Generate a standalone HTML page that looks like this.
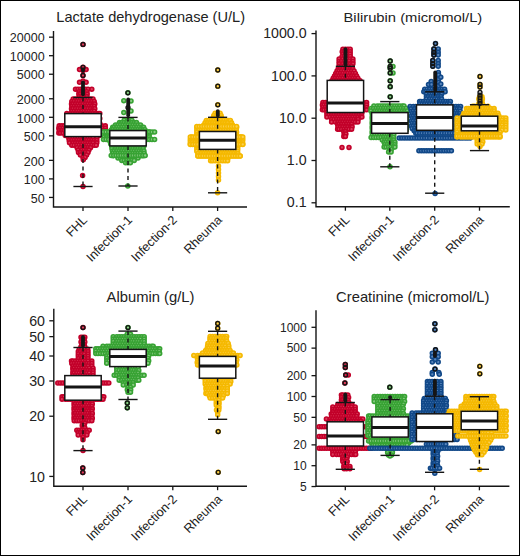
<!DOCTYPE html>
<html><head><meta charset="utf-8"><style>
html,body{margin:0;padding:0;background:#fff;}
svg{display:block;font-family:"Liberation Sans", sans-serif;}
</style></head><body>
<svg width="520" height="556" viewBox="0 0 520 556">
<rect x="0" y="0" width="520" height="556" fill="#fff"/>
<path d="M53.5,31.0 V207.0 H247.0" fill="none" stroke="#151515" stroke-width="1.4"/>
<line x1="49.0" y1="37.16" x2="53.5" y2="37.16" stroke="#151515" stroke-width="1.3"/>
<text x="44.6" y="42.36" font-size="12.5" text-anchor="end" fill="#222">20000</text>
<line x1="49.0" y1="55.70" x2="53.5" y2="55.70" stroke="#151515" stroke-width="1.3"/>
<text x="44.6" y="60.90" font-size="12.5" text-anchor="end" fill="#222">10000</text>
<line x1="49.0" y1="74.24" x2="53.5" y2="74.24" stroke="#151515" stroke-width="1.3"/>
<text x="44.6" y="79.44" font-size="12.5" text-anchor="end" fill="#222">5000</text>
<line x1="49.0" y1="98.76" x2="53.5" y2="98.76" stroke="#151515" stroke-width="1.3"/>
<text x="44.6" y="103.96" font-size="12.5" text-anchor="end" fill="#222">2000</text>
<line x1="49.0" y1="117.30" x2="53.5" y2="117.30" stroke="#151515" stroke-width="1.3"/>
<text x="44.6" y="122.50" font-size="12.5" text-anchor="end" fill="#222">1000</text>
<line x1="49.0" y1="135.84" x2="53.5" y2="135.84" stroke="#151515" stroke-width="1.3"/>
<text x="44.6" y="141.04" font-size="12.5" text-anchor="end" fill="#222">500</text>
<line x1="49.0" y1="160.36" x2="53.5" y2="160.36" stroke="#151515" stroke-width="1.3"/>
<text x="44.6" y="165.56" font-size="12.5" text-anchor="end" fill="#222">200</text>
<line x1="49.0" y1="178.90" x2="53.5" y2="178.90" stroke="#151515" stroke-width="1.3"/>
<text x="44.6" y="184.10" font-size="12.5" text-anchor="end" fill="#222">100</text>
<line x1="49.0" y1="197.44" x2="53.5" y2="197.44" stroke="#151515" stroke-width="1.3"/>
<text x="44.6" y="202.64" font-size="12.5" text-anchor="end" fill="#222">50</text>
<line x1="83.0" y1="207.0" x2="83.0" y2="211.0" stroke="#151515" stroke-width="1.3"/>
<text x="88.00" y="220.80" font-size="12.6" text-anchor="end" fill="#222" transform="rotate(-45 88.00 220.80)">FHL</text>
<line x1="128.0" y1="207.0" x2="128.0" y2="211.0" stroke="#151515" stroke-width="1.3"/>
<text x="133.00" y="220.80" font-size="12.6" text-anchor="end" fill="#222" transform="rotate(-45 133.00 220.80)">Infection-1</text>
<line x1="172.8" y1="207.0" x2="172.8" y2="211.0" stroke="#151515" stroke-width="1.3"/>
<text x="177.80" y="220.80" font-size="12.6" text-anchor="end" fill="#222" transform="rotate(-45 177.80 220.80)">Infection-2</text>
<line x1="217.6" y1="207.0" x2="217.6" y2="211.0" stroke="#151515" stroke-width="1.3"/>
<text x="222.60" y="220.80" font-size="12.6" text-anchor="end" fill="#222" transform="rotate(-45 222.60 220.80)">Rheuma</text>
<text x="56.3" y="22.3" font-size="14.5" fill="#222" textLength="188.7" lengthAdjust="spacingAndGlyphs">Lactate dehydrogenase (U/L)</text>
<g stroke-width="1.6" fill="#dc3e5c" stroke="#c2002a">
<circle cx="75.5" cy="89.2" r="1.95"/>
<circle cx="78.0" cy="89.2" r="1.95"/>
<circle cx="80.5" cy="89.2" r="1.95"/>
<circle cx="83.0" cy="89.2" r="1.95"/>
<circle cx="85.5" cy="89.2" r="1.95"/>
<circle cx="88.0" cy="89.2" r="1.95"/>
<circle cx="91.8" cy="89.2" r="1.95"/>
<circle cx="79.2" cy="91.7" r="1.95"/>
<circle cx="81.8" cy="91.7" r="1.95"/>
<circle cx="84.2" cy="91.7" r="1.95"/>
<circle cx="86.8" cy="91.7" r="1.95"/>
<circle cx="78.8" cy="94.1" r="1.95"/>
<circle cx="80.5" cy="94.1" r="1.95"/>
<circle cx="83.0" cy="94.1" r="1.95"/>
<circle cx="85.5" cy="94.1" r="1.95"/>
<circle cx="87.2" cy="94.1" r="1.95"/>
<circle cx="79.2" cy="96.6" r="1.95"/>
<circle cx="81.8" cy="96.6" r="1.95"/>
<circle cx="84.2" cy="96.6" r="1.95"/>
<circle cx="86.8" cy="96.6" r="1.95"/>
<circle cx="73.2" cy="99.0" r="1.95"/>
<circle cx="75.5" cy="99.0" r="1.95"/>
<circle cx="78.0" cy="99.0" r="1.95"/>
<circle cx="80.5" cy="99.0" r="1.95"/>
<circle cx="83.0" cy="99.0" r="1.95"/>
<circle cx="85.5" cy="99.0" r="1.95"/>
<circle cx="88.0" cy="99.0" r="1.95"/>
<circle cx="90.5" cy="99.0" r="1.95"/>
<circle cx="93.0" cy="99.0" r="1.95"/>
<circle cx="71.8" cy="101.4" r="1.95"/>
<circle cx="74.2" cy="101.4" r="1.95"/>
<circle cx="76.8" cy="101.4" r="1.95"/>
<circle cx="79.2" cy="101.4" r="1.95"/>
<circle cx="81.8" cy="101.4" r="1.95"/>
<circle cx="84.2" cy="101.4" r="1.95"/>
<circle cx="86.8" cy="101.4" r="1.95"/>
<circle cx="89.2" cy="101.4" r="1.95"/>
<circle cx="91.8" cy="101.4" r="1.95"/>
<circle cx="94.2" cy="101.4" r="1.95"/>
<circle cx="71.5" cy="103.9" r="1.95"/>
<circle cx="73.0" cy="103.9" r="1.95"/>
<circle cx="75.5" cy="103.9" r="1.95"/>
<circle cx="78.0" cy="103.9" r="1.95"/>
<circle cx="80.5" cy="103.9" r="1.95"/>
<circle cx="83.0" cy="103.9" r="1.95"/>
<circle cx="85.5" cy="103.9" r="1.95"/>
<circle cx="88.0" cy="103.9" r="1.95"/>
<circle cx="90.5" cy="103.9" r="1.95"/>
<circle cx="93.0" cy="103.9" r="1.95"/>
<circle cx="94.8" cy="103.9" r="1.95"/>
<circle cx="71.8" cy="106.3" r="1.95"/>
<circle cx="74.2" cy="106.3" r="1.95"/>
<circle cx="76.8" cy="106.3" r="1.95"/>
<circle cx="79.2" cy="106.3" r="1.95"/>
<circle cx="81.8" cy="106.3" r="1.95"/>
<circle cx="84.2" cy="106.3" r="1.95"/>
<circle cx="86.8" cy="106.3" r="1.95"/>
<circle cx="89.2" cy="106.3" r="1.95"/>
<circle cx="91.8" cy="106.3" r="1.95"/>
<circle cx="94.2" cy="106.3" r="1.95"/>
<circle cx="71.5" cy="108.7" r="1.95"/>
<circle cx="73.0" cy="108.7" r="1.95"/>
<circle cx="75.5" cy="108.7" r="1.95"/>
<circle cx="78.0" cy="108.7" r="1.95"/>
<circle cx="80.5" cy="108.7" r="1.95"/>
<circle cx="83.0" cy="108.7" r="1.95"/>
<circle cx="85.5" cy="108.7" r="1.95"/>
<circle cx="88.0" cy="108.7" r="1.95"/>
<circle cx="90.5" cy="108.7" r="1.95"/>
<circle cx="93.0" cy="108.7" r="1.95"/>
<circle cx="94.8" cy="108.7" r="1.95"/>
<circle cx="71.8" cy="111.2" r="1.95"/>
<circle cx="74.2" cy="111.2" r="1.95"/>
<circle cx="76.8" cy="111.2" r="1.95"/>
<circle cx="79.2" cy="111.2" r="1.95"/>
<circle cx="81.8" cy="111.2" r="1.95"/>
<circle cx="84.2" cy="111.2" r="1.95"/>
<circle cx="86.8" cy="111.2" r="1.95"/>
<circle cx="89.2" cy="111.2" r="1.95"/>
<circle cx="91.8" cy="111.2" r="1.95"/>
<circle cx="94.2" cy="111.2" r="1.95"/>
<circle cx="66.8" cy="113.6" r="1.95"/>
<circle cx="70.5" cy="113.6" r="1.95"/>
<circle cx="73.0" cy="113.6" r="1.95"/>
<circle cx="75.5" cy="113.6" r="1.95"/>
<circle cx="78.0" cy="113.6" r="1.95"/>
<circle cx="80.5" cy="113.6" r="1.95"/>
<circle cx="83.0" cy="113.6" r="1.95"/>
<circle cx="85.5" cy="113.6" r="1.95"/>
<circle cx="88.0" cy="113.6" r="1.95"/>
<circle cx="90.5" cy="113.6" r="1.95"/>
<circle cx="93.0" cy="113.6" r="1.95"/>
<circle cx="95.5" cy="113.6" r="1.95"/>
<circle cx="98.0" cy="113.6" r="1.95"/>
<circle cx="99.8" cy="113.6" r="1.95"/>
<circle cx="66.8" cy="116.0" r="1.95"/>
<circle cx="69.2" cy="116.0" r="1.95"/>
<circle cx="71.8" cy="116.0" r="1.95"/>
<circle cx="74.2" cy="116.0" r="1.95"/>
<circle cx="76.8" cy="116.0" r="1.95"/>
<circle cx="79.2" cy="116.0" r="1.95"/>
<circle cx="81.8" cy="116.0" r="1.95"/>
<circle cx="84.2" cy="116.0" r="1.95"/>
<circle cx="86.8" cy="116.0" r="1.95"/>
<circle cx="89.2" cy="116.0" r="1.95"/>
<circle cx="91.8" cy="116.0" r="1.95"/>
<circle cx="94.2" cy="116.0" r="1.95"/>
<circle cx="96.8" cy="116.0" r="1.95"/>
<circle cx="99.2" cy="116.0" r="1.95"/>
<circle cx="66.8" cy="118.5" r="1.95"/>
<circle cx="70.5" cy="118.5" r="1.95"/>
<circle cx="73.0" cy="118.5" r="1.95"/>
<circle cx="75.5" cy="118.5" r="1.95"/>
<circle cx="78.0" cy="118.5" r="1.95"/>
<circle cx="80.5" cy="118.5" r="1.95"/>
<circle cx="83.0" cy="118.5" r="1.95"/>
<circle cx="85.5" cy="118.5" r="1.95"/>
<circle cx="88.0" cy="118.5" r="1.95"/>
<circle cx="90.5" cy="118.5" r="1.95"/>
<circle cx="93.0" cy="118.5" r="1.95"/>
<circle cx="95.5" cy="118.5" r="1.95"/>
<circle cx="98.0" cy="118.5" r="1.95"/>
<circle cx="99.8" cy="118.5" r="1.95"/>
<circle cx="66.8" cy="120.9" r="1.95"/>
<circle cx="69.2" cy="120.9" r="1.95"/>
<circle cx="71.8" cy="120.9" r="1.95"/>
<circle cx="74.2" cy="120.9" r="1.95"/>
<circle cx="76.8" cy="120.9" r="1.95"/>
<circle cx="79.2" cy="120.9" r="1.95"/>
<circle cx="81.8" cy="120.9" r="1.95"/>
<circle cx="84.2" cy="120.9" r="1.95"/>
<circle cx="86.8" cy="120.9" r="1.95"/>
<circle cx="89.2" cy="120.9" r="1.95"/>
<circle cx="91.8" cy="120.9" r="1.95"/>
<circle cx="94.2" cy="120.9" r="1.95"/>
<circle cx="96.8" cy="120.9" r="1.95"/>
<circle cx="99.2" cy="120.9" r="1.95"/>
<circle cx="66.8" cy="123.3" r="1.95"/>
<circle cx="70.5" cy="123.3" r="1.95"/>
<circle cx="73.0" cy="123.3" r="1.95"/>
<circle cx="75.5" cy="123.3" r="1.95"/>
<circle cx="78.0" cy="123.3" r="1.95"/>
<circle cx="80.5" cy="123.3" r="1.95"/>
<circle cx="83.0" cy="123.3" r="1.95"/>
<circle cx="85.5" cy="123.3" r="1.95"/>
<circle cx="88.0" cy="123.3" r="1.95"/>
<circle cx="90.5" cy="123.3" r="1.95"/>
<circle cx="93.0" cy="123.3" r="1.95"/>
<circle cx="95.5" cy="123.3" r="1.95"/>
<circle cx="98.0" cy="123.3" r="1.95"/>
<circle cx="99.8" cy="123.3" r="1.95"/>
<circle cx="59.2" cy="125.8" r="1.95"/>
<circle cx="61.8" cy="125.8" r="1.95"/>
<circle cx="64.2" cy="125.8" r="1.95"/>
<circle cx="66.8" cy="125.8" r="1.95"/>
<circle cx="69.2" cy="125.8" r="1.95"/>
<circle cx="71.8" cy="125.8" r="1.95"/>
<circle cx="74.2" cy="125.8" r="1.95"/>
<circle cx="76.8" cy="125.8" r="1.95"/>
<circle cx="79.2" cy="125.8" r="1.95"/>
<circle cx="81.8" cy="125.8" r="1.95"/>
<circle cx="84.2" cy="125.8" r="1.95"/>
<circle cx="86.8" cy="125.8" r="1.95"/>
<circle cx="89.2" cy="125.8" r="1.95"/>
<circle cx="91.8" cy="125.8" r="1.95"/>
<circle cx="94.2" cy="125.8" r="1.95"/>
<circle cx="96.8" cy="125.8" r="1.95"/>
<circle cx="99.2" cy="125.8" r="1.95"/>
<circle cx="101.8" cy="125.8" r="1.95"/>
<circle cx="105.3" cy="125.8" r="1.95"/>
<circle cx="58.8" cy="128.2" r="1.95"/>
<circle cx="60.5" cy="128.2" r="1.95"/>
<circle cx="63.0" cy="128.2" r="1.95"/>
<circle cx="65.5" cy="128.2" r="1.95"/>
<circle cx="68.0" cy="128.2" r="1.95"/>
<circle cx="70.5" cy="128.2" r="1.95"/>
<circle cx="73.0" cy="128.2" r="1.95"/>
<circle cx="75.5" cy="128.2" r="1.95"/>
<circle cx="78.0" cy="128.2" r="1.95"/>
<circle cx="80.5" cy="128.2" r="1.95"/>
<circle cx="83.0" cy="128.2" r="1.95"/>
<circle cx="85.5" cy="128.2" r="1.95"/>
<circle cx="88.0" cy="128.2" r="1.95"/>
<circle cx="90.5" cy="128.2" r="1.95"/>
<circle cx="93.0" cy="128.2" r="1.95"/>
<circle cx="95.5" cy="128.2" r="1.95"/>
<circle cx="98.0" cy="128.2" r="1.95"/>
<circle cx="100.5" cy="128.2" r="1.95"/>
<circle cx="103.0" cy="128.2" r="1.95"/>
<circle cx="105.4" cy="128.2" r="1.95"/>
<circle cx="59.2" cy="130.6" r="1.95"/>
<circle cx="61.8" cy="130.6" r="1.95"/>
<circle cx="64.2" cy="130.6" r="1.95"/>
<circle cx="66.8" cy="130.6" r="1.95"/>
<circle cx="69.2" cy="130.6" r="1.95"/>
<circle cx="71.8" cy="130.6" r="1.95"/>
<circle cx="74.2" cy="130.6" r="1.95"/>
<circle cx="76.8" cy="130.6" r="1.95"/>
<circle cx="79.2" cy="130.6" r="1.95"/>
<circle cx="81.8" cy="130.6" r="1.95"/>
<circle cx="84.2" cy="130.6" r="1.95"/>
<circle cx="86.8" cy="130.6" r="1.95"/>
<circle cx="89.2" cy="130.6" r="1.95"/>
<circle cx="91.8" cy="130.6" r="1.95"/>
<circle cx="94.2" cy="130.6" r="1.95"/>
<circle cx="96.8" cy="130.6" r="1.95"/>
<circle cx="99.2" cy="130.6" r="1.95"/>
<circle cx="101.8" cy="130.6" r="1.95"/>
<circle cx="105.4" cy="130.6" r="1.95"/>
<circle cx="58.8" cy="133.1" r="1.95"/>
<circle cx="60.5" cy="133.1" r="1.95"/>
<circle cx="63.0" cy="133.1" r="1.95"/>
<circle cx="65.5" cy="133.1" r="1.95"/>
<circle cx="68.0" cy="133.1" r="1.95"/>
<circle cx="70.5" cy="133.1" r="1.95"/>
<circle cx="73.0" cy="133.1" r="1.95"/>
<circle cx="75.5" cy="133.1" r="1.95"/>
<circle cx="78.0" cy="133.1" r="1.95"/>
<circle cx="80.5" cy="133.1" r="1.95"/>
<circle cx="83.0" cy="133.1" r="1.95"/>
<circle cx="85.5" cy="133.1" r="1.95"/>
<circle cx="88.0" cy="133.1" r="1.95"/>
<circle cx="90.5" cy="133.1" r="1.95"/>
<circle cx="93.0" cy="133.1" r="1.95"/>
<circle cx="95.5" cy="133.1" r="1.95"/>
<circle cx="98.0" cy="133.1" r="1.95"/>
<circle cx="100.5" cy="133.1" r="1.95"/>
<circle cx="103.0" cy="133.1" r="1.95"/>
<circle cx="105.5" cy="133.1" r="1.95"/>
<circle cx="65.3" cy="135.5" r="1.95"/>
<circle cx="66.8" cy="135.5" r="1.95"/>
<circle cx="69.2" cy="135.5" r="1.95"/>
<circle cx="71.8" cy="135.5" r="1.95"/>
<circle cx="74.2" cy="135.5" r="1.95"/>
<circle cx="76.8" cy="135.5" r="1.95"/>
<circle cx="79.2" cy="135.5" r="1.95"/>
<circle cx="81.8" cy="135.5" r="1.95"/>
<circle cx="84.2" cy="135.5" r="1.95"/>
<circle cx="86.8" cy="135.5" r="1.95"/>
<circle cx="89.2" cy="135.5" r="1.95"/>
<circle cx="91.8" cy="135.5" r="1.95"/>
<circle cx="94.2" cy="135.5" r="1.95"/>
<circle cx="96.8" cy="135.5" r="1.95"/>
<circle cx="99.2" cy="135.5" r="1.95"/>
<circle cx="68.8" cy="137.9" r="1.95"/>
<circle cx="70.5" cy="137.9" r="1.95"/>
<circle cx="73.0" cy="137.9" r="1.95"/>
<circle cx="75.5" cy="137.9" r="1.95"/>
<circle cx="78.0" cy="137.9" r="1.95"/>
<circle cx="80.5" cy="137.9" r="1.95"/>
<circle cx="83.0" cy="137.9" r="1.95"/>
<circle cx="85.5" cy="137.9" r="1.95"/>
<circle cx="88.0" cy="137.9" r="1.95"/>
<circle cx="90.5" cy="137.9" r="1.95"/>
<circle cx="93.0" cy="137.9" r="1.95"/>
<circle cx="96.8" cy="137.9" r="1.95"/>
<circle cx="69.2" cy="140.4" r="1.95"/>
<circle cx="71.8" cy="140.4" r="1.95"/>
<circle cx="74.2" cy="140.4" r="1.95"/>
<circle cx="76.8" cy="140.4" r="1.95"/>
<circle cx="79.2" cy="140.4" r="1.95"/>
<circle cx="81.8" cy="140.4" r="1.95"/>
<circle cx="84.2" cy="140.4" r="1.95"/>
<circle cx="86.8" cy="140.4" r="1.95"/>
<circle cx="89.2" cy="140.4" r="1.95"/>
<circle cx="91.8" cy="140.4" r="1.95"/>
<circle cx="94.2" cy="140.4" r="1.95"/>
<circle cx="96.8" cy="140.4" r="1.95"/>
<circle cx="69.5" cy="142.8" r="1.95"/>
<circle cx="73.0" cy="142.8" r="1.95"/>
<circle cx="75.5" cy="142.8" r="1.95"/>
<circle cx="78.0" cy="142.8" r="1.95"/>
<circle cx="80.5" cy="142.8" r="1.95"/>
<circle cx="83.0" cy="142.8" r="1.95"/>
<circle cx="85.5" cy="142.8" r="1.95"/>
<circle cx="88.0" cy="142.8" r="1.95"/>
<circle cx="90.5" cy="142.8" r="1.95"/>
<circle cx="93.0" cy="142.8" r="1.95"/>
<circle cx="96.8" cy="142.8" r="1.95"/>
<circle cx="71.8" cy="145.2" r="1.95"/>
<circle cx="74.2" cy="145.2" r="1.95"/>
<circle cx="76.8" cy="145.2" r="1.95"/>
<circle cx="79.2" cy="145.2" r="1.95"/>
<circle cx="81.8" cy="145.2" r="1.95"/>
<circle cx="84.2" cy="145.2" r="1.95"/>
<circle cx="86.8" cy="145.2" r="1.95"/>
<circle cx="89.2" cy="145.2" r="1.95"/>
<circle cx="91.8" cy="145.2" r="1.95"/>
<circle cx="94.2" cy="145.2" r="1.95"/>
<circle cx="96.2" cy="145.2" r="1.95"/>
<circle cx="77.1" cy="147.7" r="1.95"/>
<circle cx="80.5" cy="147.7" r="1.95"/>
<circle cx="83.0" cy="147.7" r="1.95"/>
<circle cx="85.5" cy="147.7" r="1.95"/>
<circle cx="88.0" cy="147.7" r="1.95"/>
<circle cx="90.5" cy="147.7" r="1.95"/>
<circle cx="78.1" cy="150.1" r="1.95"/>
<circle cx="81.8" cy="150.1" r="1.95"/>
<circle cx="84.2" cy="150.1" r="1.95"/>
<circle cx="86.8" cy="150.1" r="1.95"/>
<circle cx="88.9" cy="150.1" r="1.95"/>
<circle cx="78.5" cy="152.5" r="1.95"/>
<circle cx="80.5" cy="152.5" r="1.95"/>
<circle cx="83.0" cy="152.5" r="1.95"/>
<circle cx="85.5" cy="152.5" r="1.95"/>
<circle cx="88.0" cy="152.5" r="1.95"/>
<circle cx="80.4" cy="155.0" r="1.95"/>
<circle cx="84.2" cy="155.0" r="1.95"/>
<circle cx="86.6" cy="155.0" r="1.95"/>
<circle cx="83.0" cy="157.4" r="1.95"/>
<circle cx="85.1" cy="157.4" r="1.95"/>
<circle cx="83.3" cy="159.8" r="1.95"/>
<circle cx="83.0" cy="44.4" r="1.95"/>
<circle cx="83.0" cy="67.3" r="1.95"/>
<circle cx="79.5" cy="69.6" r="1.95"/>
<circle cx="86.1" cy="69.6" r="1.95"/>
<circle cx="83.0" cy="70.5" r="1.95"/>
<circle cx="83.0" cy="75.4" r="1.95"/>
<circle cx="83.0" cy="81.0" r="1.95"/>
<circle cx="79.5" cy="82.3" r="1.95"/>
<circle cx="86.1" cy="82.3" r="1.95"/>
<circle cx="82.6" cy="175.6" r="1.95"/>
<circle cx="83.0" cy="186.5" r="1.95"/>
</g>
<g stroke-width="1.6" fill="#8ccc86" stroke="#38a334">
<circle cx="124.2" cy="120.2" r="1.95"/>
<circle cx="128.0" cy="120.2" r="1.95"/>
<circle cx="131.8" cy="120.2" r="1.95"/>
<circle cx="119.5" cy="122.6" r="1.95"/>
<circle cx="121.8" cy="122.6" r="1.95"/>
<circle cx="124.2" cy="122.6" r="1.95"/>
<circle cx="126.8" cy="122.6" r="1.95"/>
<circle cx="129.2" cy="122.6" r="1.95"/>
<circle cx="131.8" cy="122.6" r="1.95"/>
<circle cx="134.2" cy="122.6" r="1.95"/>
<circle cx="136.5" cy="122.6" r="1.95"/>
<circle cx="115.5" cy="125.0" r="1.95"/>
<circle cx="118.0" cy="125.0" r="1.95"/>
<circle cx="120.5" cy="125.0" r="1.95"/>
<circle cx="123.0" cy="125.0" r="1.95"/>
<circle cx="125.5" cy="125.0" r="1.95"/>
<circle cx="128.0" cy="125.0" r="1.95"/>
<circle cx="130.5" cy="125.0" r="1.95"/>
<circle cx="133.0" cy="125.0" r="1.95"/>
<circle cx="135.5" cy="125.0" r="1.95"/>
<circle cx="138.0" cy="125.0" r="1.95"/>
<circle cx="140.5" cy="125.0" r="1.95"/>
<circle cx="112.7" cy="127.3" r="1.95"/>
<circle cx="114.2" cy="127.3" r="1.95"/>
<circle cx="116.8" cy="127.3" r="1.95"/>
<circle cx="119.2" cy="127.3" r="1.95"/>
<circle cx="121.8" cy="127.3" r="1.95"/>
<circle cx="124.2" cy="127.3" r="1.95"/>
<circle cx="126.8" cy="127.3" r="1.95"/>
<circle cx="129.2" cy="127.3" r="1.95"/>
<circle cx="131.8" cy="127.3" r="1.95"/>
<circle cx="134.2" cy="127.3" r="1.95"/>
<circle cx="136.8" cy="127.3" r="1.95"/>
<circle cx="139.2" cy="127.3" r="1.95"/>
<circle cx="141.8" cy="127.3" r="1.95"/>
<circle cx="143.6" cy="127.3" r="1.95"/>
<circle cx="111.5" cy="129.7" r="1.95"/>
<circle cx="113.0" cy="129.7" r="1.95"/>
<circle cx="115.5" cy="129.7" r="1.95"/>
<circle cx="118.0" cy="129.7" r="1.95"/>
<circle cx="120.5" cy="129.7" r="1.95"/>
<circle cx="123.0" cy="129.7" r="1.95"/>
<circle cx="125.5" cy="129.7" r="1.95"/>
<circle cx="128.0" cy="129.7" r="1.95"/>
<circle cx="130.5" cy="129.7" r="1.95"/>
<circle cx="133.0" cy="129.7" r="1.95"/>
<circle cx="135.5" cy="129.7" r="1.95"/>
<circle cx="138.0" cy="129.7" r="1.95"/>
<circle cx="140.5" cy="129.7" r="1.95"/>
<circle cx="143.0" cy="129.7" r="1.95"/>
<circle cx="144.9" cy="129.7" r="1.95"/>
<circle cx="104.2" cy="132.1" r="1.95"/>
<circle cx="106.8" cy="132.1" r="1.95"/>
<circle cx="109.2" cy="132.1" r="1.95"/>
<circle cx="111.8" cy="132.1" r="1.95"/>
<circle cx="114.2" cy="132.1" r="1.95"/>
<circle cx="116.8" cy="132.1" r="1.95"/>
<circle cx="119.2" cy="132.1" r="1.95"/>
<circle cx="121.8" cy="132.1" r="1.95"/>
<circle cx="124.2" cy="132.1" r="1.95"/>
<circle cx="126.8" cy="132.1" r="1.95"/>
<circle cx="129.2" cy="132.1" r="1.95"/>
<circle cx="131.8" cy="132.1" r="1.95"/>
<circle cx="134.2" cy="132.1" r="1.95"/>
<circle cx="136.8" cy="132.1" r="1.95"/>
<circle cx="139.2" cy="132.1" r="1.95"/>
<circle cx="141.8" cy="132.1" r="1.95"/>
<circle cx="144.2" cy="132.1" r="1.95"/>
<circle cx="146.8" cy="132.1" r="1.95"/>
<circle cx="149.2" cy="132.1" r="1.95"/>
<circle cx="103.5" cy="134.4" r="1.95"/>
<circle cx="105.5" cy="134.4" r="1.95"/>
<circle cx="108.0" cy="134.4" r="1.95"/>
<circle cx="110.5" cy="134.4" r="1.95"/>
<circle cx="113.0" cy="134.4" r="1.95"/>
<circle cx="115.5" cy="134.4" r="1.95"/>
<circle cx="118.0" cy="134.4" r="1.95"/>
<circle cx="120.5" cy="134.4" r="1.95"/>
<circle cx="123.0" cy="134.4" r="1.95"/>
<circle cx="125.5" cy="134.4" r="1.95"/>
<circle cx="128.0" cy="134.4" r="1.95"/>
<circle cx="130.5" cy="134.4" r="1.95"/>
<circle cx="133.0" cy="134.4" r="1.95"/>
<circle cx="135.5" cy="134.4" r="1.95"/>
<circle cx="138.0" cy="134.4" r="1.95"/>
<circle cx="140.5" cy="134.4" r="1.95"/>
<circle cx="143.0" cy="134.4" r="1.95"/>
<circle cx="145.5" cy="134.4" r="1.95"/>
<circle cx="149.2" cy="134.4" r="1.95"/>
<circle cx="104.2" cy="136.8" r="1.95"/>
<circle cx="106.8" cy="136.8" r="1.95"/>
<circle cx="109.2" cy="136.8" r="1.95"/>
<circle cx="111.8" cy="136.8" r="1.95"/>
<circle cx="114.2" cy="136.8" r="1.95"/>
<circle cx="116.8" cy="136.8" r="1.95"/>
<circle cx="119.2" cy="136.8" r="1.95"/>
<circle cx="121.8" cy="136.8" r="1.95"/>
<circle cx="124.2" cy="136.8" r="1.95"/>
<circle cx="126.8" cy="136.8" r="1.95"/>
<circle cx="129.2" cy="136.8" r="1.95"/>
<circle cx="131.8" cy="136.8" r="1.95"/>
<circle cx="134.2" cy="136.8" r="1.95"/>
<circle cx="136.8" cy="136.8" r="1.95"/>
<circle cx="139.2" cy="136.8" r="1.95"/>
<circle cx="141.8" cy="136.8" r="1.95"/>
<circle cx="144.2" cy="136.8" r="1.95"/>
<circle cx="146.8" cy="136.8" r="1.95"/>
<circle cx="149.2" cy="136.8" r="1.95"/>
<circle cx="105.5" cy="139.1" r="1.95"/>
<circle cx="108.0" cy="139.1" r="1.95"/>
<circle cx="110.5" cy="139.1" r="1.95"/>
<circle cx="113.0" cy="139.1" r="1.95"/>
<circle cx="115.5" cy="139.1" r="1.95"/>
<circle cx="118.0" cy="139.1" r="1.95"/>
<circle cx="120.5" cy="139.1" r="1.95"/>
<circle cx="123.0" cy="139.1" r="1.95"/>
<circle cx="125.5" cy="139.1" r="1.95"/>
<circle cx="128.0" cy="139.1" r="1.95"/>
<circle cx="130.5" cy="139.1" r="1.95"/>
<circle cx="133.0" cy="139.1" r="1.95"/>
<circle cx="135.5" cy="139.1" r="1.95"/>
<circle cx="138.0" cy="139.1" r="1.95"/>
<circle cx="140.5" cy="139.1" r="1.95"/>
<circle cx="143.0" cy="139.1" r="1.95"/>
<circle cx="145.5" cy="139.1" r="1.95"/>
<circle cx="149.2" cy="139.1" r="1.95"/>
<circle cx="110.0" cy="141.5" r="1.95"/>
<circle cx="111.8" cy="141.5" r="1.95"/>
<circle cx="114.2" cy="141.5" r="1.95"/>
<circle cx="116.8" cy="141.5" r="1.95"/>
<circle cx="119.2" cy="141.5" r="1.95"/>
<circle cx="121.8" cy="141.5" r="1.95"/>
<circle cx="124.2" cy="141.5" r="1.95"/>
<circle cx="126.8" cy="141.5" r="1.95"/>
<circle cx="129.2" cy="141.5" r="1.95"/>
<circle cx="131.8" cy="141.5" r="1.95"/>
<circle cx="134.2" cy="141.5" r="1.95"/>
<circle cx="136.8" cy="141.5" r="1.95"/>
<circle cx="139.2" cy="141.5" r="1.95"/>
<circle cx="141.8" cy="141.5" r="1.95"/>
<circle cx="144.1" cy="141.5" r="1.95"/>
<circle cx="110.7" cy="143.9" r="1.95"/>
<circle cx="113.0" cy="143.9" r="1.95"/>
<circle cx="115.5" cy="143.9" r="1.95"/>
<circle cx="118.0" cy="143.9" r="1.95"/>
<circle cx="120.5" cy="143.9" r="1.95"/>
<circle cx="123.0" cy="143.9" r="1.95"/>
<circle cx="125.5" cy="143.9" r="1.95"/>
<circle cx="128.0" cy="143.9" r="1.95"/>
<circle cx="130.5" cy="143.9" r="1.95"/>
<circle cx="133.0" cy="143.9" r="1.95"/>
<circle cx="135.5" cy="143.9" r="1.95"/>
<circle cx="138.0" cy="143.9" r="1.95"/>
<circle cx="140.5" cy="143.9" r="1.95"/>
<circle cx="143.9" cy="143.9" r="1.95"/>
<circle cx="111.8" cy="146.2" r="1.95"/>
<circle cx="114.2" cy="146.2" r="1.95"/>
<circle cx="116.8" cy="146.2" r="1.95"/>
<circle cx="119.2" cy="146.2" r="1.95"/>
<circle cx="121.8" cy="146.2" r="1.95"/>
<circle cx="124.2" cy="146.2" r="1.95"/>
<circle cx="126.8" cy="146.2" r="1.95"/>
<circle cx="129.2" cy="146.2" r="1.95"/>
<circle cx="131.8" cy="146.2" r="1.95"/>
<circle cx="134.2" cy="146.2" r="1.95"/>
<circle cx="136.8" cy="146.2" r="1.95"/>
<circle cx="139.2" cy="146.2" r="1.95"/>
<circle cx="141.8" cy="146.2" r="1.95"/>
<circle cx="143.8" cy="146.2" r="1.95"/>
<circle cx="111.9" cy="148.6" r="1.95"/>
<circle cx="115.5" cy="148.6" r="1.95"/>
<circle cx="118.0" cy="148.6" r="1.95"/>
<circle cx="120.5" cy="148.6" r="1.95"/>
<circle cx="123.0" cy="148.6" r="1.95"/>
<circle cx="125.5" cy="148.6" r="1.95"/>
<circle cx="128.0" cy="148.6" r="1.95"/>
<circle cx="130.5" cy="148.6" r="1.95"/>
<circle cx="133.0" cy="148.6" r="1.95"/>
<circle cx="135.5" cy="148.6" r="1.95"/>
<circle cx="138.0" cy="148.6" r="1.95"/>
<circle cx="140.5" cy="148.6" r="1.95"/>
<circle cx="143.0" cy="148.6" r="1.95"/>
<circle cx="112.4" cy="150.9" r="1.95"/>
<circle cx="114.2" cy="150.9" r="1.95"/>
<circle cx="116.8" cy="150.9" r="1.95"/>
<circle cx="119.2" cy="150.9" r="1.95"/>
<circle cx="121.8" cy="150.9" r="1.95"/>
<circle cx="124.2" cy="150.9" r="1.95"/>
<circle cx="126.8" cy="150.9" r="1.95"/>
<circle cx="129.2" cy="150.9" r="1.95"/>
<circle cx="131.8" cy="150.9" r="1.95"/>
<circle cx="134.2" cy="150.9" r="1.95"/>
<circle cx="136.8" cy="150.9" r="1.95"/>
<circle cx="139.2" cy="150.9" r="1.95"/>
<circle cx="141.8" cy="150.9" r="1.95"/>
<circle cx="143.9" cy="150.9" r="1.95"/>
<circle cx="113.0" cy="153.3" r="1.95"/>
<circle cx="115.5" cy="153.3" r="1.95"/>
<circle cx="118.0" cy="153.3" r="1.95"/>
<circle cx="120.5" cy="153.3" r="1.95"/>
<circle cx="123.0" cy="153.3" r="1.95"/>
<circle cx="125.5" cy="153.3" r="1.95"/>
<circle cx="128.0" cy="153.3" r="1.95"/>
<circle cx="130.5" cy="153.3" r="1.95"/>
<circle cx="133.0" cy="153.3" r="1.95"/>
<circle cx="135.5" cy="153.3" r="1.95"/>
<circle cx="138.0" cy="153.3" r="1.95"/>
<circle cx="140.5" cy="153.3" r="1.95"/>
<circle cx="144.1" cy="153.3" r="1.95"/>
<circle cx="113.1" cy="155.7" r="1.95"/>
<circle cx="116.8" cy="155.7" r="1.95"/>
<circle cx="119.2" cy="155.7" r="1.95"/>
<circle cx="121.8" cy="155.7" r="1.95"/>
<circle cx="124.2" cy="155.7" r="1.95"/>
<circle cx="126.8" cy="155.7" r="1.95"/>
<circle cx="129.2" cy="155.7" r="1.95"/>
<circle cx="131.8" cy="155.7" r="1.95"/>
<circle cx="134.2" cy="155.7" r="1.95"/>
<circle cx="136.8" cy="155.7" r="1.95"/>
<circle cx="139.2" cy="155.7" r="1.95"/>
<circle cx="141.8" cy="155.7" r="1.95"/>
<circle cx="143.8" cy="155.7" r="1.95"/>
<circle cx="118.0" cy="158.0" r="1.95"/>
<circle cx="120.5" cy="158.0" r="1.95"/>
<circle cx="123.0" cy="158.0" r="1.95"/>
<circle cx="125.5" cy="158.0" r="1.95"/>
<circle cx="128.0" cy="158.0" r="1.95"/>
<circle cx="130.5" cy="158.0" r="1.95"/>
<circle cx="133.0" cy="158.0" r="1.95"/>
<circle cx="135.5" cy="158.0" r="1.95"/>
<circle cx="138.0" cy="158.0" r="1.95"/>
<circle cx="121.8" cy="160.4" r="1.95"/>
<circle cx="124.2" cy="160.4" r="1.95"/>
<circle cx="126.8" cy="160.4" r="1.95"/>
<circle cx="129.2" cy="160.4" r="1.95"/>
<circle cx="131.8" cy="160.4" r="1.95"/>
<circle cx="134.2" cy="160.4" r="1.95"/>
<circle cx="125.6" cy="162.8" r="1.95"/>
<circle cx="128.0" cy="162.8" r="1.95"/>
<circle cx="130.4" cy="162.8" r="1.95"/>
<circle cx="103.5" cy="132.0" r="1.95"/>
<circle cx="106.1" cy="132.0" r="1.95"/>
<circle cx="108.7" cy="132.0" r="1.95"/>
<circle cx="111.2" cy="132.0" r="1.95"/>
<circle cx="113.8" cy="132.0" r="1.95"/>
<circle cx="116.3" cy="132.0" r="1.95"/>
<circle cx="118.9" cy="132.0" r="1.95"/>
<circle cx="121.4" cy="132.0" r="1.95"/>
<circle cx="124.0" cy="132.0" r="1.95"/>
<circle cx="126.5" cy="132.0" r="1.95"/>
<circle cx="129.1" cy="132.0" r="1.95"/>
<circle cx="131.6" cy="132.0" r="1.95"/>
<circle cx="134.2" cy="132.0" r="1.95"/>
<circle cx="136.7" cy="132.0" r="1.95"/>
<circle cx="139.2" cy="132.0" r="1.95"/>
<circle cx="141.8" cy="132.0" r="1.95"/>
<circle cx="144.4" cy="132.0" r="1.95"/>
<circle cx="146.9" cy="132.0" r="1.95"/>
<circle cx="149.5" cy="132.0" r="1.95"/>
<circle cx="152.0" cy="132.0" r="1.95"/>
<circle cx="154.6" cy="132.0" r="1.95"/>
<circle cx="103.5" cy="139.5" r="1.95"/>
<circle cx="106.1" cy="139.5" r="1.95"/>
<circle cx="108.7" cy="139.5" r="1.95"/>
<circle cx="111.2" cy="139.5" r="1.95"/>
<circle cx="113.8" cy="139.5" r="1.95"/>
<circle cx="116.3" cy="139.5" r="1.95"/>
<circle cx="118.9" cy="139.5" r="1.95"/>
<circle cx="121.4" cy="139.5" r="1.95"/>
<circle cx="124.0" cy="139.5" r="1.95"/>
<circle cx="126.5" cy="139.5" r="1.95"/>
<circle cx="129.1" cy="139.5" r="1.95"/>
<circle cx="131.6" cy="139.5" r="1.95"/>
<circle cx="134.2" cy="139.5" r="1.95"/>
<circle cx="136.7" cy="139.5" r="1.95"/>
<circle cx="139.2" cy="139.5" r="1.95"/>
<circle cx="141.8" cy="139.5" r="1.95"/>
<circle cx="144.4" cy="139.5" r="1.95"/>
<circle cx="146.9" cy="139.5" r="1.95"/>
<circle cx="149.5" cy="139.5" r="1.95"/>
<circle cx="152.0" cy="139.5" r="1.95"/>
<circle cx="154.6" cy="139.5" r="1.95"/>
<circle cx="111.2" cy="155.5" r="1.95"/>
<circle cx="113.7" cy="155.5" r="1.95"/>
<circle cx="116.1" cy="155.5" r="1.95"/>
<circle cx="118.5" cy="155.5" r="1.95"/>
<circle cx="121.0" cy="155.5" r="1.95"/>
<circle cx="123.4" cy="155.5" r="1.95"/>
<circle cx="125.8" cy="155.5" r="1.95"/>
<circle cx="128.2" cy="155.5" r="1.95"/>
<circle cx="130.7" cy="155.5" r="1.95"/>
<circle cx="133.1" cy="155.5" r="1.95"/>
<circle cx="135.5" cy="155.5" r="1.95"/>
<circle cx="138.0" cy="155.5" r="1.95"/>
<circle cx="140.4" cy="155.5" r="1.95"/>
<circle cx="142.8" cy="155.5" r="1.95"/>
<circle cx="145.2" cy="155.5" r="1.95"/>
<circle cx="127.9" cy="92.8" r="1.95"/>
<circle cx="123.8" cy="100.7" r="1.95"/>
<circle cx="131.0" cy="101.0" r="1.95"/>
<circle cx="123.8" cy="112.6" r="1.95"/>
<circle cx="131.0" cy="111.0" r="1.95"/>
<circle cx="127.8" cy="186.0" r="1.95"/>
</g>
<g stroke-width="1.6" fill="#fbd050" stroke="#f5b900">
<circle cx="215.1" cy="113.2" r="1.95"/>
<circle cx="217.6" cy="113.2" r="1.95"/>
<circle cx="220.1" cy="113.2" r="1.95"/>
<circle cx="213.8" cy="115.6" r="1.95"/>
<circle cx="216.3" cy="115.6" r="1.95"/>
<circle cx="218.8" cy="115.6" r="1.95"/>
<circle cx="221.1" cy="115.6" r="1.95"/>
<circle cx="213.1" cy="118.0" r="1.95"/>
<circle cx="215.1" cy="118.0" r="1.95"/>
<circle cx="217.6" cy="118.0" r="1.95"/>
<circle cx="220.1" cy="118.0" r="1.95"/>
<circle cx="221.7" cy="118.0" r="1.95"/>
<circle cx="206.3" cy="120.4" r="1.95"/>
<circle cx="208.8" cy="120.4" r="1.95"/>
<circle cx="211.3" cy="120.4" r="1.95"/>
<circle cx="213.8" cy="120.4" r="1.95"/>
<circle cx="216.3" cy="120.4" r="1.95"/>
<circle cx="218.8" cy="120.4" r="1.95"/>
<circle cx="221.3" cy="120.4" r="1.95"/>
<circle cx="223.8" cy="120.4" r="1.95"/>
<circle cx="226.3" cy="120.4" r="1.95"/>
<circle cx="228.8" cy="120.4" r="1.95"/>
<circle cx="230.4" cy="120.4" r="1.95"/>
<circle cx="205.1" cy="122.8" r="1.95"/>
<circle cx="207.6" cy="122.8" r="1.95"/>
<circle cx="210.1" cy="122.8" r="1.95"/>
<circle cx="212.6" cy="122.8" r="1.95"/>
<circle cx="215.1" cy="122.8" r="1.95"/>
<circle cx="217.6" cy="122.8" r="1.95"/>
<circle cx="220.1" cy="122.8" r="1.95"/>
<circle cx="222.6" cy="122.8" r="1.95"/>
<circle cx="225.1" cy="122.8" r="1.95"/>
<circle cx="227.6" cy="122.8" r="1.95"/>
<circle cx="231.5" cy="122.8" r="1.95"/>
<circle cx="203.8" cy="125.1" r="1.95"/>
<circle cx="206.3" cy="125.1" r="1.95"/>
<circle cx="208.8" cy="125.1" r="1.95"/>
<circle cx="211.3" cy="125.1" r="1.95"/>
<circle cx="213.8" cy="125.1" r="1.95"/>
<circle cx="216.3" cy="125.1" r="1.95"/>
<circle cx="218.8" cy="125.1" r="1.95"/>
<circle cx="221.3" cy="125.1" r="1.95"/>
<circle cx="223.8" cy="125.1" r="1.95"/>
<circle cx="226.3" cy="125.1" r="1.95"/>
<circle cx="228.8" cy="125.1" r="1.95"/>
<circle cx="232.5" cy="125.1" r="1.95"/>
<circle cx="196.8" cy="127.5" r="1.95"/>
<circle cx="200.1" cy="127.5" r="1.95"/>
<circle cx="202.6" cy="127.5" r="1.95"/>
<circle cx="205.1" cy="127.5" r="1.95"/>
<circle cx="207.6" cy="127.5" r="1.95"/>
<circle cx="210.1" cy="127.5" r="1.95"/>
<circle cx="212.6" cy="127.5" r="1.95"/>
<circle cx="215.1" cy="127.5" r="1.95"/>
<circle cx="217.6" cy="127.5" r="1.95"/>
<circle cx="220.1" cy="127.5" r="1.95"/>
<circle cx="222.6" cy="127.5" r="1.95"/>
<circle cx="225.1" cy="127.5" r="1.95"/>
<circle cx="227.6" cy="127.5" r="1.95"/>
<circle cx="230.1" cy="127.5" r="1.95"/>
<circle cx="232.6" cy="127.5" r="1.95"/>
<circle cx="235.1" cy="127.5" r="1.95"/>
<circle cx="236.6" cy="127.5" r="1.95"/>
<circle cx="196.8" cy="129.9" r="1.95"/>
<circle cx="198.8" cy="129.9" r="1.95"/>
<circle cx="201.3" cy="129.9" r="1.95"/>
<circle cx="203.8" cy="129.9" r="1.95"/>
<circle cx="206.3" cy="129.9" r="1.95"/>
<circle cx="208.8" cy="129.9" r="1.95"/>
<circle cx="211.3" cy="129.9" r="1.95"/>
<circle cx="213.8" cy="129.9" r="1.95"/>
<circle cx="216.3" cy="129.9" r="1.95"/>
<circle cx="218.8" cy="129.9" r="1.95"/>
<circle cx="221.3" cy="129.9" r="1.95"/>
<circle cx="223.8" cy="129.9" r="1.95"/>
<circle cx="226.3" cy="129.9" r="1.95"/>
<circle cx="228.8" cy="129.9" r="1.95"/>
<circle cx="231.3" cy="129.9" r="1.95"/>
<circle cx="233.8" cy="129.9" r="1.95"/>
<circle cx="236.3" cy="129.9" r="1.95"/>
<circle cx="196.8" cy="132.2" r="1.95"/>
<circle cx="200.1" cy="132.2" r="1.95"/>
<circle cx="202.6" cy="132.2" r="1.95"/>
<circle cx="205.1" cy="132.2" r="1.95"/>
<circle cx="207.6" cy="132.2" r="1.95"/>
<circle cx="210.1" cy="132.2" r="1.95"/>
<circle cx="212.6" cy="132.2" r="1.95"/>
<circle cx="215.1" cy="132.2" r="1.95"/>
<circle cx="217.6" cy="132.2" r="1.95"/>
<circle cx="220.1" cy="132.2" r="1.95"/>
<circle cx="222.6" cy="132.2" r="1.95"/>
<circle cx="225.1" cy="132.2" r="1.95"/>
<circle cx="227.6" cy="132.2" r="1.95"/>
<circle cx="230.1" cy="132.2" r="1.95"/>
<circle cx="232.6" cy="132.2" r="1.95"/>
<circle cx="235.1" cy="132.2" r="1.95"/>
<circle cx="236.6" cy="132.2" r="1.95"/>
<circle cx="196.8" cy="134.6" r="1.95"/>
<circle cx="198.8" cy="134.6" r="1.95"/>
<circle cx="201.3" cy="134.6" r="1.95"/>
<circle cx="203.8" cy="134.6" r="1.95"/>
<circle cx="206.3" cy="134.6" r="1.95"/>
<circle cx="208.8" cy="134.6" r="1.95"/>
<circle cx="211.3" cy="134.6" r="1.95"/>
<circle cx="213.8" cy="134.6" r="1.95"/>
<circle cx="216.3" cy="134.6" r="1.95"/>
<circle cx="218.8" cy="134.6" r="1.95"/>
<circle cx="221.3" cy="134.6" r="1.95"/>
<circle cx="223.8" cy="134.6" r="1.95"/>
<circle cx="226.3" cy="134.6" r="1.95"/>
<circle cx="228.8" cy="134.6" r="1.95"/>
<circle cx="231.3" cy="134.6" r="1.95"/>
<circle cx="233.8" cy="134.6" r="1.95"/>
<circle cx="236.3" cy="134.6" r="1.95"/>
<circle cx="191.4" cy="137.0" r="1.95"/>
<circle cx="195.1" cy="137.0" r="1.95"/>
<circle cx="197.6" cy="137.0" r="1.95"/>
<circle cx="200.1" cy="137.0" r="1.95"/>
<circle cx="202.6" cy="137.0" r="1.95"/>
<circle cx="205.1" cy="137.0" r="1.95"/>
<circle cx="207.6" cy="137.0" r="1.95"/>
<circle cx="210.1" cy="137.0" r="1.95"/>
<circle cx="212.6" cy="137.0" r="1.95"/>
<circle cx="215.1" cy="137.0" r="1.95"/>
<circle cx="217.6" cy="137.0" r="1.95"/>
<circle cx="220.1" cy="137.0" r="1.95"/>
<circle cx="222.6" cy="137.0" r="1.95"/>
<circle cx="225.1" cy="137.0" r="1.95"/>
<circle cx="227.6" cy="137.0" r="1.95"/>
<circle cx="230.1" cy="137.0" r="1.95"/>
<circle cx="232.6" cy="137.0" r="1.95"/>
<circle cx="235.1" cy="137.0" r="1.95"/>
<circle cx="237.6" cy="137.0" r="1.95"/>
<circle cx="240.1" cy="137.0" r="1.95"/>
<circle cx="241.8" cy="137.0" r="1.95"/>
<circle cx="190.3" cy="139.4" r="1.95"/>
<circle cx="193.8" cy="139.4" r="1.95"/>
<circle cx="196.3" cy="139.4" r="1.95"/>
<circle cx="198.8" cy="139.4" r="1.95"/>
<circle cx="201.3" cy="139.4" r="1.95"/>
<circle cx="203.8" cy="139.4" r="1.95"/>
<circle cx="206.3" cy="139.4" r="1.95"/>
<circle cx="208.8" cy="139.4" r="1.95"/>
<circle cx="211.3" cy="139.4" r="1.95"/>
<circle cx="213.8" cy="139.4" r="1.95"/>
<circle cx="216.3" cy="139.4" r="1.95"/>
<circle cx="218.8" cy="139.4" r="1.95"/>
<circle cx="221.3" cy="139.4" r="1.95"/>
<circle cx="223.8" cy="139.4" r="1.95"/>
<circle cx="226.3" cy="139.4" r="1.95"/>
<circle cx="228.8" cy="139.4" r="1.95"/>
<circle cx="231.3" cy="139.4" r="1.95"/>
<circle cx="233.8" cy="139.4" r="1.95"/>
<circle cx="236.3" cy="139.4" r="1.95"/>
<circle cx="238.8" cy="139.4" r="1.95"/>
<circle cx="241.3" cy="139.4" r="1.95"/>
<circle cx="242.8" cy="139.4" r="1.95"/>
<circle cx="190.3" cy="141.8" r="1.95"/>
<circle cx="192.6" cy="141.8" r="1.95"/>
<circle cx="195.1" cy="141.8" r="1.95"/>
<circle cx="197.6" cy="141.8" r="1.95"/>
<circle cx="200.1" cy="141.8" r="1.95"/>
<circle cx="202.6" cy="141.8" r="1.95"/>
<circle cx="205.1" cy="141.8" r="1.95"/>
<circle cx="207.6" cy="141.8" r="1.95"/>
<circle cx="210.1" cy="141.8" r="1.95"/>
<circle cx="212.6" cy="141.8" r="1.95"/>
<circle cx="215.1" cy="141.8" r="1.95"/>
<circle cx="217.6" cy="141.8" r="1.95"/>
<circle cx="220.1" cy="141.8" r="1.95"/>
<circle cx="222.6" cy="141.8" r="1.95"/>
<circle cx="225.1" cy="141.8" r="1.95"/>
<circle cx="227.6" cy="141.8" r="1.95"/>
<circle cx="230.1" cy="141.8" r="1.95"/>
<circle cx="232.6" cy="141.8" r="1.95"/>
<circle cx="235.1" cy="141.8" r="1.95"/>
<circle cx="237.6" cy="141.8" r="1.95"/>
<circle cx="240.1" cy="141.8" r="1.95"/>
<circle cx="242.6" cy="141.8" r="1.95"/>
<circle cx="190.3" cy="144.1" r="1.95"/>
<circle cx="193.8" cy="144.1" r="1.95"/>
<circle cx="196.3" cy="144.1" r="1.95"/>
<circle cx="198.8" cy="144.1" r="1.95"/>
<circle cx="201.3" cy="144.1" r="1.95"/>
<circle cx="203.8" cy="144.1" r="1.95"/>
<circle cx="206.3" cy="144.1" r="1.95"/>
<circle cx="208.8" cy="144.1" r="1.95"/>
<circle cx="211.3" cy="144.1" r="1.95"/>
<circle cx="213.8" cy="144.1" r="1.95"/>
<circle cx="216.3" cy="144.1" r="1.95"/>
<circle cx="218.8" cy="144.1" r="1.95"/>
<circle cx="221.3" cy="144.1" r="1.95"/>
<circle cx="223.8" cy="144.1" r="1.95"/>
<circle cx="226.3" cy="144.1" r="1.95"/>
<circle cx="228.8" cy="144.1" r="1.95"/>
<circle cx="231.3" cy="144.1" r="1.95"/>
<circle cx="233.8" cy="144.1" r="1.95"/>
<circle cx="236.3" cy="144.1" r="1.95"/>
<circle cx="238.8" cy="144.1" r="1.95"/>
<circle cx="241.3" cy="144.1" r="1.95"/>
<circle cx="242.8" cy="144.1" r="1.95"/>
<circle cx="196.8" cy="146.5" r="1.95"/>
<circle cx="200.1" cy="146.5" r="1.95"/>
<circle cx="202.6" cy="146.5" r="1.95"/>
<circle cx="205.1" cy="146.5" r="1.95"/>
<circle cx="207.6" cy="146.5" r="1.95"/>
<circle cx="210.1" cy="146.5" r="1.95"/>
<circle cx="212.6" cy="146.5" r="1.95"/>
<circle cx="215.1" cy="146.5" r="1.95"/>
<circle cx="217.6" cy="146.5" r="1.95"/>
<circle cx="220.1" cy="146.5" r="1.95"/>
<circle cx="222.6" cy="146.5" r="1.95"/>
<circle cx="225.1" cy="146.5" r="1.95"/>
<circle cx="227.6" cy="146.5" r="1.95"/>
<circle cx="230.1" cy="146.5" r="1.95"/>
<circle cx="232.6" cy="146.5" r="1.95"/>
<circle cx="235.1" cy="146.5" r="1.95"/>
<circle cx="237.6" cy="146.5" r="1.95"/>
<circle cx="196.8" cy="148.9" r="1.95"/>
<circle cx="198.8" cy="148.9" r="1.95"/>
<circle cx="201.3" cy="148.9" r="1.95"/>
<circle cx="203.8" cy="148.9" r="1.95"/>
<circle cx="206.3" cy="148.9" r="1.95"/>
<circle cx="208.8" cy="148.9" r="1.95"/>
<circle cx="211.3" cy="148.9" r="1.95"/>
<circle cx="213.8" cy="148.9" r="1.95"/>
<circle cx="216.3" cy="148.9" r="1.95"/>
<circle cx="218.8" cy="148.9" r="1.95"/>
<circle cx="221.3" cy="148.9" r="1.95"/>
<circle cx="223.8" cy="148.9" r="1.95"/>
<circle cx="226.3" cy="148.9" r="1.95"/>
<circle cx="228.8" cy="148.9" r="1.95"/>
<circle cx="231.3" cy="148.9" r="1.95"/>
<circle cx="233.8" cy="148.9" r="1.95"/>
<circle cx="236.3" cy="148.9" r="1.95"/>
<circle cx="237.8" cy="148.9" r="1.95"/>
<circle cx="196.8" cy="151.2" r="1.95"/>
<circle cx="200.1" cy="151.2" r="1.95"/>
<circle cx="202.6" cy="151.2" r="1.95"/>
<circle cx="205.1" cy="151.2" r="1.95"/>
<circle cx="207.6" cy="151.2" r="1.95"/>
<circle cx="210.1" cy="151.2" r="1.95"/>
<circle cx="212.6" cy="151.2" r="1.95"/>
<circle cx="215.1" cy="151.2" r="1.95"/>
<circle cx="217.6" cy="151.2" r="1.95"/>
<circle cx="220.1" cy="151.2" r="1.95"/>
<circle cx="222.6" cy="151.2" r="1.95"/>
<circle cx="225.1" cy="151.2" r="1.95"/>
<circle cx="227.6" cy="151.2" r="1.95"/>
<circle cx="230.1" cy="151.2" r="1.95"/>
<circle cx="232.6" cy="151.2" r="1.95"/>
<circle cx="235.1" cy="151.2" r="1.95"/>
<circle cx="237.6" cy="151.2" r="1.95"/>
<circle cx="197.9" cy="153.6" r="1.95"/>
<circle cx="201.3" cy="153.6" r="1.95"/>
<circle cx="203.8" cy="153.6" r="1.95"/>
<circle cx="206.3" cy="153.6" r="1.95"/>
<circle cx="208.8" cy="153.6" r="1.95"/>
<circle cx="211.3" cy="153.6" r="1.95"/>
<circle cx="213.8" cy="153.6" r="1.95"/>
<circle cx="216.3" cy="153.6" r="1.95"/>
<circle cx="218.8" cy="153.6" r="1.95"/>
<circle cx="221.3" cy="153.6" r="1.95"/>
<circle cx="223.8" cy="153.6" r="1.95"/>
<circle cx="226.3" cy="153.6" r="1.95"/>
<circle cx="228.8" cy="153.6" r="1.95"/>
<circle cx="231.3" cy="153.6" r="1.95"/>
<circle cx="233.8" cy="153.6" r="1.95"/>
<circle cx="236.3" cy="153.6" r="1.95"/>
<circle cx="237.8" cy="153.6" r="1.95"/>
<circle cx="197.9" cy="156.0" r="1.95"/>
<circle cx="200.1" cy="156.0" r="1.95"/>
<circle cx="202.6" cy="156.0" r="1.95"/>
<circle cx="205.1" cy="156.0" r="1.95"/>
<circle cx="207.6" cy="156.0" r="1.95"/>
<circle cx="210.1" cy="156.0" r="1.95"/>
<circle cx="212.6" cy="156.0" r="1.95"/>
<circle cx="215.1" cy="156.0" r="1.95"/>
<circle cx="217.6" cy="156.0" r="1.95"/>
<circle cx="220.1" cy="156.0" r="1.95"/>
<circle cx="222.6" cy="156.0" r="1.95"/>
<circle cx="225.1" cy="156.0" r="1.95"/>
<circle cx="227.6" cy="156.0" r="1.95"/>
<circle cx="230.1" cy="156.0" r="1.95"/>
<circle cx="232.6" cy="156.0" r="1.95"/>
<circle cx="235.1" cy="156.0" r="1.95"/>
<circle cx="237.6" cy="156.0" r="1.95"/>
<circle cx="240.1" cy="156.0" r="1.95"/>
<circle cx="211.3" cy="158.4" r="1.95"/>
<circle cx="213.8" cy="158.4" r="1.95"/>
<circle cx="216.3" cy="158.4" r="1.95"/>
<circle cx="218.8" cy="158.4" r="1.95"/>
<circle cx="221.3" cy="158.4" r="1.95"/>
<circle cx="223.8" cy="158.4" r="1.95"/>
<circle cx="226.3" cy="158.4" r="1.95"/>
<circle cx="227.8" cy="158.4" r="1.95"/>
<circle cx="210.6" cy="160.8" r="1.95"/>
<circle cx="212.6" cy="160.8" r="1.95"/>
<circle cx="215.1" cy="160.8" r="1.95"/>
<circle cx="217.6" cy="160.8" r="1.95"/>
<circle cx="220.1" cy="160.8" r="1.95"/>
<circle cx="222.6" cy="160.8" r="1.95"/>
<circle cx="225.1" cy="160.8" r="1.95"/>
<circle cx="227.6" cy="160.8" r="1.95"/>
<circle cx="190.3" cy="137.0" r="1.95"/>
<circle cx="192.8" cy="137.0" r="1.95"/>
<circle cx="195.3" cy="137.0" r="1.95"/>
<circle cx="197.8" cy="137.0" r="1.95"/>
<circle cx="200.3" cy="137.0" r="1.95"/>
<circle cx="202.8" cy="137.0" r="1.95"/>
<circle cx="205.3" cy="137.0" r="1.95"/>
<circle cx="207.8" cy="137.0" r="1.95"/>
<circle cx="210.3" cy="137.0" r="1.95"/>
<circle cx="212.8" cy="137.0" r="1.95"/>
<circle cx="215.3" cy="137.0" r="1.95"/>
<circle cx="217.8" cy="137.0" r="1.95"/>
<circle cx="220.3" cy="137.0" r="1.95"/>
<circle cx="222.8" cy="137.0" r="1.95"/>
<circle cx="225.3" cy="137.0" r="1.95"/>
<circle cx="227.8" cy="137.0" r="1.95"/>
<circle cx="230.3" cy="137.0" r="1.95"/>
<circle cx="232.8" cy="137.0" r="1.95"/>
<circle cx="235.3" cy="137.0" r="1.95"/>
<circle cx="237.8" cy="137.0" r="1.95"/>
<circle cx="240.3" cy="137.0" r="1.95"/>
<circle cx="242.8" cy="137.0" r="1.95"/>
<circle cx="190.3" cy="144.4" r="1.95"/>
<circle cx="192.8" cy="144.4" r="1.95"/>
<circle cx="195.3" cy="144.4" r="1.95"/>
<circle cx="197.8" cy="144.4" r="1.95"/>
<circle cx="200.3" cy="144.4" r="1.95"/>
<circle cx="202.8" cy="144.4" r="1.95"/>
<circle cx="205.3" cy="144.4" r="1.95"/>
<circle cx="207.8" cy="144.4" r="1.95"/>
<circle cx="210.3" cy="144.4" r="1.95"/>
<circle cx="212.8" cy="144.4" r="1.95"/>
<circle cx="215.3" cy="144.4" r="1.95"/>
<circle cx="217.8" cy="144.4" r="1.95"/>
<circle cx="220.3" cy="144.4" r="1.95"/>
<circle cx="222.8" cy="144.4" r="1.95"/>
<circle cx="225.3" cy="144.4" r="1.95"/>
<circle cx="227.8" cy="144.4" r="1.95"/>
<circle cx="230.3" cy="144.4" r="1.95"/>
<circle cx="232.8" cy="144.4" r="1.95"/>
<circle cx="235.3" cy="144.4" r="1.95"/>
<circle cx="237.8" cy="144.4" r="1.95"/>
<circle cx="240.3" cy="144.4" r="1.95"/>
<circle cx="242.8" cy="144.4" r="1.95"/>
<circle cx="196.8" cy="126.5" r="1.95"/>
<circle cx="199.2" cy="126.5" r="1.95"/>
<circle cx="201.7" cy="126.5" r="1.95"/>
<circle cx="204.2" cy="126.5" r="1.95"/>
<circle cx="206.7" cy="126.5" r="1.95"/>
<circle cx="209.2" cy="126.5" r="1.95"/>
<circle cx="211.7" cy="126.5" r="1.95"/>
<circle cx="214.2" cy="126.5" r="1.95"/>
<circle cx="216.7" cy="126.5" r="1.95"/>
<circle cx="219.1" cy="126.5" r="1.95"/>
<circle cx="221.6" cy="126.5" r="1.95"/>
<circle cx="224.1" cy="126.5" r="1.95"/>
<circle cx="226.6" cy="126.5" r="1.95"/>
<circle cx="229.1" cy="126.5" r="1.95"/>
<circle cx="231.6" cy="126.5" r="1.95"/>
<circle cx="234.1" cy="126.5" r="1.95"/>
<circle cx="236.6" cy="126.5" r="1.95"/>
<circle cx="197.9" cy="156.0" r="1.95"/>
<circle cx="200.4" cy="156.0" r="1.95"/>
<circle cx="202.9" cy="156.0" r="1.95"/>
<circle cx="205.4" cy="156.0" r="1.95"/>
<circle cx="207.9" cy="156.0" r="1.95"/>
<circle cx="210.4" cy="156.0" r="1.95"/>
<circle cx="212.9" cy="156.0" r="1.95"/>
<circle cx="215.4" cy="156.0" r="1.95"/>
<circle cx="217.9" cy="156.0" r="1.95"/>
<circle cx="220.3" cy="156.0" r="1.95"/>
<circle cx="222.8" cy="156.0" r="1.95"/>
<circle cx="225.3" cy="156.0" r="1.95"/>
<circle cx="227.8" cy="156.0" r="1.95"/>
<circle cx="230.3" cy="156.0" r="1.95"/>
<circle cx="232.8" cy="156.0" r="1.95"/>
<circle cx="235.3" cy="156.0" r="1.95"/>
<circle cx="237.8" cy="156.0" r="1.95"/>
<circle cx="240.2" cy="156.0" r="1.95"/>
<circle cx="217.8" cy="70.0" r="1.95"/>
<circle cx="217.8" cy="86.2" r="1.95"/>
<circle cx="217.8" cy="104.8" r="1.95"/>
<circle cx="217.6" cy="192.8" r="1.95"/>
<circle cx="218.5" cy="166.0" r="1.95"/>
<circle cx="218.5" cy="169.5" r="1.95"/>
<circle cx="218.5" cy="173.0" r="1.95"/>
<circle cx="218.5" cy="176.5" r="1.95"/>
<circle cx="218.5" cy="180.0" r="1.95"/>
</g>
<line x1="83.0" y1="97.5" x2="83.0" y2="113.6" stroke="#151515" stroke-width="1.4" stroke-dasharray="4 3.5"/>
<line x1="73.4" y1="97.5" x2="92.6" y2="97.5" stroke="#151515" stroke-width="1.4"/>
<line x1="83.0" y1="136.6" x2="83.0" y2="186.5" stroke="#151515" stroke-width="1.4" stroke-dasharray="4 3.5"/>
<line x1="73.4" y1="186.5" x2="92.6" y2="186.5" stroke="#151515" stroke-width="1.4"/>
<rect x="64.8" y="113.6" width="36.4" height="23.0" fill="#fff" stroke="#151515" stroke-width="1.5"/>
<line x1="64.8" y1="126.7" x2="101.2" y2="126.7" stroke="#151515" stroke-width="3"/>
<circle cx="83" cy="44.4" r="1.95" fill="none" stroke="#151515" stroke-width="1.4"/>
<circle cx="83" cy="67.3" r="1.95" fill="none" stroke="#151515" stroke-width="1.4"/>
<circle cx="83" cy="75.4" r="1.95" fill="none" stroke="#151515" stroke-width="1.4"/>
<rect x="81.1" y="67.3" width="3.8" height="5.4" rx="1.9" fill="#151515"/>
<rect x="81.1" y="80.4" width="3.8" height="15.8" rx="1.9" fill="#151515"/>
<line x1="128.0" y1="117.4" x2="128.0" y2="130.6" stroke="#151515" stroke-width="1.4" stroke-dasharray="4 3.5"/>
<line x1="118.4" y1="117.4" x2="137.6" y2="117.4" stroke="#151515" stroke-width="1.4"/>
<line x1="128.0" y1="145.9" x2="128.0" y2="186.0" stroke="#151515" stroke-width="1.4" stroke-dasharray="4 3.5"/>
<line x1="118.4" y1="186.0" x2="137.6" y2="186.0" stroke="#151515" stroke-width="1.4"/>
<rect x="109.8" y="130.6" width="36.4" height="15.3" fill="#fff" stroke="#151515" stroke-width="1.5"/>
<line x1="109.8" y1="137.9" x2="146.2" y2="137.9" stroke="#151515" stroke-width="3"/>
<circle cx="127.9" cy="92.8" r="1.95" fill="none" stroke="#151515" stroke-width="1.4"/>
<circle cx="128" cy="107.6" r="1.95" fill="none" stroke="#151515" stroke-width="1.4"/>
<rect x="126.3" y="97.6" width="3.8" height="19.6" rx="1.9" fill="#151515"/>
<line x1="217.6" y1="117.3" x2="217.6" y2="131.5" stroke="#151515" stroke-width="1.4" stroke-dasharray="4 3.5"/>
<line x1="208.0" y1="117.3" x2="227.2" y2="117.3" stroke="#151515" stroke-width="1.4"/>
<line x1="217.6" y1="149.4" x2="217.6" y2="192.8" stroke="#151515" stroke-width="1.4" stroke-dasharray="4 3.5"/>
<line x1="208.0" y1="192.8" x2="227.2" y2="192.8" stroke="#151515" stroke-width="1.4"/>
<rect x="199.4" y="131.5" width="36.4" height="17.9" fill="#fff" stroke="#151515" stroke-width="1.5"/>
<line x1="199.4" y1="140.2" x2="235.8" y2="140.2" stroke="#151515" stroke-width="3"/>
<circle cx="217.8" cy="70" r="1.95" fill="none" stroke="#151515" stroke-width="1.4"/>
<circle cx="217.8" cy="86.2" r="1.95" fill="none" stroke="#151515" stroke-width="1.4"/>
<circle cx="217.8" cy="104.8" r="1.95" fill="none" stroke="#151515" stroke-width="1.4"/>
<rect x="215.9" y="109.2" width="3.8" height="8.1" rx="1.9" fill="#151515"/>
<path d="M316.0,30.4 V206.7 H509.8" fill="none" stroke="#151515" stroke-width="1.4"/>
<line x1="311.5" y1="33.60" x2="316.0" y2="33.60" stroke="#151515" stroke-width="1.3"/>
<text x="306.6" y="38.21" font-size="14.2" text-anchor="end" fill="#222">1000.0</text>
<line x1="311.5" y1="75.90" x2="316.0" y2="75.90" stroke="#151515" stroke-width="1.3"/>
<text x="306.6" y="80.51" font-size="14.2" text-anchor="end" fill="#222">100.0</text>
<line x1="311.5" y1="118.20" x2="316.0" y2="118.20" stroke="#151515" stroke-width="1.3"/>
<text x="306.6" y="122.81" font-size="14.2" text-anchor="end" fill="#222">10.0</text>
<line x1="311.5" y1="160.50" x2="316.0" y2="160.50" stroke="#151515" stroke-width="1.3"/>
<text x="306.6" y="165.11" font-size="14.2" text-anchor="end" fill="#222">1.0</text>
<line x1="311.5" y1="202.80" x2="316.0" y2="202.80" stroke="#151515" stroke-width="1.3"/>
<text x="306.6" y="207.41" font-size="14.2" text-anchor="end" fill="#222">0.1</text>
<line x1="345.4" y1="206.7" x2="345.4" y2="210.7" stroke="#151515" stroke-width="1.3"/>
<text x="350.40" y="220.50" font-size="12.6" text-anchor="end" fill="#222" transform="rotate(-45 350.40 220.50)">FHL</text>
<line x1="389.8" y1="206.7" x2="389.8" y2="210.7" stroke="#151515" stroke-width="1.3"/>
<text x="394.80" y="220.50" font-size="12.6" text-anchor="end" fill="#222" transform="rotate(-45 394.80 220.50)">Infection-1</text>
<line x1="434.7" y1="206.7" x2="434.7" y2="210.7" stroke="#151515" stroke-width="1.3"/>
<text x="439.70" y="220.50" font-size="12.6" text-anchor="end" fill="#222" transform="rotate(-45 439.70 220.50)">Infection-2</text>
<line x1="479.5" y1="206.7" x2="479.5" y2="210.7" stroke="#151515" stroke-width="1.3"/>
<text x="484.50" y="220.50" font-size="12.6" text-anchor="end" fill="#222" transform="rotate(-45 484.50 220.50)">Rheuma</text>
<text x="343.5" y="21.6" font-size="13.4" fill="#222" textLength="138.8" lengthAdjust="spacingAndGlyphs">Bilirubin (micromol/L)</text>
<g stroke-width="1.6" fill="#dc3e5c" stroke="#c2002a">
<circle cx="342.9" cy="49.2" r="1.95"/>
<circle cx="345.4" cy="49.2" r="1.95"/>
<circle cx="347.9" cy="49.2" r="1.95"/>
<circle cx="350.2" cy="49.2" r="1.95"/>
<circle cx="342.2" cy="51.7" r="1.95"/>
<circle cx="344.1" cy="51.7" r="1.95"/>
<circle cx="346.6" cy="51.7" r="1.95"/>
<circle cx="350.2" cy="51.7" r="1.95"/>
<circle cx="342.9" cy="54.1" r="1.95"/>
<circle cx="345.4" cy="54.1" r="1.95"/>
<circle cx="347.9" cy="54.1" r="1.95"/>
<circle cx="350.2" cy="54.1" r="1.95"/>
<circle cx="342.1" cy="56.5" r="1.95"/>
<circle cx="344.1" cy="56.5" r="1.95"/>
<circle cx="346.6" cy="56.5" r="1.95"/>
<circle cx="350.3" cy="56.5" r="1.95"/>
<circle cx="339.1" cy="58.9" r="1.95"/>
<circle cx="342.9" cy="58.9" r="1.95"/>
<circle cx="345.4" cy="58.9" r="1.95"/>
<circle cx="347.9" cy="58.9" r="1.95"/>
<circle cx="350.4" cy="58.9" r="1.95"/>
<circle cx="352.9" cy="58.9" r="1.95"/>
<circle cx="339.1" cy="61.4" r="1.95"/>
<circle cx="341.6" cy="61.4" r="1.95"/>
<circle cx="344.1" cy="61.4" r="1.95"/>
<circle cx="346.6" cy="61.4" r="1.95"/>
<circle cx="349.1" cy="61.4" r="1.95"/>
<circle cx="352.9" cy="61.4" r="1.95"/>
<circle cx="339.1" cy="63.8" r="1.95"/>
<circle cx="342.9" cy="63.8" r="1.95"/>
<circle cx="345.4" cy="63.8" r="1.95"/>
<circle cx="347.9" cy="63.8" r="1.95"/>
<circle cx="350.4" cy="63.8" r="1.95"/>
<circle cx="352.9" cy="63.8" r="1.95"/>
<circle cx="339.1" cy="66.2" r="1.95"/>
<circle cx="341.6" cy="66.2" r="1.95"/>
<circle cx="344.1" cy="66.2" r="1.95"/>
<circle cx="346.6" cy="66.2" r="1.95"/>
<circle cx="349.1" cy="66.2" r="1.95"/>
<circle cx="351.6" cy="66.2" r="1.95"/>
<circle cx="338.3" cy="68.6" r="1.95"/>
<circle cx="340.4" cy="68.6" r="1.95"/>
<circle cx="342.9" cy="68.6" r="1.95"/>
<circle cx="345.4" cy="68.6" r="1.95"/>
<circle cx="347.9" cy="68.6" r="1.95"/>
<circle cx="350.4" cy="68.6" r="1.95"/>
<circle cx="352.6" cy="68.6" r="1.95"/>
<circle cx="337.0" cy="71.0" r="1.95"/>
<circle cx="339.1" cy="71.0" r="1.95"/>
<circle cx="341.6" cy="71.0" r="1.95"/>
<circle cx="344.1" cy="71.0" r="1.95"/>
<circle cx="346.6" cy="71.0" r="1.95"/>
<circle cx="349.1" cy="71.0" r="1.95"/>
<circle cx="351.6" cy="71.0" r="1.95"/>
<circle cx="354.1" cy="71.0" r="1.95"/>
<circle cx="335.7" cy="73.5" r="1.95"/>
<circle cx="337.9" cy="73.5" r="1.95"/>
<circle cx="340.4" cy="73.5" r="1.95"/>
<circle cx="342.9" cy="73.5" r="1.95"/>
<circle cx="345.4" cy="73.5" r="1.95"/>
<circle cx="347.9" cy="73.5" r="1.95"/>
<circle cx="350.4" cy="73.5" r="1.95"/>
<circle cx="352.9" cy="73.5" r="1.95"/>
<circle cx="355.4" cy="73.5" r="1.95"/>
<circle cx="334.5" cy="75.9" r="1.95"/>
<circle cx="336.6" cy="75.9" r="1.95"/>
<circle cx="339.1" cy="75.9" r="1.95"/>
<circle cx="341.6" cy="75.9" r="1.95"/>
<circle cx="344.1" cy="75.9" r="1.95"/>
<circle cx="346.6" cy="75.9" r="1.95"/>
<circle cx="349.1" cy="75.9" r="1.95"/>
<circle cx="351.6" cy="75.9" r="1.95"/>
<circle cx="354.1" cy="75.9" r="1.95"/>
<circle cx="356.6" cy="75.9" r="1.95"/>
<circle cx="333.2" cy="78.3" r="1.95"/>
<circle cx="335.4" cy="78.3" r="1.95"/>
<circle cx="337.9" cy="78.3" r="1.95"/>
<circle cx="340.4" cy="78.3" r="1.95"/>
<circle cx="342.9" cy="78.3" r="1.95"/>
<circle cx="345.4" cy="78.3" r="1.95"/>
<circle cx="347.9" cy="78.3" r="1.95"/>
<circle cx="350.4" cy="78.3" r="1.95"/>
<circle cx="352.9" cy="78.3" r="1.95"/>
<circle cx="355.4" cy="78.3" r="1.95"/>
<circle cx="357.9" cy="78.3" r="1.95"/>
<circle cx="331.9" cy="80.7" r="1.95"/>
<circle cx="334.1" cy="80.7" r="1.95"/>
<circle cx="336.6" cy="80.7" r="1.95"/>
<circle cx="339.1" cy="80.7" r="1.95"/>
<circle cx="341.6" cy="80.7" r="1.95"/>
<circle cx="344.1" cy="80.7" r="1.95"/>
<circle cx="346.6" cy="80.7" r="1.95"/>
<circle cx="349.1" cy="80.7" r="1.95"/>
<circle cx="351.6" cy="80.7" r="1.95"/>
<circle cx="354.1" cy="80.7" r="1.95"/>
<circle cx="356.6" cy="80.7" r="1.95"/>
<circle cx="360.1" cy="80.7" r="1.95"/>
<circle cx="330.4" cy="83.2" r="1.95"/>
<circle cx="332.9" cy="83.2" r="1.95"/>
<circle cx="335.4" cy="83.2" r="1.95"/>
<circle cx="337.9" cy="83.2" r="1.95"/>
<circle cx="340.4" cy="83.2" r="1.95"/>
<circle cx="342.9" cy="83.2" r="1.95"/>
<circle cx="345.4" cy="83.2" r="1.95"/>
<circle cx="347.9" cy="83.2" r="1.95"/>
<circle cx="350.4" cy="83.2" r="1.95"/>
<circle cx="352.9" cy="83.2" r="1.95"/>
<circle cx="355.4" cy="83.2" r="1.95"/>
<circle cx="357.9" cy="83.2" r="1.95"/>
<circle cx="360.4" cy="83.2" r="1.95"/>
<circle cx="329.9" cy="85.6" r="1.95"/>
<circle cx="331.6" cy="85.6" r="1.95"/>
<circle cx="334.1" cy="85.6" r="1.95"/>
<circle cx="336.6" cy="85.6" r="1.95"/>
<circle cx="339.1" cy="85.6" r="1.95"/>
<circle cx="341.6" cy="85.6" r="1.95"/>
<circle cx="344.1" cy="85.6" r="1.95"/>
<circle cx="346.6" cy="85.6" r="1.95"/>
<circle cx="349.1" cy="85.6" r="1.95"/>
<circle cx="351.6" cy="85.6" r="1.95"/>
<circle cx="354.1" cy="85.6" r="1.95"/>
<circle cx="356.6" cy="85.6" r="1.95"/>
<circle cx="359.1" cy="85.6" r="1.95"/>
<circle cx="360.9" cy="85.6" r="1.95"/>
<circle cx="330.4" cy="88.0" r="1.95"/>
<circle cx="332.9" cy="88.0" r="1.95"/>
<circle cx="335.4" cy="88.0" r="1.95"/>
<circle cx="337.9" cy="88.0" r="1.95"/>
<circle cx="340.4" cy="88.0" r="1.95"/>
<circle cx="342.9" cy="88.0" r="1.95"/>
<circle cx="345.4" cy="88.0" r="1.95"/>
<circle cx="347.9" cy="88.0" r="1.95"/>
<circle cx="350.4" cy="88.0" r="1.95"/>
<circle cx="352.9" cy="88.0" r="1.95"/>
<circle cx="355.4" cy="88.0" r="1.95"/>
<circle cx="357.9" cy="88.0" r="1.95"/>
<circle cx="360.4" cy="88.0" r="1.95"/>
<circle cx="329.9" cy="90.4" r="1.95"/>
<circle cx="331.6" cy="90.4" r="1.95"/>
<circle cx="334.1" cy="90.4" r="1.95"/>
<circle cx="336.6" cy="90.4" r="1.95"/>
<circle cx="339.1" cy="90.4" r="1.95"/>
<circle cx="341.6" cy="90.4" r="1.95"/>
<circle cx="344.1" cy="90.4" r="1.95"/>
<circle cx="346.6" cy="90.4" r="1.95"/>
<circle cx="349.1" cy="90.4" r="1.95"/>
<circle cx="351.6" cy="90.4" r="1.95"/>
<circle cx="354.1" cy="90.4" r="1.95"/>
<circle cx="356.6" cy="90.4" r="1.95"/>
<circle cx="359.1" cy="90.4" r="1.95"/>
<circle cx="360.9" cy="90.4" r="1.95"/>
<circle cx="330.4" cy="92.8" r="1.95"/>
<circle cx="332.9" cy="92.8" r="1.95"/>
<circle cx="335.4" cy="92.8" r="1.95"/>
<circle cx="337.9" cy="92.8" r="1.95"/>
<circle cx="340.4" cy="92.8" r="1.95"/>
<circle cx="342.9" cy="92.8" r="1.95"/>
<circle cx="345.4" cy="92.8" r="1.95"/>
<circle cx="347.9" cy="92.8" r="1.95"/>
<circle cx="350.4" cy="92.8" r="1.95"/>
<circle cx="352.9" cy="92.8" r="1.95"/>
<circle cx="355.4" cy="92.8" r="1.95"/>
<circle cx="357.9" cy="92.8" r="1.95"/>
<circle cx="360.4" cy="92.8" r="1.95"/>
<circle cx="329.9" cy="95.3" r="1.95"/>
<circle cx="331.6" cy="95.3" r="1.95"/>
<circle cx="334.1" cy="95.3" r="1.95"/>
<circle cx="336.6" cy="95.3" r="1.95"/>
<circle cx="339.1" cy="95.3" r="1.95"/>
<circle cx="341.6" cy="95.3" r="1.95"/>
<circle cx="344.1" cy="95.3" r="1.95"/>
<circle cx="346.6" cy="95.3" r="1.95"/>
<circle cx="349.1" cy="95.3" r="1.95"/>
<circle cx="351.6" cy="95.3" r="1.95"/>
<circle cx="354.1" cy="95.3" r="1.95"/>
<circle cx="356.6" cy="95.3" r="1.95"/>
<circle cx="359.1" cy="95.3" r="1.95"/>
<circle cx="360.9" cy="95.3" r="1.95"/>
<circle cx="330.4" cy="97.7" r="1.95"/>
<circle cx="332.9" cy="97.7" r="1.95"/>
<circle cx="335.4" cy="97.7" r="1.95"/>
<circle cx="337.9" cy="97.7" r="1.95"/>
<circle cx="340.4" cy="97.7" r="1.95"/>
<circle cx="342.9" cy="97.7" r="1.95"/>
<circle cx="345.4" cy="97.7" r="1.95"/>
<circle cx="347.9" cy="97.7" r="1.95"/>
<circle cx="350.4" cy="97.7" r="1.95"/>
<circle cx="352.9" cy="97.7" r="1.95"/>
<circle cx="355.4" cy="97.7" r="1.95"/>
<circle cx="357.9" cy="97.7" r="1.95"/>
<circle cx="360.4" cy="97.7" r="1.95"/>
<circle cx="329.9" cy="100.1" r="1.95"/>
<circle cx="331.6" cy="100.1" r="1.95"/>
<circle cx="334.1" cy="100.1" r="1.95"/>
<circle cx="336.6" cy="100.1" r="1.95"/>
<circle cx="339.1" cy="100.1" r="1.95"/>
<circle cx="341.6" cy="100.1" r="1.95"/>
<circle cx="344.1" cy="100.1" r="1.95"/>
<circle cx="346.6" cy="100.1" r="1.95"/>
<circle cx="349.1" cy="100.1" r="1.95"/>
<circle cx="351.6" cy="100.1" r="1.95"/>
<circle cx="354.1" cy="100.1" r="1.95"/>
<circle cx="356.6" cy="100.1" r="1.95"/>
<circle cx="359.1" cy="100.1" r="1.95"/>
<circle cx="360.9" cy="100.1" r="1.95"/>
<circle cx="322.9" cy="102.5" r="1.95"/>
<circle cx="325.4" cy="102.5" r="1.95"/>
<circle cx="327.9" cy="102.5" r="1.95"/>
<circle cx="330.4" cy="102.5" r="1.95"/>
<circle cx="332.9" cy="102.5" r="1.95"/>
<circle cx="335.4" cy="102.5" r="1.95"/>
<circle cx="337.9" cy="102.5" r="1.95"/>
<circle cx="340.4" cy="102.5" r="1.95"/>
<circle cx="342.9" cy="102.5" r="1.95"/>
<circle cx="345.4" cy="102.5" r="1.95"/>
<circle cx="347.9" cy="102.5" r="1.95"/>
<circle cx="350.4" cy="102.5" r="1.95"/>
<circle cx="352.9" cy="102.5" r="1.95"/>
<circle cx="355.4" cy="102.5" r="1.95"/>
<circle cx="357.9" cy="102.5" r="1.95"/>
<circle cx="360.4" cy="102.5" r="1.95"/>
<circle cx="362.9" cy="102.5" r="1.95"/>
<circle cx="366.6" cy="102.5" r="1.95"/>
<circle cx="322.4" cy="105.0" r="1.95"/>
<circle cx="324.1" cy="105.0" r="1.95"/>
<circle cx="326.6" cy="105.0" r="1.95"/>
<circle cx="329.1" cy="105.0" r="1.95"/>
<circle cx="331.6" cy="105.0" r="1.95"/>
<circle cx="334.1" cy="105.0" r="1.95"/>
<circle cx="336.6" cy="105.0" r="1.95"/>
<circle cx="339.1" cy="105.0" r="1.95"/>
<circle cx="341.6" cy="105.0" r="1.95"/>
<circle cx="344.1" cy="105.0" r="1.95"/>
<circle cx="346.6" cy="105.0" r="1.95"/>
<circle cx="349.1" cy="105.0" r="1.95"/>
<circle cx="351.6" cy="105.0" r="1.95"/>
<circle cx="354.1" cy="105.0" r="1.95"/>
<circle cx="356.6" cy="105.0" r="1.95"/>
<circle cx="359.1" cy="105.0" r="1.95"/>
<circle cx="361.6" cy="105.0" r="1.95"/>
<circle cx="364.1" cy="105.0" r="1.95"/>
<circle cx="366.6" cy="105.0" r="1.95"/>
<circle cx="322.9" cy="107.4" r="1.95"/>
<circle cx="325.4" cy="107.4" r="1.95"/>
<circle cx="327.9" cy="107.4" r="1.95"/>
<circle cx="330.4" cy="107.4" r="1.95"/>
<circle cx="332.9" cy="107.4" r="1.95"/>
<circle cx="335.4" cy="107.4" r="1.95"/>
<circle cx="337.9" cy="107.4" r="1.95"/>
<circle cx="340.4" cy="107.4" r="1.95"/>
<circle cx="342.9" cy="107.4" r="1.95"/>
<circle cx="345.4" cy="107.4" r="1.95"/>
<circle cx="347.9" cy="107.4" r="1.95"/>
<circle cx="350.4" cy="107.4" r="1.95"/>
<circle cx="352.9" cy="107.4" r="1.95"/>
<circle cx="355.4" cy="107.4" r="1.95"/>
<circle cx="357.9" cy="107.4" r="1.95"/>
<circle cx="360.4" cy="107.4" r="1.95"/>
<circle cx="362.9" cy="107.4" r="1.95"/>
<circle cx="366.6" cy="107.4" r="1.95"/>
<circle cx="322.4" cy="109.8" r="1.95"/>
<circle cx="324.1" cy="109.8" r="1.95"/>
<circle cx="326.6" cy="109.8" r="1.95"/>
<circle cx="329.1" cy="109.8" r="1.95"/>
<circle cx="331.6" cy="109.8" r="1.95"/>
<circle cx="334.1" cy="109.8" r="1.95"/>
<circle cx="336.6" cy="109.8" r="1.95"/>
<circle cx="339.1" cy="109.8" r="1.95"/>
<circle cx="341.6" cy="109.8" r="1.95"/>
<circle cx="344.1" cy="109.8" r="1.95"/>
<circle cx="346.6" cy="109.8" r="1.95"/>
<circle cx="349.1" cy="109.8" r="1.95"/>
<circle cx="351.6" cy="109.8" r="1.95"/>
<circle cx="354.1" cy="109.8" r="1.95"/>
<circle cx="356.6" cy="109.8" r="1.95"/>
<circle cx="359.1" cy="109.8" r="1.95"/>
<circle cx="361.6" cy="109.8" r="1.95"/>
<circle cx="364.1" cy="109.8" r="1.95"/>
<circle cx="366.6" cy="109.8" r="1.95"/>
<circle cx="326.9" cy="112.2" r="1.95"/>
<circle cx="330.4" cy="112.2" r="1.95"/>
<circle cx="332.9" cy="112.2" r="1.95"/>
<circle cx="335.4" cy="112.2" r="1.95"/>
<circle cx="337.9" cy="112.2" r="1.95"/>
<circle cx="340.4" cy="112.2" r="1.95"/>
<circle cx="342.9" cy="112.2" r="1.95"/>
<circle cx="345.4" cy="112.2" r="1.95"/>
<circle cx="347.9" cy="112.2" r="1.95"/>
<circle cx="350.4" cy="112.2" r="1.95"/>
<circle cx="352.9" cy="112.2" r="1.95"/>
<circle cx="355.4" cy="112.2" r="1.95"/>
<circle cx="357.9" cy="112.2" r="1.95"/>
<circle cx="360.4" cy="112.2" r="1.95"/>
<circle cx="361.9" cy="112.2" r="1.95"/>
<circle cx="326.9" cy="114.6" r="1.95"/>
<circle cx="329.1" cy="114.6" r="1.95"/>
<circle cx="331.6" cy="114.6" r="1.95"/>
<circle cx="334.1" cy="114.6" r="1.95"/>
<circle cx="336.6" cy="114.6" r="1.95"/>
<circle cx="339.1" cy="114.6" r="1.95"/>
<circle cx="341.6" cy="114.6" r="1.95"/>
<circle cx="344.1" cy="114.6" r="1.95"/>
<circle cx="346.6" cy="114.6" r="1.95"/>
<circle cx="349.1" cy="114.6" r="1.95"/>
<circle cx="351.6" cy="114.6" r="1.95"/>
<circle cx="354.1" cy="114.6" r="1.95"/>
<circle cx="356.6" cy="114.6" r="1.95"/>
<circle cx="359.1" cy="114.6" r="1.95"/>
<circle cx="361.6" cy="114.6" r="1.95"/>
<circle cx="326.9" cy="117.1" r="1.95"/>
<circle cx="330.4" cy="117.1" r="1.95"/>
<circle cx="332.9" cy="117.1" r="1.95"/>
<circle cx="335.4" cy="117.1" r="1.95"/>
<circle cx="337.9" cy="117.1" r="1.95"/>
<circle cx="340.4" cy="117.1" r="1.95"/>
<circle cx="342.9" cy="117.1" r="1.95"/>
<circle cx="345.4" cy="117.1" r="1.95"/>
<circle cx="347.9" cy="117.1" r="1.95"/>
<circle cx="350.4" cy="117.1" r="1.95"/>
<circle cx="352.9" cy="117.1" r="1.95"/>
<circle cx="355.4" cy="117.1" r="1.95"/>
<circle cx="357.9" cy="117.1" r="1.95"/>
<circle cx="360.4" cy="117.1" r="1.95"/>
<circle cx="361.9" cy="117.1" r="1.95"/>
<circle cx="331.6" cy="119.5" r="1.95"/>
<circle cx="334.1" cy="119.5" r="1.95"/>
<circle cx="336.6" cy="119.5" r="1.95"/>
<circle cx="339.1" cy="119.5" r="1.95"/>
<circle cx="341.6" cy="119.5" r="1.95"/>
<circle cx="344.1" cy="119.5" r="1.95"/>
<circle cx="346.6" cy="119.5" r="1.95"/>
<circle cx="349.1" cy="119.5" r="1.95"/>
<circle cx="351.6" cy="119.5" r="1.95"/>
<circle cx="354.1" cy="119.5" r="1.95"/>
<circle cx="356.6" cy="119.5" r="1.95"/>
<circle cx="358.1" cy="119.5" r="1.95"/>
<circle cx="331.6" cy="121.9" r="1.95"/>
<circle cx="335.4" cy="121.9" r="1.95"/>
<circle cx="337.9" cy="121.9" r="1.95"/>
<circle cx="340.4" cy="121.9" r="1.95"/>
<circle cx="342.9" cy="121.9" r="1.95"/>
<circle cx="345.4" cy="121.9" r="1.95"/>
<circle cx="347.9" cy="121.9" r="1.95"/>
<circle cx="350.4" cy="121.9" r="1.95"/>
<circle cx="352.9" cy="121.9" r="1.95"/>
<circle cx="355.4" cy="121.9" r="1.95"/>
<circle cx="357.9" cy="121.9" r="1.95"/>
<circle cx="337.6" cy="124.3" r="1.95"/>
<circle cx="339.1" cy="124.3" r="1.95"/>
<circle cx="341.6" cy="124.3" r="1.95"/>
<circle cx="344.1" cy="124.3" r="1.95"/>
<circle cx="346.6" cy="124.3" r="1.95"/>
<circle cx="349.1" cy="124.3" r="1.95"/>
<circle cx="351.6" cy="124.3" r="1.95"/>
<circle cx="337.9" cy="126.8" r="1.95"/>
<circle cx="340.4" cy="126.8" r="1.95"/>
<circle cx="342.9" cy="126.8" r="1.95"/>
<circle cx="345.4" cy="126.8" r="1.95"/>
<circle cx="347.9" cy="126.8" r="1.95"/>
<circle cx="350.4" cy="126.8" r="1.95"/>
<circle cx="352.1" cy="126.8" r="1.95"/>
<circle cx="337.6" cy="129.2" r="1.95"/>
<circle cx="339.1" cy="129.2" r="1.95"/>
<circle cx="341.6" cy="129.2" r="1.95"/>
<circle cx="344.1" cy="129.2" r="1.95"/>
<circle cx="346.6" cy="129.2" r="1.95"/>
<circle cx="349.1" cy="129.2" r="1.95"/>
<circle cx="351.6" cy="129.2" r="1.95"/>
<circle cx="343.8" cy="131.6" r="1.95"/>
<circle cx="345.4" cy="131.6" r="1.95"/>
<circle cx="344.1" cy="134.0" r="1.95"/>
<circle cx="345.9" cy="134.0" r="1.95"/>
<circle cx="343.8" cy="136.4" r="1.95"/>
<circle cx="345.4" cy="136.4" r="1.95"/>
<circle cx="342.0" cy="147.5" r="1.95"/>
<circle cx="349.0" cy="147.5" r="1.95"/>
</g>
<g stroke-width="1.6" fill="#8ccc86" stroke="#38a334">
<circle cx="373.9" cy="106.0" r="1.95"/>
<circle cx="377.3" cy="106.0" r="1.95"/>
<circle cx="379.8" cy="106.0" r="1.95"/>
<circle cx="382.3" cy="106.0" r="1.95"/>
<circle cx="384.8" cy="106.0" r="1.95"/>
<circle cx="387.3" cy="106.0" r="1.95"/>
<circle cx="389.8" cy="106.0" r="1.95"/>
<circle cx="392.3" cy="106.0" r="1.95"/>
<circle cx="394.8" cy="106.0" r="1.95"/>
<circle cx="397.3" cy="106.0" r="1.95"/>
<circle cx="399.8" cy="106.0" r="1.95"/>
<circle cx="402.3" cy="106.0" r="1.95"/>
<circle cx="404.0" cy="106.0" r="1.95"/>
<circle cx="371.1" cy="108.5" r="1.95"/>
<circle cx="373.6" cy="108.5" r="1.95"/>
<circle cx="376.1" cy="108.5" r="1.95"/>
<circle cx="378.6" cy="108.5" r="1.95"/>
<circle cx="381.1" cy="108.5" r="1.95"/>
<circle cx="383.6" cy="108.5" r="1.95"/>
<circle cx="386.1" cy="108.5" r="1.95"/>
<circle cx="388.6" cy="108.5" r="1.95"/>
<circle cx="391.1" cy="108.5" r="1.95"/>
<circle cx="393.6" cy="108.5" r="1.95"/>
<circle cx="396.1" cy="108.5" r="1.95"/>
<circle cx="398.6" cy="108.5" r="1.95"/>
<circle cx="401.1" cy="108.5" r="1.95"/>
<circle cx="403.6" cy="108.5" r="1.95"/>
<circle cx="406.1" cy="108.5" r="1.95"/>
<circle cx="370.9" cy="110.9" r="1.95"/>
<circle cx="374.8" cy="110.9" r="1.95"/>
<circle cx="377.3" cy="110.9" r="1.95"/>
<circle cx="379.8" cy="110.9" r="1.95"/>
<circle cx="382.3" cy="110.9" r="1.95"/>
<circle cx="384.8" cy="110.9" r="1.95"/>
<circle cx="387.3" cy="110.9" r="1.95"/>
<circle cx="389.8" cy="110.9" r="1.95"/>
<circle cx="392.3" cy="110.9" r="1.95"/>
<circle cx="394.8" cy="110.9" r="1.95"/>
<circle cx="397.3" cy="110.9" r="1.95"/>
<circle cx="399.8" cy="110.9" r="1.95"/>
<circle cx="402.3" cy="110.9" r="1.95"/>
<circle cx="404.8" cy="110.9" r="1.95"/>
<circle cx="407.1" cy="110.9" r="1.95"/>
<circle cx="372.1" cy="113.3" r="1.95"/>
<circle cx="373.6" cy="113.3" r="1.95"/>
<circle cx="376.1" cy="113.3" r="1.95"/>
<circle cx="378.6" cy="113.3" r="1.95"/>
<circle cx="381.1" cy="113.3" r="1.95"/>
<circle cx="383.6" cy="113.3" r="1.95"/>
<circle cx="386.1" cy="113.3" r="1.95"/>
<circle cx="388.6" cy="113.3" r="1.95"/>
<circle cx="391.1" cy="113.3" r="1.95"/>
<circle cx="393.6" cy="113.3" r="1.95"/>
<circle cx="396.1" cy="113.3" r="1.95"/>
<circle cx="398.6" cy="113.3" r="1.95"/>
<circle cx="401.1" cy="113.3" r="1.95"/>
<circle cx="403.6" cy="113.3" r="1.95"/>
<circle cx="406.1" cy="113.3" r="1.95"/>
<circle cx="372.3" cy="115.7" r="1.95"/>
<circle cx="374.8" cy="115.7" r="1.95"/>
<circle cx="377.3" cy="115.7" r="1.95"/>
<circle cx="379.8" cy="115.7" r="1.95"/>
<circle cx="382.3" cy="115.7" r="1.95"/>
<circle cx="384.8" cy="115.7" r="1.95"/>
<circle cx="387.3" cy="115.7" r="1.95"/>
<circle cx="389.8" cy="115.7" r="1.95"/>
<circle cx="392.3" cy="115.7" r="1.95"/>
<circle cx="394.8" cy="115.7" r="1.95"/>
<circle cx="397.3" cy="115.7" r="1.95"/>
<circle cx="399.8" cy="115.7" r="1.95"/>
<circle cx="402.3" cy="115.7" r="1.95"/>
<circle cx="404.8" cy="115.7" r="1.95"/>
<circle cx="406.2" cy="115.7" r="1.95"/>
<circle cx="372.1" cy="118.1" r="1.95"/>
<circle cx="373.6" cy="118.1" r="1.95"/>
<circle cx="376.1" cy="118.1" r="1.95"/>
<circle cx="378.6" cy="118.1" r="1.95"/>
<circle cx="381.1" cy="118.1" r="1.95"/>
<circle cx="383.6" cy="118.1" r="1.95"/>
<circle cx="386.1" cy="118.1" r="1.95"/>
<circle cx="388.6" cy="118.1" r="1.95"/>
<circle cx="391.1" cy="118.1" r="1.95"/>
<circle cx="393.6" cy="118.1" r="1.95"/>
<circle cx="396.1" cy="118.1" r="1.95"/>
<circle cx="398.6" cy="118.1" r="1.95"/>
<circle cx="401.1" cy="118.1" r="1.95"/>
<circle cx="403.6" cy="118.1" r="1.95"/>
<circle cx="406.1" cy="118.1" r="1.95"/>
<circle cx="372.3" cy="120.5" r="1.95"/>
<circle cx="374.8" cy="120.5" r="1.95"/>
<circle cx="377.3" cy="120.5" r="1.95"/>
<circle cx="379.8" cy="120.5" r="1.95"/>
<circle cx="382.3" cy="120.5" r="1.95"/>
<circle cx="384.8" cy="120.5" r="1.95"/>
<circle cx="387.3" cy="120.5" r="1.95"/>
<circle cx="389.8" cy="120.5" r="1.95"/>
<circle cx="392.3" cy="120.5" r="1.95"/>
<circle cx="394.8" cy="120.5" r="1.95"/>
<circle cx="397.3" cy="120.5" r="1.95"/>
<circle cx="399.8" cy="120.5" r="1.95"/>
<circle cx="402.3" cy="120.5" r="1.95"/>
<circle cx="404.8" cy="120.5" r="1.95"/>
<circle cx="406.2" cy="120.5" r="1.95"/>
<circle cx="372.1" cy="123.0" r="1.95"/>
<circle cx="373.6" cy="123.0" r="1.95"/>
<circle cx="376.1" cy="123.0" r="1.95"/>
<circle cx="378.6" cy="123.0" r="1.95"/>
<circle cx="381.1" cy="123.0" r="1.95"/>
<circle cx="383.6" cy="123.0" r="1.95"/>
<circle cx="386.1" cy="123.0" r="1.95"/>
<circle cx="388.6" cy="123.0" r="1.95"/>
<circle cx="391.1" cy="123.0" r="1.95"/>
<circle cx="393.6" cy="123.0" r="1.95"/>
<circle cx="396.1" cy="123.0" r="1.95"/>
<circle cx="398.6" cy="123.0" r="1.95"/>
<circle cx="401.1" cy="123.0" r="1.95"/>
<circle cx="403.6" cy="123.0" r="1.95"/>
<circle cx="406.1" cy="123.0" r="1.95"/>
<circle cx="372.3" cy="125.4" r="1.95"/>
<circle cx="374.8" cy="125.4" r="1.95"/>
<circle cx="377.3" cy="125.4" r="1.95"/>
<circle cx="379.8" cy="125.4" r="1.95"/>
<circle cx="382.3" cy="125.4" r="1.95"/>
<circle cx="384.8" cy="125.4" r="1.95"/>
<circle cx="387.3" cy="125.4" r="1.95"/>
<circle cx="389.8" cy="125.4" r="1.95"/>
<circle cx="392.3" cy="125.4" r="1.95"/>
<circle cx="394.8" cy="125.4" r="1.95"/>
<circle cx="397.3" cy="125.4" r="1.95"/>
<circle cx="399.8" cy="125.4" r="1.95"/>
<circle cx="402.3" cy="125.4" r="1.95"/>
<circle cx="404.8" cy="125.4" r="1.95"/>
<circle cx="406.2" cy="125.4" r="1.95"/>
<circle cx="372.1" cy="127.8" r="1.95"/>
<circle cx="373.6" cy="127.8" r="1.95"/>
<circle cx="376.1" cy="127.8" r="1.95"/>
<circle cx="378.6" cy="127.8" r="1.95"/>
<circle cx="381.1" cy="127.8" r="1.95"/>
<circle cx="383.6" cy="127.8" r="1.95"/>
<circle cx="386.1" cy="127.8" r="1.95"/>
<circle cx="388.6" cy="127.8" r="1.95"/>
<circle cx="391.1" cy="127.8" r="1.95"/>
<circle cx="393.6" cy="127.8" r="1.95"/>
<circle cx="396.1" cy="127.8" r="1.95"/>
<circle cx="398.6" cy="127.8" r="1.95"/>
<circle cx="401.1" cy="127.8" r="1.95"/>
<circle cx="403.6" cy="127.8" r="1.95"/>
<circle cx="406.1" cy="127.8" r="1.95"/>
<circle cx="372.3" cy="130.2" r="1.95"/>
<circle cx="374.8" cy="130.2" r="1.95"/>
<circle cx="377.3" cy="130.2" r="1.95"/>
<circle cx="379.8" cy="130.2" r="1.95"/>
<circle cx="382.3" cy="130.2" r="1.95"/>
<circle cx="384.8" cy="130.2" r="1.95"/>
<circle cx="387.3" cy="130.2" r="1.95"/>
<circle cx="389.8" cy="130.2" r="1.95"/>
<circle cx="392.3" cy="130.2" r="1.95"/>
<circle cx="394.8" cy="130.2" r="1.95"/>
<circle cx="397.3" cy="130.2" r="1.95"/>
<circle cx="399.8" cy="130.2" r="1.95"/>
<circle cx="402.3" cy="130.2" r="1.95"/>
<circle cx="404.8" cy="130.2" r="1.95"/>
<circle cx="406.2" cy="130.2" r="1.95"/>
<circle cx="372.1" cy="132.6" r="1.95"/>
<circle cx="373.6" cy="132.6" r="1.95"/>
<circle cx="376.1" cy="132.6" r="1.95"/>
<circle cx="378.6" cy="132.6" r="1.95"/>
<circle cx="381.1" cy="132.6" r="1.95"/>
<circle cx="383.6" cy="132.6" r="1.95"/>
<circle cx="386.1" cy="132.6" r="1.95"/>
<circle cx="388.6" cy="132.6" r="1.95"/>
<circle cx="391.1" cy="132.6" r="1.95"/>
<circle cx="393.6" cy="132.6" r="1.95"/>
<circle cx="372.3" cy="135.0" r="1.95"/>
<circle cx="374.8" cy="135.0" r="1.95"/>
<circle cx="377.3" cy="135.0" r="1.95"/>
<circle cx="379.8" cy="135.0" r="1.95"/>
<circle cx="382.3" cy="135.0" r="1.95"/>
<circle cx="384.8" cy="135.0" r="1.95"/>
<circle cx="387.3" cy="135.0" r="1.95"/>
<circle cx="389.8" cy="135.0" r="1.95"/>
<circle cx="392.3" cy="135.0" r="1.95"/>
<circle cx="393.8" cy="135.0" r="1.95"/>
<circle cx="371.1" cy="137.5" r="1.95"/>
<circle cx="373.6" cy="137.5" r="1.95"/>
<circle cx="376.1" cy="137.5" r="1.95"/>
<circle cx="378.6" cy="137.5" r="1.95"/>
<circle cx="381.1" cy="137.5" r="1.95"/>
<circle cx="383.6" cy="137.5" r="1.95"/>
<circle cx="386.1" cy="137.5" r="1.95"/>
<circle cx="388.6" cy="137.5" r="1.95"/>
<circle cx="391.1" cy="137.5" r="1.95"/>
<circle cx="393.6" cy="137.5" r="1.95"/>
<circle cx="382.3" cy="139.9" r="1.95"/>
<circle cx="384.8" cy="139.9" r="1.95"/>
<circle cx="387.3" cy="139.9" r="1.95"/>
<circle cx="389.8" cy="139.9" r="1.95"/>
<circle cx="392.3" cy="139.9" r="1.95"/>
<circle cx="393.8" cy="139.9" r="1.95"/>
<circle cx="384.1" cy="142.3" r="1.95"/>
<circle cx="386.1" cy="142.3" r="1.95"/>
<circle cx="388.6" cy="142.3" r="1.95"/>
<circle cx="391.1" cy="142.3" r="1.95"/>
<circle cx="393.6" cy="142.3" r="1.95"/>
<circle cx="394.9" cy="142.3" r="1.95"/>
<circle cx="384.8" cy="144.7" r="1.95"/>
<circle cx="387.3" cy="144.7" r="1.95"/>
<circle cx="389.8" cy="144.7" r="1.95"/>
<circle cx="392.3" cy="144.7" r="1.95"/>
<circle cx="394.8" cy="144.7" r="1.95"/>
<circle cx="384.1" cy="147.1" r="1.95"/>
<circle cx="386.1" cy="147.1" r="1.95"/>
<circle cx="388.6" cy="147.1" r="1.95"/>
<circle cx="391.1" cy="147.1" r="1.95"/>
<circle cx="393.6" cy="147.1" r="1.95"/>
<circle cx="394.9" cy="147.1" r="1.95"/>
<circle cx="389.8" cy="149.5" r="1.95"/>
<circle cx="391.2" cy="149.5" r="1.95"/>
<circle cx="388.6" cy="151.9" r="1.95"/>
<circle cx="391.1" cy="151.9" r="1.95"/>
<circle cx="390.2" cy="61.0" r="1.95"/>
<circle cx="390.2" cy="66.4" r="1.95"/>
<circle cx="393.0" cy="66.4" r="1.95"/>
<circle cx="390.2" cy="68.2" r="1.95"/>
<circle cx="390.2" cy="72.9" r="1.95"/>
<circle cx="393.0" cy="72.9" r="1.95"/>
<circle cx="390.2" cy="80.8" r="1.95"/>
<circle cx="390.2" cy="86.7" r="1.95"/>
<circle cx="390.2" cy="96.8" r="1.95"/>
<circle cx="390.0" cy="166.8" r="1.95"/>
</g>
<g stroke-width="1.6" fill="#5a86bc" stroke="#114888">
<circle cx="424.7" cy="89.2" r="1.95"/>
<circle cx="427.2" cy="89.2" r="1.95"/>
<circle cx="429.7" cy="89.2" r="1.95"/>
<circle cx="432.2" cy="89.2" r="1.95"/>
<circle cx="434.7" cy="89.2" r="1.95"/>
<circle cx="437.2" cy="89.2" r="1.95"/>
<circle cx="439.7" cy="89.2" r="1.95"/>
<circle cx="442.2" cy="89.2" r="1.95"/>
<circle cx="444.6" cy="89.2" r="1.95"/>
<circle cx="423.8" cy="91.7" r="1.95"/>
<circle cx="425.9" cy="91.7" r="1.95"/>
<circle cx="428.4" cy="91.7" r="1.95"/>
<circle cx="430.9" cy="91.7" r="1.95"/>
<circle cx="433.4" cy="91.7" r="1.95"/>
<circle cx="435.9" cy="91.7" r="1.95"/>
<circle cx="438.4" cy="91.7" r="1.95"/>
<circle cx="440.9" cy="91.7" r="1.95"/>
<circle cx="443.4" cy="91.7" r="1.95"/>
<circle cx="445.1" cy="91.7" r="1.95"/>
<circle cx="426.4" cy="94.1" r="1.95"/>
<circle cx="429.7" cy="94.1" r="1.95"/>
<circle cx="432.2" cy="94.1" r="1.95"/>
<circle cx="434.7" cy="94.1" r="1.95"/>
<circle cx="437.2" cy="94.1" r="1.95"/>
<circle cx="439.7" cy="94.1" r="1.95"/>
<circle cx="441.6" cy="94.1" r="1.95"/>
<circle cx="426.4" cy="96.6" r="1.95"/>
<circle cx="428.4" cy="96.6" r="1.95"/>
<circle cx="430.9" cy="96.6" r="1.95"/>
<circle cx="433.4" cy="96.6" r="1.95"/>
<circle cx="435.9" cy="96.6" r="1.95"/>
<circle cx="438.4" cy="96.6" r="1.95"/>
<circle cx="440.9" cy="96.6" r="1.95"/>
<circle cx="426.4" cy="99.0" r="1.95"/>
<circle cx="429.7" cy="99.0" r="1.95"/>
<circle cx="432.2" cy="99.0" r="1.95"/>
<circle cx="434.7" cy="99.0" r="1.95"/>
<circle cx="437.2" cy="99.0" r="1.95"/>
<circle cx="439.7" cy="99.0" r="1.95"/>
<circle cx="441.6" cy="99.0" r="1.95"/>
<circle cx="419.6" cy="101.5" r="1.95"/>
<circle cx="420.9" cy="101.5" r="1.95"/>
<circle cx="423.4" cy="101.5" r="1.95"/>
<circle cx="425.9" cy="101.5" r="1.95"/>
<circle cx="428.4" cy="101.5" r="1.95"/>
<circle cx="430.9" cy="101.5" r="1.95"/>
<circle cx="433.4" cy="101.5" r="1.95"/>
<circle cx="435.9" cy="101.5" r="1.95"/>
<circle cx="438.4" cy="101.5" r="1.95"/>
<circle cx="440.9" cy="101.5" r="1.95"/>
<circle cx="443.4" cy="101.5" r="1.95"/>
<circle cx="445.9" cy="101.5" r="1.95"/>
<circle cx="448.4" cy="101.5" r="1.95"/>
<circle cx="450.4" cy="101.5" r="1.95"/>
<circle cx="419.7" cy="103.9" r="1.95"/>
<circle cx="422.2" cy="103.9" r="1.95"/>
<circle cx="424.7" cy="103.9" r="1.95"/>
<circle cx="427.2" cy="103.9" r="1.95"/>
<circle cx="429.7" cy="103.9" r="1.95"/>
<circle cx="432.2" cy="103.9" r="1.95"/>
<circle cx="434.7" cy="103.9" r="1.95"/>
<circle cx="437.2" cy="103.9" r="1.95"/>
<circle cx="439.7" cy="103.9" r="1.95"/>
<circle cx="442.2" cy="103.9" r="1.95"/>
<circle cx="444.7" cy="103.9" r="1.95"/>
<circle cx="447.2" cy="103.9" r="1.95"/>
<circle cx="449.7" cy="103.9" r="1.95"/>
<circle cx="410.1" cy="106.4" r="1.95"/>
<circle cx="413.4" cy="106.4" r="1.95"/>
<circle cx="415.9" cy="106.4" r="1.95"/>
<circle cx="418.4" cy="106.4" r="1.95"/>
<circle cx="420.9" cy="106.4" r="1.95"/>
<circle cx="423.4" cy="106.4" r="1.95"/>
<circle cx="425.9" cy="106.4" r="1.95"/>
<circle cx="428.4" cy="106.4" r="1.95"/>
<circle cx="430.9" cy="106.4" r="1.95"/>
<circle cx="433.4" cy="106.4" r="1.95"/>
<circle cx="435.9" cy="106.4" r="1.95"/>
<circle cx="438.4" cy="106.4" r="1.95"/>
<circle cx="440.9" cy="106.4" r="1.95"/>
<circle cx="443.4" cy="106.4" r="1.95"/>
<circle cx="445.9" cy="106.4" r="1.95"/>
<circle cx="448.4" cy="106.4" r="1.95"/>
<circle cx="450.9" cy="106.4" r="1.95"/>
<circle cx="453.4" cy="106.4" r="1.95"/>
<circle cx="455.9" cy="106.4" r="1.95"/>
<circle cx="458.4" cy="106.4" r="1.95"/>
<circle cx="460.6" cy="106.4" r="1.95"/>
<circle cx="410.9" cy="108.8" r="1.95"/>
<circle cx="414.7" cy="108.8" r="1.95"/>
<circle cx="417.2" cy="108.8" r="1.95"/>
<circle cx="419.7" cy="108.8" r="1.95"/>
<circle cx="422.2" cy="108.8" r="1.95"/>
<circle cx="424.7" cy="108.8" r="1.95"/>
<circle cx="427.2" cy="108.8" r="1.95"/>
<circle cx="429.7" cy="108.8" r="1.95"/>
<circle cx="432.2" cy="108.8" r="1.95"/>
<circle cx="434.7" cy="108.8" r="1.95"/>
<circle cx="437.2" cy="108.8" r="1.95"/>
<circle cx="439.7" cy="108.8" r="1.95"/>
<circle cx="442.2" cy="108.8" r="1.95"/>
<circle cx="444.7" cy="108.8" r="1.95"/>
<circle cx="447.2" cy="108.8" r="1.95"/>
<circle cx="449.7" cy="108.8" r="1.95"/>
<circle cx="452.2" cy="108.8" r="1.95"/>
<circle cx="454.7" cy="108.8" r="1.95"/>
<circle cx="457.2" cy="108.8" r="1.95"/>
<circle cx="459.7" cy="108.8" r="1.95"/>
<circle cx="411.4" cy="111.2" r="1.95"/>
<circle cx="413.4" cy="111.2" r="1.95"/>
<circle cx="415.9" cy="111.2" r="1.95"/>
<circle cx="418.4" cy="111.2" r="1.95"/>
<circle cx="420.9" cy="111.2" r="1.95"/>
<circle cx="423.4" cy="111.2" r="1.95"/>
<circle cx="425.9" cy="111.2" r="1.95"/>
<circle cx="428.4" cy="111.2" r="1.95"/>
<circle cx="430.9" cy="111.2" r="1.95"/>
<circle cx="433.4" cy="111.2" r="1.95"/>
<circle cx="435.9" cy="111.2" r="1.95"/>
<circle cx="438.4" cy="111.2" r="1.95"/>
<circle cx="440.9" cy="111.2" r="1.95"/>
<circle cx="443.4" cy="111.2" r="1.95"/>
<circle cx="445.9" cy="111.2" r="1.95"/>
<circle cx="448.4" cy="111.2" r="1.95"/>
<circle cx="450.9" cy="111.2" r="1.95"/>
<circle cx="453.4" cy="111.2" r="1.95"/>
<circle cx="455.9" cy="111.2" r="1.95"/>
<circle cx="458.4" cy="111.2" r="1.95"/>
<circle cx="460.2" cy="111.2" r="1.95"/>
<circle cx="412.2" cy="113.7" r="1.95"/>
<circle cx="414.7" cy="113.7" r="1.95"/>
<circle cx="417.2" cy="113.7" r="1.95"/>
<circle cx="419.7" cy="113.7" r="1.95"/>
<circle cx="422.2" cy="113.7" r="1.95"/>
<circle cx="424.7" cy="113.7" r="1.95"/>
<circle cx="427.2" cy="113.7" r="1.95"/>
<circle cx="429.7" cy="113.7" r="1.95"/>
<circle cx="432.2" cy="113.7" r="1.95"/>
<circle cx="434.7" cy="113.7" r="1.95"/>
<circle cx="437.2" cy="113.7" r="1.95"/>
<circle cx="439.7" cy="113.7" r="1.95"/>
<circle cx="442.2" cy="113.7" r="1.95"/>
<circle cx="444.7" cy="113.7" r="1.95"/>
<circle cx="447.2" cy="113.7" r="1.95"/>
<circle cx="449.7" cy="113.7" r="1.95"/>
<circle cx="452.2" cy="113.7" r="1.95"/>
<circle cx="454.7" cy="113.7" r="1.95"/>
<circle cx="457.2" cy="113.7" r="1.95"/>
<circle cx="459.7" cy="113.7" r="1.95"/>
<circle cx="411.4" cy="116.1" r="1.95"/>
<circle cx="413.4" cy="116.1" r="1.95"/>
<circle cx="415.9" cy="116.1" r="1.95"/>
<circle cx="418.4" cy="116.1" r="1.95"/>
<circle cx="420.9" cy="116.1" r="1.95"/>
<circle cx="423.4" cy="116.1" r="1.95"/>
<circle cx="425.9" cy="116.1" r="1.95"/>
<circle cx="428.4" cy="116.1" r="1.95"/>
<circle cx="430.9" cy="116.1" r="1.95"/>
<circle cx="433.4" cy="116.1" r="1.95"/>
<circle cx="435.9" cy="116.1" r="1.95"/>
<circle cx="438.4" cy="116.1" r="1.95"/>
<circle cx="440.9" cy="116.1" r="1.95"/>
<circle cx="443.4" cy="116.1" r="1.95"/>
<circle cx="445.9" cy="116.1" r="1.95"/>
<circle cx="448.4" cy="116.1" r="1.95"/>
<circle cx="450.9" cy="116.1" r="1.95"/>
<circle cx="453.4" cy="116.1" r="1.95"/>
<circle cx="455.9" cy="116.1" r="1.95"/>
<circle cx="458.4" cy="116.1" r="1.95"/>
<circle cx="460.2" cy="116.1" r="1.95"/>
<circle cx="412.2" cy="118.6" r="1.95"/>
<circle cx="414.7" cy="118.6" r="1.95"/>
<circle cx="417.2" cy="118.6" r="1.95"/>
<circle cx="419.7" cy="118.6" r="1.95"/>
<circle cx="422.2" cy="118.6" r="1.95"/>
<circle cx="424.7" cy="118.6" r="1.95"/>
<circle cx="427.2" cy="118.6" r="1.95"/>
<circle cx="429.7" cy="118.6" r="1.95"/>
<circle cx="432.2" cy="118.6" r="1.95"/>
<circle cx="434.7" cy="118.6" r="1.95"/>
<circle cx="437.2" cy="118.6" r="1.95"/>
<circle cx="439.7" cy="118.6" r="1.95"/>
<circle cx="442.2" cy="118.6" r="1.95"/>
<circle cx="444.7" cy="118.6" r="1.95"/>
<circle cx="447.2" cy="118.6" r="1.95"/>
<circle cx="449.7" cy="118.6" r="1.95"/>
<circle cx="452.2" cy="118.6" r="1.95"/>
<circle cx="454.7" cy="118.6" r="1.95"/>
<circle cx="457.2" cy="118.6" r="1.95"/>
<circle cx="459.7" cy="118.6" r="1.95"/>
<circle cx="411.4" cy="121.0" r="1.95"/>
<circle cx="413.4" cy="121.0" r="1.95"/>
<circle cx="415.9" cy="121.0" r="1.95"/>
<circle cx="418.4" cy="121.0" r="1.95"/>
<circle cx="420.9" cy="121.0" r="1.95"/>
<circle cx="423.4" cy="121.0" r="1.95"/>
<circle cx="425.9" cy="121.0" r="1.95"/>
<circle cx="428.4" cy="121.0" r="1.95"/>
<circle cx="430.9" cy="121.0" r="1.95"/>
<circle cx="433.4" cy="121.0" r="1.95"/>
<circle cx="435.9" cy="121.0" r="1.95"/>
<circle cx="438.4" cy="121.0" r="1.95"/>
<circle cx="440.9" cy="121.0" r="1.95"/>
<circle cx="443.4" cy="121.0" r="1.95"/>
<circle cx="445.9" cy="121.0" r="1.95"/>
<circle cx="448.4" cy="121.0" r="1.95"/>
<circle cx="450.9" cy="121.0" r="1.95"/>
<circle cx="453.4" cy="121.0" r="1.95"/>
<circle cx="455.9" cy="121.0" r="1.95"/>
<circle cx="458.4" cy="121.0" r="1.95"/>
<circle cx="460.2" cy="121.0" r="1.95"/>
<circle cx="412.2" cy="123.5" r="1.95"/>
<circle cx="414.7" cy="123.5" r="1.95"/>
<circle cx="417.2" cy="123.5" r="1.95"/>
<circle cx="419.7" cy="123.5" r="1.95"/>
<circle cx="422.2" cy="123.5" r="1.95"/>
<circle cx="424.7" cy="123.5" r="1.95"/>
<circle cx="427.2" cy="123.5" r="1.95"/>
<circle cx="429.7" cy="123.5" r="1.95"/>
<circle cx="432.2" cy="123.5" r="1.95"/>
<circle cx="434.7" cy="123.5" r="1.95"/>
<circle cx="437.2" cy="123.5" r="1.95"/>
<circle cx="439.7" cy="123.5" r="1.95"/>
<circle cx="442.2" cy="123.5" r="1.95"/>
<circle cx="444.7" cy="123.5" r="1.95"/>
<circle cx="447.2" cy="123.5" r="1.95"/>
<circle cx="449.7" cy="123.5" r="1.95"/>
<circle cx="452.2" cy="123.5" r="1.95"/>
<circle cx="454.7" cy="123.5" r="1.95"/>
<circle cx="457.2" cy="123.5" r="1.95"/>
<circle cx="459.7" cy="123.5" r="1.95"/>
<circle cx="411.4" cy="125.9" r="1.95"/>
<circle cx="413.4" cy="125.9" r="1.95"/>
<circle cx="415.9" cy="125.9" r="1.95"/>
<circle cx="418.4" cy="125.9" r="1.95"/>
<circle cx="420.9" cy="125.9" r="1.95"/>
<circle cx="423.4" cy="125.9" r="1.95"/>
<circle cx="425.9" cy="125.9" r="1.95"/>
<circle cx="428.4" cy="125.9" r="1.95"/>
<circle cx="430.9" cy="125.9" r="1.95"/>
<circle cx="433.4" cy="125.9" r="1.95"/>
<circle cx="435.9" cy="125.9" r="1.95"/>
<circle cx="438.4" cy="125.9" r="1.95"/>
<circle cx="440.9" cy="125.9" r="1.95"/>
<circle cx="443.4" cy="125.9" r="1.95"/>
<circle cx="445.9" cy="125.9" r="1.95"/>
<circle cx="448.4" cy="125.9" r="1.95"/>
<circle cx="450.9" cy="125.9" r="1.95"/>
<circle cx="453.4" cy="125.9" r="1.95"/>
<circle cx="455.9" cy="125.9" r="1.95"/>
<circle cx="458.4" cy="125.9" r="1.95"/>
<circle cx="460.2" cy="125.9" r="1.95"/>
<circle cx="412.2" cy="128.4" r="1.95"/>
<circle cx="414.7" cy="128.4" r="1.95"/>
<circle cx="417.2" cy="128.4" r="1.95"/>
<circle cx="419.7" cy="128.4" r="1.95"/>
<circle cx="422.2" cy="128.4" r="1.95"/>
<circle cx="424.7" cy="128.4" r="1.95"/>
<circle cx="427.2" cy="128.4" r="1.95"/>
<circle cx="429.7" cy="128.4" r="1.95"/>
<circle cx="432.2" cy="128.4" r="1.95"/>
<circle cx="434.7" cy="128.4" r="1.95"/>
<circle cx="437.2" cy="128.4" r="1.95"/>
<circle cx="439.7" cy="128.4" r="1.95"/>
<circle cx="442.2" cy="128.4" r="1.95"/>
<circle cx="444.7" cy="128.4" r="1.95"/>
<circle cx="447.2" cy="128.4" r="1.95"/>
<circle cx="449.7" cy="128.4" r="1.95"/>
<circle cx="452.2" cy="128.4" r="1.95"/>
<circle cx="454.7" cy="128.4" r="1.95"/>
<circle cx="457.2" cy="128.4" r="1.95"/>
<circle cx="459.7" cy="128.4" r="1.95"/>
<circle cx="414.1" cy="130.8" r="1.95"/>
<circle cx="415.9" cy="130.8" r="1.95"/>
<circle cx="418.4" cy="130.8" r="1.95"/>
<circle cx="420.9" cy="130.8" r="1.95"/>
<circle cx="423.4" cy="130.8" r="1.95"/>
<circle cx="425.9" cy="130.8" r="1.95"/>
<circle cx="428.4" cy="130.8" r="1.95"/>
<circle cx="430.9" cy="130.8" r="1.95"/>
<circle cx="433.4" cy="130.8" r="1.95"/>
<circle cx="435.9" cy="130.8" r="1.95"/>
<circle cx="438.4" cy="130.8" r="1.95"/>
<circle cx="440.9" cy="130.8" r="1.95"/>
<circle cx="443.4" cy="130.8" r="1.95"/>
<circle cx="445.9" cy="130.8" r="1.95"/>
<circle cx="448.4" cy="130.8" r="1.95"/>
<circle cx="450.9" cy="130.8" r="1.95"/>
<circle cx="453.4" cy="130.8" r="1.95"/>
<circle cx="457.2" cy="130.8" r="1.95"/>
<circle cx="415.8" cy="133.2" r="1.95"/>
<circle cx="417.2" cy="133.2" r="1.95"/>
<circle cx="419.7" cy="133.2" r="1.95"/>
<circle cx="422.2" cy="133.2" r="1.95"/>
<circle cx="424.7" cy="133.2" r="1.95"/>
<circle cx="427.2" cy="133.2" r="1.95"/>
<circle cx="429.7" cy="133.2" r="1.95"/>
<circle cx="432.2" cy="133.2" r="1.95"/>
<circle cx="434.7" cy="133.2" r="1.95"/>
<circle cx="437.2" cy="133.2" r="1.95"/>
<circle cx="439.7" cy="133.2" r="1.95"/>
<circle cx="442.2" cy="133.2" r="1.95"/>
<circle cx="444.7" cy="133.2" r="1.95"/>
<circle cx="447.2" cy="133.2" r="1.95"/>
<circle cx="449.7" cy="133.2" r="1.95"/>
<circle cx="452.2" cy="133.2" r="1.95"/>
<circle cx="454.7" cy="133.2" r="1.95"/>
<circle cx="399.2" cy="138.1" r="1.95"/>
<circle cx="401.8" cy="138.1" r="1.95"/>
<circle cx="404.3" cy="138.1" r="1.95"/>
<circle cx="406.9" cy="138.1" r="1.95"/>
<circle cx="409.4" cy="138.1" r="1.95"/>
<circle cx="411.9" cy="138.1" r="1.95"/>
<circle cx="414.5" cy="138.1" r="1.95"/>
<circle cx="417.0" cy="138.1" r="1.95"/>
<circle cx="419.5" cy="138.1" r="1.95"/>
<circle cx="422.1" cy="138.1" r="1.95"/>
<circle cx="424.6" cy="138.1" r="1.95"/>
<circle cx="427.1" cy="138.1" r="1.95"/>
<circle cx="429.7" cy="138.1" r="1.95"/>
<circle cx="432.2" cy="138.1" r="1.95"/>
<circle cx="434.8" cy="138.1" r="1.95"/>
<circle cx="437.3" cy="138.1" r="1.95"/>
<circle cx="439.8" cy="138.1" r="1.95"/>
<circle cx="442.4" cy="138.1" r="1.95"/>
<circle cx="444.9" cy="138.1" r="1.95"/>
<circle cx="447.4" cy="138.1" r="1.95"/>
<circle cx="450.0" cy="138.1" r="1.95"/>
<circle cx="452.5" cy="138.1" r="1.95"/>
<circle cx="455.0" cy="138.1" r="1.95"/>
<circle cx="457.6" cy="138.1" r="1.95"/>
<circle cx="460.1" cy="138.1" r="1.95"/>
<circle cx="462.6" cy="138.1" r="1.95"/>
<circle cx="465.2" cy="138.1" r="1.95"/>
<circle cx="467.7" cy="138.1" r="1.95"/>
<circle cx="470.2" cy="138.1" r="1.95"/>
<circle cx="418.9" cy="150.8" r="1.95"/>
<circle cx="421.4" cy="150.8" r="1.95"/>
<circle cx="423.9" cy="150.8" r="1.95"/>
<circle cx="426.4" cy="150.8" r="1.95"/>
<circle cx="428.9" cy="150.8" r="1.95"/>
<circle cx="431.4" cy="150.8" r="1.95"/>
<circle cx="433.9" cy="150.8" r="1.95"/>
<circle cx="436.4" cy="150.8" r="1.95"/>
<circle cx="438.9" cy="150.8" r="1.95"/>
<circle cx="441.4" cy="150.8" r="1.95"/>
<circle cx="443.9" cy="150.8" r="1.95"/>
<circle cx="446.4" cy="150.8" r="1.95"/>
<circle cx="448.9" cy="150.8" r="1.95"/>
<circle cx="451.4" cy="150.8" r="1.95"/>
<circle cx="435.5" cy="43.6" r="1.95"/>
<circle cx="433.9" cy="49.0" r="1.95"/>
<circle cx="438.2" cy="49.0" r="1.95"/>
<circle cx="433.9" cy="52.3" r="1.95"/>
<circle cx="438.2" cy="52.3" r="1.95"/>
<circle cx="433.9" cy="55.0" r="1.95"/>
<circle cx="438.2" cy="55.0" r="1.95"/>
<circle cx="432.8" cy="60.4" r="1.95"/>
<circle cx="438.2" cy="60.4" r="1.95"/>
<circle cx="432.8" cy="63.6" r="1.95"/>
<circle cx="438.2" cy="63.6" r="1.95"/>
<circle cx="432.8" cy="66.3" r="1.95"/>
<circle cx="438.2" cy="66.3" r="1.95"/>
<circle cx="431.2" cy="81.4" r="1.95"/>
<circle cx="428.5" cy="84.6" r="1.95"/>
<circle cx="435.1" cy="193.4" r="1.95"/>
<circle cx="438.4" cy="72.5" r="1.95"/>
<circle cx="438.6" cy="75.0" r="1.95"/>
<circle cx="438.6" cy="79.2" r="1.95"/>
<circle cx="438.6" cy="82.5" r="1.95"/>
<circle cx="438.6" cy="85.7" r="1.95"/>
<circle cx="440.8" cy="77.2" r="1.95"/>
<circle cx="440.8" cy="84.0" r="1.95"/>
<circle cx="431.5" cy="84.5" r="1.95"/>
</g>
<g stroke-width="1.6" fill="#fbd050" stroke="#f5b900">
<circle cx="479.5" cy="96.8" r="1.95"/>
<circle cx="482.0" cy="96.8" r="1.95"/>
<circle cx="478.8" cy="99.1" r="1.95"/>
<circle cx="480.8" cy="99.1" r="1.95"/>
<circle cx="482.4" cy="99.1" r="1.95"/>
<circle cx="479.5" cy="101.5" r="1.95"/>
<circle cx="482.0" cy="101.5" r="1.95"/>
<circle cx="478.8" cy="103.8" r="1.95"/>
<circle cx="480.8" cy="103.8" r="1.95"/>
<circle cx="482.4" cy="103.8" r="1.95"/>
<circle cx="472.8" cy="106.2" r="1.95"/>
<circle cx="474.5" cy="106.2" r="1.95"/>
<circle cx="477.0" cy="106.2" r="1.95"/>
<circle cx="479.5" cy="106.2" r="1.95"/>
<circle cx="482.0" cy="106.2" r="1.95"/>
<circle cx="484.5" cy="106.2" r="1.95"/>
<circle cx="488.0" cy="106.2" r="1.95"/>
<circle cx="466.4" cy="108.6" r="1.95"/>
<circle cx="468.2" cy="108.6" r="1.95"/>
<circle cx="470.8" cy="108.6" r="1.95"/>
<circle cx="473.2" cy="108.6" r="1.95"/>
<circle cx="475.8" cy="108.6" r="1.95"/>
<circle cx="478.2" cy="108.6" r="1.95"/>
<circle cx="480.8" cy="108.6" r="1.95"/>
<circle cx="483.2" cy="108.6" r="1.95"/>
<circle cx="485.8" cy="108.6" r="1.95"/>
<circle cx="488.2" cy="108.6" r="1.95"/>
<circle cx="490.8" cy="108.6" r="1.95"/>
<circle cx="494.1" cy="108.6" r="1.95"/>
<circle cx="467.0" cy="111.0" r="1.95"/>
<circle cx="469.5" cy="111.0" r="1.95"/>
<circle cx="472.0" cy="111.0" r="1.95"/>
<circle cx="474.5" cy="111.0" r="1.95"/>
<circle cx="477.0" cy="111.0" r="1.95"/>
<circle cx="479.5" cy="111.0" r="1.95"/>
<circle cx="482.0" cy="111.0" r="1.95"/>
<circle cx="484.5" cy="111.0" r="1.95"/>
<circle cx="487.0" cy="111.0" r="1.95"/>
<circle cx="489.5" cy="111.0" r="1.95"/>
<circle cx="492.0" cy="111.0" r="1.95"/>
<circle cx="494.1" cy="111.0" r="1.95"/>
<circle cx="463.8" cy="113.3" r="1.95"/>
<circle cx="465.8" cy="113.3" r="1.95"/>
<circle cx="468.2" cy="113.3" r="1.95"/>
<circle cx="470.8" cy="113.3" r="1.95"/>
<circle cx="473.2" cy="113.3" r="1.95"/>
<circle cx="475.8" cy="113.3" r="1.95"/>
<circle cx="478.2" cy="113.3" r="1.95"/>
<circle cx="480.8" cy="113.3" r="1.95"/>
<circle cx="483.2" cy="113.3" r="1.95"/>
<circle cx="485.8" cy="113.3" r="1.95"/>
<circle cx="488.2" cy="113.3" r="1.95"/>
<circle cx="490.8" cy="113.3" r="1.95"/>
<circle cx="493.2" cy="113.3" r="1.95"/>
<circle cx="495.8" cy="113.3" r="1.95"/>
<circle cx="497.9" cy="113.3" r="1.95"/>
<circle cx="462.9" cy="115.7" r="1.95"/>
<circle cx="464.5" cy="115.7" r="1.95"/>
<circle cx="467.0" cy="115.7" r="1.95"/>
<circle cx="469.5" cy="115.7" r="1.95"/>
<circle cx="472.0" cy="115.7" r="1.95"/>
<circle cx="474.5" cy="115.7" r="1.95"/>
<circle cx="477.0" cy="115.7" r="1.95"/>
<circle cx="479.5" cy="115.7" r="1.95"/>
<circle cx="482.0" cy="115.7" r="1.95"/>
<circle cx="484.5" cy="115.7" r="1.95"/>
<circle cx="487.0" cy="115.7" r="1.95"/>
<circle cx="489.5" cy="115.7" r="1.95"/>
<circle cx="492.0" cy="115.7" r="1.95"/>
<circle cx="494.5" cy="115.7" r="1.95"/>
<circle cx="497.0" cy="115.7" r="1.95"/>
<circle cx="498.8" cy="115.7" r="1.95"/>
<circle cx="457.1" cy="118.0" r="1.95"/>
<circle cx="460.8" cy="118.0" r="1.95"/>
<circle cx="463.2" cy="118.0" r="1.95"/>
<circle cx="465.8" cy="118.0" r="1.95"/>
<circle cx="468.2" cy="118.0" r="1.95"/>
<circle cx="470.8" cy="118.0" r="1.95"/>
<circle cx="473.2" cy="118.0" r="1.95"/>
<circle cx="475.8" cy="118.0" r="1.95"/>
<circle cx="478.2" cy="118.0" r="1.95"/>
<circle cx="480.8" cy="118.0" r="1.95"/>
<circle cx="483.2" cy="118.0" r="1.95"/>
<circle cx="485.8" cy="118.0" r="1.95"/>
<circle cx="488.2" cy="118.0" r="1.95"/>
<circle cx="490.8" cy="118.0" r="1.95"/>
<circle cx="493.2" cy="118.0" r="1.95"/>
<circle cx="495.8" cy="118.0" r="1.95"/>
<circle cx="498.2" cy="118.0" r="1.95"/>
<circle cx="500.8" cy="118.0" r="1.95"/>
<circle cx="503.2" cy="118.0" r="1.95"/>
<circle cx="505.8" cy="118.0" r="1.95"/>
<circle cx="457.1" cy="120.4" r="1.95"/>
<circle cx="459.5" cy="120.4" r="1.95"/>
<circle cx="462.0" cy="120.4" r="1.95"/>
<circle cx="464.5" cy="120.4" r="1.95"/>
<circle cx="467.0" cy="120.4" r="1.95"/>
<circle cx="469.5" cy="120.4" r="1.95"/>
<circle cx="472.0" cy="120.4" r="1.95"/>
<circle cx="474.5" cy="120.4" r="1.95"/>
<circle cx="477.0" cy="120.4" r="1.95"/>
<circle cx="479.5" cy="120.4" r="1.95"/>
<circle cx="482.0" cy="120.4" r="1.95"/>
<circle cx="484.5" cy="120.4" r="1.95"/>
<circle cx="487.0" cy="120.4" r="1.95"/>
<circle cx="489.5" cy="120.4" r="1.95"/>
<circle cx="492.0" cy="120.4" r="1.95"/>
<circle cx="494.5" cy="120.4" r="1.95"/>
<circle cx="497.0" cy="120.4" r="1.95"/>
<circle cx="499.5" cy="120.4" r="1.95"/>
<circle cx="502.0" cy="120.4" r="1.95"/>
<circle cx="505.8" cy="120.4" r="1.95"/>
<circle cx="457.1" cy="122.8" r="1.95"/>
<circle cx="460.8" cy="122.8" r="1.95"/>
<circle cx="463.2" cy="122.8" r="1.95"/>
<circle cx="465.8" cy="122.8" r="1.95"/>
<circle cx="468.2" cy="122.8" r="1.95"/>
<circle cx="470.8" cy="122.8" r="1.95"/>
<circle cx="473.2" cy="122.8" r="1.95"/>
<circle cx="475.8" cy="122.8" r="1.95"/>
<circle cx="478.2" cy="122.8" r="1.95"/>
<circle cx="480.8" cy="122.8" r="1.95"/>
<circle cx="483.2" cy="122.8" r="1.95"/>
<circle cx="485.8" cy="122.8" r="1.95"/>
<circle cx="488.2" cy="122.8" r="1.95"/>
<circle cx="490.8" cy="122.8" r="1.95"/>
<circle cx="493.2" cy="122.8" r="1.95"/>
<circle cx="495.8" cy="122.8" r="1.95"/>
<circle cx="498.2" cy="122.8" r="1.95"/>
<circle cx="500.8" cy="122.8" r="1.95"/>
<circle cx="503.2" cy="122.8" r="1.95"/>
<circle cx="505.8" cy="122.8" r="1.95"/>
<circle cx="457.1" cy="125.1" r="1.95"/>
<circle cx="459.5" cy="125.1" r="1.95"/>
<circle cx="462.0" cy="125.1" r="1.95"/>
<circle cx="464.5" cy="125.1" r="1.95"/>
<circle cx="467.0" cy="125.1" r="1.95"/>
<circle cx="469.5" cy="125.1" r="1.95"/>
<circle cx="472.0" cy="125.1" r="1.95"/>
<circle cx="474.5" cy="125.1" r="1.95"/>
<circle cx="477.0" cy="125.1" r="1.95"/>
<circle cx="479.5" cy="125.1" r="1.95"/>
<circle cx="482.0" cy="125.1" r="1.95"/>
<circle cx="484.5" cy="125.1" r="1.95"/>
<circle cx="487.0" cy="125.1" r="1.95"/>
<circle cx="489.5" cy="125.1" r="1.95"/>
<circle cx="492.0" cy="125.1" r="1.95"/>
<circle cx="494.5" cy="125.1" r="1.95"/>
<circle cx="497.0" cy="125.1" r="1.95"/>
<circle cx="499.5" cy="125.1" r="1.95"/>
<circle cx="502.0" cy="125.1" r="1.95"/>
<circle cx="505.8" cy="125.1" r="1.95"/>
<circle cx="457.1" cy="127.5" r="1.95"/>
<circle cx="460.8" cy="127.5" r="1.95"/>
<circle cx="463.2" cy="127.5" r="1.95"/>
<circle cx="465.8" cy="127.5" r="1.95"/>
<circle cx="468.2" cy="127.5" r="1.95"/>
<circle cx="470.8" cy="127.5" r="1.95"/>
<circle cx="473.2" cy="127.5" r="1.95"/>
<circle cx="475.8" cy="127.5" r="1.95"/>
<circle cx="478.2" cy="127.5" r="1.95"/>
<circle cx="480.8" cy="127.5" r="1.95"/>
<circle cx="483.2" cy="127.5" r="1.95"/>
<circle cx="485.8" cy="127.5" r="1.95"/>
<circle cx="488.2" cy="127.5" r="1.95"/>
<circle cx="490.8" cy="127.5" r="1.95"/>
<circle cx="493.2" cy="127.5" r="1.95"/>
<circle cx="495.8" cy="127.5" r="1.95"/>
<circle cx="498.2" cy="127.5" r="1.95"/>
<circle cx="500.8" cy="127.5" r="1.95"/>
<circle cx="503.2" cy="127.5" r="1.95"/>
<circle cx="505.8" cy="127.5" r="1.95"/>
<circle cx="457.1" cy="129.9" r="1.95"/>
<circle cx="459.5" cy="129.9" r="1.95"/>
<circle cx="462.0" cy="129.9" r="1.95"/>
<circle cx="464.5" cy="129.9" r="1.95"/>
<circle cx="467.0" cy="129.9" r="1.95"/>
<circle cx="469.5" cy="129.9" r="1.95"/>
<circle cx="472.0" cy="129.9" r="1.95"/>
<circle cx="474.5" cy="129.9" r="1.95"/>
<circle cx="477.0" cy="129.9" r="1.95"/>
<circle cx="479.5" cy="129.9" r="1.95"/>
<circle cx="482.0" cy="129.9" r="1.95"/>
<circle cx="484.5" cy="129.9" r="1.95"/>
<circle cx="487.0" cy="129.9" r="1.95"/>
<circle cx="489.5" cy="129.9" r="1.95"/>
<circle cx="492.0" cy="129.9" r="1.95"/>
<circle cx="494.5" cy="129.9" r="1.95"/>
<circle cx="497.0" cy="129.9" r="1.95"/>
<circle cx="499.5" cy="129.9" r="1.95"/>
<circle cx="502.0" cy="129.9" r="1.95"/>
<circle cx="505.8" cy="129.9" r="1.95"/>
<circle cx="457.1" cy="132.2" r="1.95"/>
<circle cx="460.8" cy="132.2" r="1.95"/>
<circle cx="463.2" cy="132.2" r="1.95"/>
<circle cx="465.8" cy="132.2" r="1.95"/>
<circle cx="468.2" cy="132.2" r="1.95"/>
<circle cx="470.8" cy="132.2" r="1.95"/>
<circle cx="473.2" cy="132.2" r="1.95"/>
<circle cx="475.8" cy="132.2" r="1.95"/>
<circle cx="478.2" cy="132.2" r="1.95"/>
<circle cx="480.8" cy="132.2" r="1.95"/>
<circle cx="483.2" cy="132.2" r="1.95"/>
<circle cx="485.8" cy="132.2" r="1.95"/>
<circle cx="488.2" cy="132.2" r="1.95"/>
<circle cx="490.8" cy="132.2" r="1.95"/>
<circle cx="493.2" cy="132.2" r="1.95"/>
<circle cx="495.8" cy="132.2" r="1.95"/>
<circle cx="498.2" cy="132.2" r="1.95"/>
<circle cx="500.1" cy="132.2" r="1.95"/>
<circle cx="457.1" cy="134.6" r="1.95"/>
<circle cx="459.5" cy="134.6" r="1.95"/>
<circle cx="462.0" cy="134.6" r="1.95"/>
<circle cx="464.5" cy="134.6" r="1.95"/>
<circle cx="467.0" cy="134.6" r="1.95"/>
<circle cx="469.5" cy="134.6" r="1.95"/>
<circle cx="472.0" cy="134.6" r="1.95"/>
<circle cx="474.5" cy="134.6" r="1.95"/>
<circle cx="477.0" cy="134.6" r="1.95"/>
<circle cx="479.5" cy="134.6" r="1.95"/>
<circle cx="482.0" cy="134.6" r="1.95"/>
<circle cx="484.5" cy="134.6" r="1.95"/>
<circle cx="487.0" cy="134.6" r="1.95"/>
<circle cx="489.5" cy="134.6" r="1.95"/>
<circle cx="492.0" cy="134.6" r="1.95"/>
<circle cx="494.5" cy="134.6" r="1.95"/>
<circle cx="497.0" cy="134.6" r="1.95"/>
<circle cx="499.5" cy="134.6" r="1.95"/>
<circle cx="457.1" cy="137.0" r="1.95"/>
<circle cx="460.8" cy="137.0" r="1.95"/>
<circle cx="463.2" cy="137.0" r="1.95"/>
<circle cx="465.8" cy="137.0" r="1.95"/>
<circle cx="468.2" cy="137.0" r="1.95"/>
<circle cx="470.8" cy="137.0" r="1.95"/>
<circle cx="473.2" cy="137.0" r="1.95"/>
<circle cx="475.8" cy="137.0" r="1.95"/>
<circle cx="478.2" cy="137.0" r="1.95"/>
<circle cx="480.8" cy="137.0" r="1.95"/>
<circle cx="483.2" cy="137.0" r="1.95"/>
<circle cx="485.8" cy="137.0" r="1.95"/>
<circle cx="488.2" cy="137.0" r="1.95"/>
<circle cx="490.8" cy="137.0" r="1.95"/>
<circle cx="493.2" cy="137.0" r="1.95"/>
<circle cx="495.8" cy="137.0" r="1.95"/>
<circle cx="498.2" cy="137.0" r="1.95"/>
<circle cx="500.1" cy="137.0" r="1.95"/>
<circle cx="477.2" cy="139.3" r="1.95"/>
<circle cx="479.5" cy="139.3" r="1.95"/>
<circle cx="482.0" cy="139.3" r="1.95"/>
<circle cx="477.2" cy="141.7" r="1.95"/>
<circle cx="480.8" cy="141.7" r="1.95"/>
<circle cx="482.8" cy="141.7" r="1.95"/>
<circle cx="477.2" cy="144.1" r="1.95"/>
<circle cx="479.5" cy="144.1" r="1.95"/>
<circle cx="482.0" cy="144.1" r="1.95"/>
<circle cx="480.0" cy="146.4" r="1.95"/>
<circle cx="457.1" cy="136.2" r="1.95"/>
<circle cx="459.6" cy="136.2" r="1.95"/>
<circle cx="462.1" cy="136.2" r="1.95"/>
<circle cx="464.6" cy="136.2" r="1.95"/>
<circle cx="467.2" cy="136.2" r="1.95"/>
<circle cx="469.7" cy="136.2" r="1.95"/>
<circle cx="472.2" cy="136.2" r="1.95"/>
<circle cx="474.8" cy="136.2" r="1.95"/>
<circle cx="477.3" cy="136.2" r="1.95"/>
<circle cx="479.8" cy="136.2" r="1.95"/>
<circle cx="482.3" cy="136.2" r="1.95"/>
<circle cx="484.9" cy="136.2" r="1.95"/>
<circle cx="487.4" cy="136.2" r="1.95"/>
<circle cx="489.9" cy="136.2" r="1.95"/>
<circle cx="492.5" cy="136.2" r="1.95"/>
<circle cx="495.0" cy="136.2" r="1.95"/>
<circle cx="497.5" cy="136.2" r="1.95"/>
<circle cx="500.1" cy="136.2" r="1.95"/>
<circle cx="480.0" cy="76.5" r="1.95"/>
<circle cx="480.0" cy="84.4" r="1.95"/>
<circle cx="480.0" cy="87.1" r="1.95"/>
</g>
<line x1="345.4" y1="66.3" x2="345.4" y2="80.4" stroke="#151515" stroke-width="1.4" stroke-dasharray="4 3.5"/>
<line x1="335.79999999999995" y1="66.3" x2="355.0" y2="66.3" stroke="#151515" stroke-width="1.4"/>
<rect x="327.2" y="80.4" width="36.4" height="32.1" fill="#fff" stroke="#151515" stroke-width="1.5"/>
<line x1="327.2" y1="103.0" x2="363.6" y2="103.0" stroke="#151515" stroke-width="3"/>
<rect x="343.6" y="47.2" width="3.8" height="19.3" rx="1.9" fill="#151515"/>
<line x1="389.8" y1="101.6" x2="389.8" y2="112.6" stroke="#151515" stroke-width="1.4" stroke-dasharray="4 3.5"/>
<line x1="380.2" y1="101.6" x2="399.40000000000003" y2="101.6" stroke="#151515" stroke-width="1.4"/>
<line x1="389.8" y1="133.3" x2="389.8" y2="166.8" stroke="#151515" stroke-width="1.4" stroke-dasharray="4 3.5"/>
<line x1="380.2" y1="166.8" x2="399.40000000000003" y2="166.8" stroke="#151515" stroke-width="1.4"/>
<rect x="371.6" y="112.6" width="36.4" height="20.7" fill="#fff" stroke="#151515" stroke-width="1.5"/>
<line x1="371.6" y1="123.5" x2="408.0" y2="123.5" stroke="#151515" stroke-width="3"/>
<circle cx="390.2" cy="61" r="1.95" fill="none" stroke="#151515" stroke-width="1.4"/>
<circle cx="390.2" cy="66.4" r="1.95" fill="none" stroke="#151515" stroke-width="1.4"/>
<circle cx="390.2" cy="68.2" r="1.95" fill="none" stroke="#151515" stroke-width="1.4"/>
<circle cx="390.2" cy="72.9" r="1.95" fill="none" stroke="#151515" stroke-width="1.4"/>
<circle cx="390.2" cy="80.8" r="1.95" fill="none" stroke="#151515" stroke-width="1.4"/>
<circle cx="390.2" cy="86.7" r="1.95" fill="none" stroke="#151515" stroke-width="1.4"/>
<circle cx="390.2" cy="96.8" r="1.95" fill="none" stroke="#151515" stroke-width="1.4"/>
<line x1="434.7" y1="91.8" x2="434.7" y2="104.9" stroke="#151515" stroke-width="1.4" stroke-dasharray="4 3.5"/>
<line x1="425.09999999999997" y1="91.8" x2="444.3" y2="91.8" stroke="#151515" stroke-width="1.4"/>
<line x1="434.7" y1="130.3" x2="434.7" y2="193.2" stroke="#151515" stroke-width="1.4" stroke-dasharray="4 3.5"/>
<line x1="425.09999999999997" y1="193.2" x2="444.3" y2="193.2" stroke="#151515" stroke-width="1.4"/>
<rect x="416.5" y="104.9" width="36.4" height="25.4" fill="#fff" stroke="#151515" stroke-width="1.5"/>
<line x1="416.5" y1="117.5" x2="452.9" y2="117.5" stroke="#151515" stroke-width="3"/>
<circle cx="435.5" cy="43.6" r="1.95" fill="none" stroke="#151515" stroke-width="1.4"/>
<circle cx="433.9" cy="49" r="1.95" fill="none" stroke="#151515" stroke-width="1.4"/>
<circle cx="433.9" cy="52.3" r="1.95" fill="none" stroke="#151515" stroke-width="1.4"/>
<circle cx="433.9" cy="55" r="1.95" fill="none" stroke="#151515" stroke-width="1.4"/>
<circle cx="432.8" cy="60.4" r="1.95" fill="none" stroke="#151515" stroke-width="1.4"/>
<circle cx="432.8" cy="63.6" r="1.95" fill="none" stroke="#151515" stroke-width="1.4"/>
<circle cx="432.8" cy="66.3" r="1.95" fill="none" stroke="#151515" stroke-width="1.4"/>
<rect x="433.3" y="70.6" width="3.8" height="21.4" rx="1.9" fill="#151515"/>
<line x1="479.5" y1="104.7" x2="479.5" y2="116.2" stroke="#151515" stroke-width="1.4" stroke-dasharray="4 3.5"/>
<line x1="469.9" y1="104.7" x2="489.1" y2="104.7" stroke="#151515" stroke-width="1.4"/>
<line x1="479.5" y1="130.8" x2="479.5" y2="150.6" stroke="#151515" stroke-width="1.4" stroke-dasharray="4 3.5"/>
<line x1="469.9" y1="150.6" x2="489.1" y2="150.6" stroke="#151515" stroke-width="1.4"/>
<rect x="461.3" y="116.2" width="36.4" height="14.6" fill="#fff" stroke="#151515" stroke-width="1.5"/>
<line x1="461.3" y1="125.9" x2="497.7" y2="125.9" stroke="#151515" stroke-width="3"/>
<circle cx="480" cy="76.5" r="1.95" fill="none" stroke="#151515" stroke-width="1.4"/>
<circle cx="480" cy="84.4" r="1.95" fill="none" stroke="#151515" stroke-width="1.4"/>
<circle cx="480" cy="87.1" r="1.95" fill="none" stroke="#151515" stroke-width="1.4"/>
<circle cx="480" cy="92.5" r="1.95" fill="none" stroke="#151515" stroke-width="1.4"/>
<circle cx="480" cy="95.2" r="1.95" fill="none" stroke="#151515" stroke-width="1.4"/>
<circle cx="480" cy="97.9" r="1.95" fill="none" stroke="#151515" stroke-width="1.4"/>
<circle cx="480" cy="101" r="1.95" fill="none" stroke="#151515" stroke-width="1.4"/>
<circle cx="480" cy="103.3" r="1.95" fill="none" stroke="#151515" stroke-width="1.4"/>
<path d="M53.8,308.7 V486.2 H247.0" fill="none" stroke="#151515" stroke-width="1.4"/>
<line x1="49.3" y1="320.79" x2="53.8" y2="320.79" stroke="#151515" stroke-width="1.3"/>
<text x="45.0" y="325.91" font-size="14.2" text-anchor="end" fill="#222">60</text>
<line x1="49.3" y1="336.63" x2="53.8" y2="336.63" stroke="#151515" stroke-width="1.3"/>
<text x="45.0" y="341.74" font-size="14.2" text-anchor="end" fill="#222">50</text>
<line x1="49.3" y1="356.01" x2="53.8" y2="356.01" stroke="#151515" stroke-width="1.3"/>
<text x="45.0" y="361.12" font-size="14.2" text-anchor="end" fill="#222">40</text>
<line x1="49.3" y1="381.00" x2="53.8" y2="381.00" stroke="#151515" stroke-width="1.3"/>
<text x="45.0" y="386.11" font-size="14.2" text-anchor="end" fill="#222">30</text>
<line x1="49.3" y1="416.22" x2="53.8" y2="416.22" stroke="#151515" stroke-width="1.3"/>
<text x="45.0" y="421.33" font-size="14.2" text-anchor="end" fill="#222">20</text>
<line x1="49.3" y1="476.42" x2="53.8" y2="476.42" stroke="#151515" stroke-width="1.3"/>
<text x="45.0" y="481.54" font-size="14.2" text-anchor="end" fill="#222">10</text>
<line x1="83.0" y1="486.2" x2="83.0" y2="490.2" stroke="#151515" stroke-width="1.3"/>
<text x="88.00" y="500.00" font-size="12.6" text-anchor="end" fill="#222" transform="rotate(-45 88.00 500.00)">FHL</text>
<line x1="128.0" y1="486.2" x2="128.0" y2="490.2" stroke="#151515" stroke-width="1.3"/>
<text x="133.00" y="500.00" font-size="12.6" text-anchor="end" fill="#222" transform="rotate(-45 133.00 500.00)">Infection-1</text>
<line x1="172.8" y1="486.2" x2="172.8" y2="490.2" stroke="#151515" stroke-width="1.3"/>
<text x="177.80" y="500.00" font-size="12.6" text-anchor="end" fill="#222" transform="rotate(-45 177.80 500.00)">Infection-2</text>
<line x1="217.6" y1="486.2" x2="217.6" y2="490.2" stroke="#151515" stroke-width="1.3"/>
<text x="222.60" y="500.00" font-size="12.6" text-anchor="end" fill="#222" transform="rotate(-45 222.60 500.00)">Rheuma</text>
<text x="106.6" y="301.9" font-size="13.8" fill="#222" textLength="87.8" lengthAdjust="spacingAndGlyphs">Albumin (g/L)</text>
<g stroke-width="1.6" fill="#dc3e5c" stroke="#c2002a">
<circle cx="81.0" cy="337.2" r="1.95"/>
<circle cx="83.0" cy="337.2" r="1.95"/>
<circle cx="84.8" cy="337.2" r="1.95"/>
<circle cx="81.8" cy="339.6" r="1.95"/>
<circle cx="84.2" cy="339.6" r="1.95"/>
<circle cx="81.0" cy="342.0" r="1.95"/>
<circle cx="83.0" cy="342.0" r="1.95"/>
<circle cx="84.8" cy="342.0" r="1.95"/>
<circle cx="81.8" cy="344.4" r="1.95"/>
<circle cx="84.2" cy="344.4" r="1.95"/>
<circle cx="81.0" cy="346.8" r="1.95"/>
<circle cx="83.0" cy="346.8" r="1.95"/>
<circle cx="84.8" cy="346.8" r="1.95"/>
<circle cx="79.2" cy="349.2" r="1.95"/>
<circle cx="81.8" cy="349.2" r="1.95"/>
<circle cx="84.2" cy="349.2" r="1.95"/>
<circle cx="87.8" cy="349.2" r="1.95"/>
<circle cx="78.3" cy="351.6" r="1.95"/>
<circle cx="80.5" cy="351.6" r="1.95"/>
<circle cx="83.0" cy="351.6" r="1.95"/>
<circle cx="85.5" cy="351.6" r="1.95"/>
<circle cx="88.0" cy="351.6" r="1.95"/>
<circle cx="78.3" cy="353.9" r="1.95"/>
<circle cx="81.8" cy="353.9" r="1.95"/>
<circle cx="84.2" cy="353.9" r="1.95"/>
<circle cx="88.0" cy="353.9" r="1.95"/>
<circle cx="78.3" cy="356.3" r="1.95"/>
<circle cx="80.5" cy="356.3" r="1.95"/>
<circle cx="83.0" cy="356.3" r="1.95"/>
<circle cx="85.5" cy="356.3" r="1.95"/>
<circle cx="88.0" cy="356.3" r="1.95"/>
<circle cx="78.3" cy="358.7" r="1.95"/>
<circle cx="81.8" cy="358.7" r="1.95"/>
<circle cx="84.2" cy="358.7" r="1.95"/>
<circle cx="88.0" cy="358.7" r="1.95"/>
<circle cx="71.5" cy="361.1" r="1.95"/>
<circle cx="73.0" cy="361.1" r="1.95"/>
<circle cx="75.5" cy="361.1" r="1.95"/>
<circle cx="78.0" cy="361.1" r="1.95"/>
<circle cx="80.5" cy="361.1" r="1.95"/>
<circle cx="83.0" cy="361.1" r="1.95"/>
<circle cx="85.5" cy="361.1" r="1.95"/>
<circle cx="88.0" cy="361.1" r="1.95"/>
<circle cx="91.8" cy="361.1" r="1.95"/>
<circle cx="71.8" cy="363.5" r="1.95"/>
<circle cx="74.2" cy="363.5" r="1.95"/>
<circle cx="76.8" cy="363.5" r="1.95"/>
<circle cx="79.2" cy="363.5" r="1.95"/>
<circle cx="81.8" cy="363.5" r="1.95"/>
<circle cx="84.2" cy="363.5" r="1.95"/>
<circle cx="86.8" cy="363.5" r="1.95"/>
<circle cx="89.2" cy="363.5" r="1.95"/>
<circle cx="91.8" cy="363.5" r="1.95"/>
<circle cx="73.0" cy="365.9" r="1.95"/>
<circle cx="75.5" cy="365.9" r="1.95"/>
<circle cx="78.0" cy="365.9" r="1.95"/>
<circle cx="80.5" cy="365.9" r="1.95"/>
<circle cx="83.0" cy="365.9" r="1.95"/>
<circle cx="85.5" cy="365.9" r="1.95"/>
<circle cx="88.0" cy="365.9" r="1.95"/>
<circle cx="91.8" cy="365.9" r="1.95"/>
<circle cx="72.8" cy="368.2" r="1.95"/>
<circle cx="74.2" cy="368.2" r="1.95"/>
<circle cx="76.8" cy="368.2" r="1.95"/>
<circle cx="79.2" cy="368.2" r="1.95"/>
<circle cx="81.8" cy="368.2" r="1.95"/>
<circle cx="84.2" cy="368.2" r="1.95"/>
<circle cx="86.8" cy="368.2" r="1.95"/>
<circle cx="89.2" cy="368.2" r="1.95"/>
<circle cx="93.0" cy="368.2" r="1.95"/>
<circle cx="73.0" cy="370.6" r="1.95"/>
<circle cx="75.5" cy="370.6" r="1.95"/>
<circle cx="78.0" cy="370.6" r="1.95"/>
<circle cx="80.5" cy="370.6" r="1.95"/>
<circle cx="83.0" cy="370.6" r="1.95"/>
<circle cx="85.5" cy="370.6" r="1.95"/>
<circle cx="88.0" cy="370.6" r="1.95"/>
<circle cx="90.5" cy="370.6" r="1.95"/>
<circle cx="93.0" cy="370.6" r="1.95"/>
<circle cx="72.8" cy="373.0" r="1.95"/>
<circle cx="74.2" cy="373.0" r="1.95"/>
<circle cx="76.8" cy="373.0" r="1.95"/>
<circle cx="79.2" cy="373.0" r="1.95"/>
<circle cx="81.8" cy="373.0" r="1.95"/>
<circle cx="84.2" cy="373.0" r="1.95"/>
<circle cx="86.8" cy="373.0" r="1.95"/>
<circle cx="89.2" cy="373.0" r="1.95"/>
<circle cx="93.0" cy="373.0" r="1.95"/>
<circle cx="73.0" cy="375.4" r="1.95"/>
<circle cx="75.5" cy="375.4" r="1.95"/>
<circle cx="78.0" cy="375.4" r="1.95"/>
<circle cx="80.5" cy="375.4" r="1.95"/>
<circle cx="83.0" cy="375.4" r="1.95"/>
<circle cx="85.5" cy="375.4" r="1.95"/>
<circle cx="88.0" cy="375.4" r="1.95"/>
<circle cx="90.5" cy="375.4" r="1.95"/>
<circle cx="93.0" cy="375.4" r="1.95"/>
<circle cx="67.8" cy="377.8" r="1.95"/>
<circle cx="69.2" cy="377.8" r="1.95"/>
<circle cx="71.8" cy="377.8" r="1.95"/>
<circle cx="74.2" cy="377.8" r="1.95"/>
<circle cx="76.8" cy="377.8" r="1.95"/>
<circle cx="79.2" cy="377.8" r="1.95"/>
<circle cx="81.8" cy="377.8" r="1.95"/>
<circle cx="84.2" cy="377.8" r="1.95"/>
<circle cx="86.8" cy="377.8" r="1.95"/>
<circle cx="89.2" cy="377.8" r="1.95"/>
<circle cx="91.8" cy="377.8" r="1.95"/>
<circle cx="94.2" cy="377.8" r="1.95"/>
<circle cx="96.8" cy="377.8" r="1.95"/>
<circle cx="98.7" cy="377.8" r="1.95"/>
<circle cx="68.0" cy="380.2" r="1.95"/>
<circle cx="70.5" cy="380.2" r="1.95"/>
<circle cx="73.0" cy="380.2" r="1.95"/>
<circle cx="75.5" cy="380.2" r="1.95"/>
<circle cx="78.0" cy="380.2" r="1.95"/>
<circle cx="80.5" cy="380.2" r="1.95"/>
<circle cx="83.0" cy="380.2" r="1.95"/>
<circle cx="85.5" cy="380.2" r="1.95"/>
<circle cx="88.0" cy="380.2" r="1.95"/>
<circle cx="90.5" cy="380.2" r="1.95"/>
<circle cx="93.0" cy="380.2" r="1.95"/>
<circle cx="95.5" cy="380.2" r="1.95"/>
<circle cx="98.0" cy="380.2" r="1.95"/>
<circle cx="67.8" cy="382.5" r="1.95"/>
<circle cx="69.2" cy="382.5" r="1.95"/>
<circle cx="71.8" cy="382.5" r="1.95"/>
<circle cx="74.2" cy="382.5" r="1.95"/>
<circle cx="76.8" cy="382.5" r="1.95"/>
<circle cx="79.2" cy="382.5" r="1.95"/>
<circle cx="81.8" cy="382.5" r="1.95"/>
<circle cx="84.2" cy="382.5" r="1.95"/>
<circle cx="86.8" cy="382.5" r="1.95"/>
<circle cx="89.2" cy="382.5" r="1.95"/>
<circle cx="91.8" cy="382.5" r="1.95"/>
<circle cx="94.2" cy="382.5" r="1.95"/>
<circle cx="96.8" cy="382.5" r="1.95"/>
<circle cx="98.7" cy="382.5" r="1.95"/>
<circle cx="68.0" cy="384.9" r="1.95"/>
<circle cx="70.5" cy="384.9" r="1.95"/>
<circle cx="73.0" cy="384.9" r="1.95"/>
<circle cx="75.5" cy="384.9" r="1.95"/>
<circle cx="78.0" cy="384.9" r="1.95"/>
<circle cx="80.5" cy="384.9" r="1.95"/>
<circle cx="83.0" cy="384.9" r="1.95"/>
<circle cx="85.5" cy="384.9" r="1.95"/>
<circle cx="88.0" cy="384.9" r="1.95"/>
<circle cx="90.5" cy="384.9" r="1.95"/>
<circle cx="93.0" cy="384.9" r="1.95"/>
<circle cx="95.5" cy="384.9" r="1.95"/>
<circle cx="98.0" cy="384.9" r="1.95"/>
<circle cx="67.8" cy="387.3" r="1.95"/>
<circle cx="69.2" cy="387.3" r="1.95"/>
<circle cx="71.8" cy="387.3" r="1.95"/>
<circle cx="74.2" cy="387.3" r="1.95"/>
<circle cx="76.8" cy="387.3" r="1.95"/>
<circle cx="79.2" cy="387.3" r="1.95"/>
<circle cx="81.8" cy="387.3" r="1.95"/>
<circle cx="84.2" cy="387.3" r="1.95"/>
<circle cx="86.8" cy="387.3" r="1.95"/>
<circle cx="89.2" cy="387.3" r="1.95"/>
<circle cx="91.8" cy="387.3" r="1.95"/>
<circle cx="94.2" cy="387.3" r="1.95"/>
<circle cx="96.8" cy="387.3" r="1.95"/>
<circle cx="98.7" cy="387.3" r="1.95"/>
<circle cx="68.0" cy="389.7" r="1.95"/>
<circle cx="70.5" cy="389.7" r="1.95"/>
<circle cx="73.0" cy="389.7" r="1.95"/>
<circle cx="75.5" cy="389.7" r="1.95"/>
<circle cx="78.0" cy="389.7" r="1.95"/>
<circle cx="80.5" cy="389.7" r="1.95"/>
<circle cx="83.0" cy="389.7" r="1.95"/>
<circle cx="85.5" cy="389.7" r="1.95"/>
<circle cx="88.0" cy="389.7" r="1.95"/>
<circle cx="90.5" cy="389.7" r="1.95"/>
<circle cx="93.0" cy="389.7" r="1.95"/>
<circle cx="95.5" cy="389.7" r="1.95"/>
<circle cx="98.0" cy="389.7" r="1.95"/>
<circle cx="67.8" cy="392.1" r="1.95"/>
<circle cx="69.2" cy="392.1" r="1.95"/>
<circle cx="71.8" cy="392.1" r="1.95"/>
<circle cx="74.2" cy="392.1" r="1.95"/>
<circle cx="76.8" cy="392.1" r="1.95"/>
<circle cx="79.2" cy="392.1" r="1.95"/>
<circle cx="81.8" cy="392.1" r="1.95"/>
<circle cx="84.2" cy="392.1" r="1.95"/>
<circle cx="86.8" cy="392.1" r="1.95"/>
<circle cx="89.2" cy="392.1" r="1.95"/>
<circle cx="91.8" cy="392.1" r="1.95"/>
<circle cx="94.2" cy="392.1" r="1.95"/>
<circle cx="96.8" cy="392.1" r="1.95"/>
<circle cx="98.7" cy="392.1" r="1.95"/>
<circle cx="68.0" cy="394.5" r="1.95"/>
<circle cx="70.5" cy="394.5" r="1.95"/>
<circle cx="73.0" cy="394.5" r="1.95"/>
<circle cx="75.5" cy="394.5" r="1.95"/>
<circle cx="78.0" cy="394.5" r="1.95"/>
<circle cx="80.5" cy="394.5" r="1.95"/>
<circle cx="83.0" cy="394.5" r="1.95"/>
<circle cx="85.5" cy="394.5" r="1.95"/>
<circle cx="88.0" cy="394.5" r="1.95"/>
<circle cx="90.5" cy="394.5" r="1.95"/>
<circle cx="93.0" cy="394.5" r="1.95"/>
<circle cx="95.5" cy="394.5" r="1.95"/>
<circle cx="98.0" cy="394.5" r="1.95"/>
<circle cx="62.0" cy="396.8" r="1.95"/>
<circle cx="64.2" cy="396.8" r="1.95"/>
<circle cx="66.8" cy="396.8" r="1.95"/>
<circle cx="69.2" cy="396.8" r="1.95"/>
<circle cx="71.8" cy="396.8" r="1.95"/>
<circle cx="74.2" cy="396.8" r="1.95"/>
<circle cx="76.8" cy="396.8" r="1.95"/>
<circle cx="79.2" cy="396.8" r="1.95"/>
<circle cx="81.8" cy="396.8" r="1.95"/>
<circle cx="84.2" cy="396.8" r="1.95"/>
<circle cx="86.8" cy="396.8" r="1.95"/>
<circle cx="89.2" cy="396.8" r="1.95"/>
<circle cx="91.8" cy="396.8" r="1.95"/>
<circle cx="94.2" cy="396.8" r="1.95"/>
<circle cx="96.8" cy="396.8" r="1.95"/>
<circle cx="99.2" cy="396.8" r="1.95"/>
<circle cx="101.8" cy="396.8" r="1.95"/>
<circle cx="103.8" cy="396.8" r="1.95"/>
<circle cx="62.0" cy="399.2" r="1.95"/>
<circle cx="65.5" cy="399.2" r="1.95"/>
<circle cx="68.0" cy="399.2" r="1.95"/>
<circle cx="70.5" cy="399.2" r="1.95"/>
<circle cx="73.0" cy="399.2" r="1.95"/>
<circle cx="75.5" cy="399.2" r="1.95"/>
<circle cx="78.0" cy="399.2" r="1.95"/>
<circle cx="80.5" cy="399.2" r="1.95"/>
<circle cx="83.0" cy="399.2" r="1.95"/>
<circle cx="85.5" cy="399.2" r="1.95"/>
<circle cx="88.0" cy="399.2" r="1.95"/>
<circle cx="90.5" cy="399.2" r="1.95"/>
<circle cx="93.0" cy="399.2" r="1.95"/>
<circle cx="95.5" cy="399.2" r="1.95"/>
<circle cx="98.0" cy="399.2" r="1.95"/>
<circle cx="100.5" cy="399.2" r="1.95"/>
<circle cx="103.0" cy="399.2" r="1.95"/>
<circle cx="74.2" cy="401.6" r="1.95"/>
<circle cx="76.8" cy="401.6" r="1.95"/>
<circle cx="79.2" cy="401.6" r="1.95"/>
<circle cx="81.8" cy="401.6" r="1.95"/>
<circle cx="84.2" cy="401.6" r="1.95"/>
<circle cx="86.8" cy="401.6" r="1.95"/>
<circle cx="89.2" cy="401.6" r="1.95"/>
<circle cx="91.8" cy="401.6" r="1.95"/>
<circle cx="74.0" cy="404.0" r="1.95"/>
<circle cx="75.5" cy="404.0" r="1.95"/>
<circle cx="78.0" cy="404.0" r="1.95"/>
<circle cx="80.5" cy="404.0" r="1.95"/>
<circle cx="83.0" cy="404.0" r="1.95"/>
<circle cx="85.5" cy="404.0" r="1.95"/>
<circle cx="88.0" cy="404.0" r="1.95"/>
<circle cx="90.5" cy="404.0" r="1.95"/>
<circle cx="92.3" cy="404.0" r="1.95"/>
<circle cx="74.2" cy="406.4" r="1.95"/>
<circle cx="76.8" cy="406.4" r="1.95"/>
<circle cx="79.2" cy="406.4" r="1.95"/>
<circle cx="81.8" cy="406.4" r="1.95"/>
<circle cx="84.2" cy="406.4" r="1.95"/>
<circle cx="86.8" cy="406.4" r="1.95"/>
<circle cx="89.2" cy="406.4" r="1.95"/>
<circle cx="91.8" cy="406.4" r="1.95"/>
<circle cx="74.0" cy="408.8" r="1.95"/>
<circle cx="75.5" cy="408.8" r="1.95"/>
<circle cx="78.0" cy="408.8" r="1.95"/>
<circle cx="80.5" cy="408.8" r="1.95"/>
<circle cx="83.0" cy="408.8" r="1.95"/>
<circle cx="85.5" cy="408.8" r="1.95"/>
<circle cx="88.0" cy="408.8" r="1.95"/>
<circle cx="90.5" cy="408.8" r="1.95"/>
<circle cx="92.3" cy="408.8" r="1.95"/>
<circle cx="74.2" cy="411.1" r="1.95"/>
<circle cx="76.8" cy="411.1" r="1.95"/>
<circle cx="79.2" cy="411.1" r="1.95"/>
<circle cx="81.8" cy="411.1" r="1.95"/>
<circle cx="84.2" cy="411.1" r="1.95"/>
<circle cx="86.8" cy="411.1" r="1.95"/>
<circle cx="89.2" cy="411.1" r="1.95"/>
<circle cx="91.8" cy="411.1" r="1.95"/>
<circle cx="74.0" cy="413.5" r="1.95"/>
<circle cx="75.5" cy="413.5" r="1.95"/>
<circle cx="78.0" cy="413.5" r="1.95"/>
<circle cx="80.5" cy="413.5" r="1.95"/>
<circle cx="83.0" cy="413.5" r="1.95"/>
<circle cx="85.5" cy="413.5" r="1.95"/>
<circle cx="88.0" cy="413.5" r="1.95"/>
<circle cx="90.5" cy="413.5" r="1.95"/>
<circle cx="92.3" cy="413.5" r="1.95"/>
<circle cx="74.2" cy="415.9" r="1.95"/>
<circle cx="76.8" cy="415.9" r="1.95"/>
<circle cx="79.2" cy="415.9" r="1.95"/>
<circle cx="81.8" cy="415.9" r="1.95"/>
<circle cx="84.2" cy="415.9" r="1.95"/>
<circle cx="86.8" cy="415.9" r="1.95"/>
<circle cx="89.2" cy="415.9" r="1.95"/>
<circle cx="91.8" cy="415.9" r="1.95"/>
<circle cx="74.0" cy="418.3" r="1.95"/>
<circle cx="75.5" cy="418.3" r="1.95"/>
<circle cx="78.0" cy="418.3" r="1.95"/>
<circle cx="80.5" cy="418.3" r="1.95"/>
<circle cx="83.0" cy="418.3" r="1.95"/>
<circle cx="85.5" cy="418.3" r="1.95"/>
<circle cx="88.0" cy="418.3" r="1.95"/>
<circle cx="90.5" cy="418.3" r="1.95"/>
<circle cx="92.3" cy="418.3" r="1.95"/>
<circle cx="74.2" cy="420.7" r="1.95"/>
<circle cx="76.8" cy="420.7" r="1.95"/>
<circle cx="79.2" cy="420.7" r="1.95"/>
<circle cx="81.8" cy="420.7" r="1.95"/>
<circle cx="84.2" cy="420.7" r="1.95"/>
<circle cx="86.8" cy="420.7" r="1.95"/>
<circle cx="89.2" cy="420.7" r="1.95"/>
<circle cx="91.8" cy="420.7" r="1.95"/>
<circle cx="83.0" cy="423.1" r="1.95"/>
<circle cx="84.8" cy="423.1" r="1.95"/>
<circle cx="82.2" cy="425.4" r="1.95"/>
<circle cx="84.2" cy="425.4" r="1.95"/>
<circle cx="83.0" cy="427.8" r="1.95"/>
<circle cx="84.8" cy="427.8" r="1.95"/>
<circle cx="76.8" cy="430.2" r="1.95"/>
<circle cx="79.2" cy="430.2" r="1.95"/>
<circle cx="81.8" cy="430.2" r="1.95"/>
<circle cx="84.2" cy="430.2" r="1.95"/>
<circle cx="86.8" cy="430.2" r="1.95"/>
<circle cx="89.2" cy="430.2" r="1.95"/>
<circle cx="78.2" cy="432.6" r="1.95"/>
<circle cx="80.5" cy="432.6" r="1.95"/>
<circle cx="83.0" cy="432.6" r="1.95"/>
<circle cx="85.5" cy="432.6" r="1.95"/>
<circle cx="87.2" cy="432.6" r="1.95"/>
<circle cx="78.2" cy="435.0" r="1.95"/>
<circle cx="81.8" cy="435.0" r="1.95"/>
<circle cx="84.2" cy="435.0" r="1.95"/>
<circle cx="86.8" cy="435.0" r="1.95"/>
<circle cx="83.0" cy="437.4" r="1.95"/>
<circle cx="83.0" cy="439.8" r="1.95"/>
<circle cx="57.8" cy="383.0" r="1.95"/>
<circle cx="60.3" cy="383.0" r="1.95"/>
<circle cx="62.9" cy="383.0" r="1.95"/>
<circle cx="65.4" cy="383.0" r="1.95"/>
<circle cx="68.0" cy="383.0" r="1.95"/>
<circle cx="70.5" cy="383.0" r="1.95"/>
<circle cx="73.0" cy="383.0" r="1.95"/>
<circle cx="75.6" cy="383.0" r="1.95"/>
<circle cx="78.2" cy="383.0" r="1.95"/>
<circle cx="80.7" cy="383.0" r="1.95"/>
<circle cx="83.2" cy="383.0" r="1.95"/>
<circle cx="85.8" cy="383.0" r="1.95"/>
<circle cx="88.3" cy="383.0" r="1.95"/>
<circle cx="90.9" cy="383.0" r="1.95"/>
<circle cx="93.5" cy="383.0" r="1.95"/>
<circle cx="96.0" cy="383.0" r="1.95"/>
<circle cx="98.5" cy="383.0" r="1.95"/>
<circle cx="101.1" cy="383.0" r="1.95"/>
<circle cx="103.7" cy="383.0" r="1.95"/>
<circle cx="106.2" cy="383.0" r="1.95"/>
<circle cx="108.8" cy="383.0" r="1.95"/>
<circle cx="83.0" cy="327.6" r="1.95"/>
<circle cx="83.0" cy="450.6" r="1.95"/>
<circle cx="82.8" cy="467.9" r="1.95"/>
<circle cx="82.8" cy="472.5" r="1.95"/>
</g>
<g stroke-width="1.6" fill="#8ccc86" stroke="#38a334">
<circle cx="127.2" cy="334.2" r="1.95"/>
<circle cx="130.5" cy="334.2" r="1.95"/>
<circle cx="113.2" cy="336.7" r="1.95"/>
<circle cx="116.8" cy="336.7" r="1.95"/>
<circle cx="119.2" cy="336.7" r="1.95"/>
<circle cx="121.8" cy="336.7" r="1.95"/>
<circle cx="124.2" cy="336.7" r="1.95"/>
<circle cx="126.8" cy="336.7" r="1.95"/>
<circle cx="129.2" cy="336.7" r="1.95"/>
<circle cx="131.8" cy="336.7" r="1.95"/>
<circle cx="134.2" cy="336.7" r="1.95"/>
<circle cx="136.8" cy="336.7" r="1.95"/>
<circle cx="139.2" cy="336.7" r="1.95"/>
<circle cx="141.8" cy="336.7" r="1.95"/>
<circle cx="144.2" cy="336.7" r="1.95"/>
<circle cx="113.2" cy="339.1" r="1.95"/>
<circle cx="115.5" cy="339.1" r="1.95"/>
<circle cx="118.0" cy="339.1" r="1.95"/>
<circle cx="120.5" cy="339.1" r="1.95"/>
<circle cx="123.0" cy="339.1" r="1.95"/>
<circle cx="125.5" cy="339.1" r="1.95"/>
<circle cx="128.0" cy="339.1" r="1.95"/>
<circle cx="130.5" cy="339.1" r="1.95"/>
<circle cx="133.0" cy="339.1" r="1.95"/>
<circle cx="135.5" cy="339.1" r="1.95"/>
<circle cx="138.0" cy="339.1" r="1.95"/>
<circle cx="140.5" cy="339.1" r="1.95"/>
<circle cx="144.2" cy="339.1" r="1.95"/>
<circle cx="113.2" cy="341.5" r="1.95"/>
<circle cx="116.8" cy="341.5" r="1.95"/>
<circle cx="119.2" cy="341.5" r="1.95"/>
<circle cx="121.8" cy="341.5" r="1.95"/>
<circle cx="124.2" cy="341.5" r="1.95"/>
<circle cx="126.8" cy="341.5" r="1.95"/>
<circle cx="129.2" cy="341.5" r="1.95"/>
<circle cx="131.8" cy="341.5" r="1.95"/>
<circle cx="134.2" cy="341.5" r="1.95"/>
<circle cx="136.8" cy="341.5" r="1.95"/>
<circle cx="139.2" cy="341.5" r="1.95"/>
<circle cx="141.8" cy="341.5" r="1.95"/>
<circle cx="144.2" cy="341.5" r="1.95"/>
<circle cx="113.2" cy="343.9" r="1.95"/>
<circle cx="115.5" cy="343.9" r="1.95"/>
<circle cx="118.0" cy="343.9" r="1.95"/>
<circle cx="120.5" cy="343.9" r="1.95"/>
<circle cx="123.0" cy="343.9" r="1.95"/>
<circle cx="125.5" cy="343.9" r="1.95"/>
<circle cx="128.0" cy="343.9" r="1.95"/>
<circle cx="130.5" cy="343.9" r="1.95"/>
<circle cx="133.0" cy="343.9" r="1.95"/>
<circle cx="135.5" cy="343.9" r="1.95"/>
<circle cx="138.0" cy="343.9" r="1.95"/>
<circle cx="140.5" cy="343.9" r="1.95"/>
<circle cx="144.2" cy="343.9" r="1.95"/>
<circle cx="103.0" cy="346.3" r="1.95"/>
<circle cx="106.8" cy="346.3" r="1.95"/>
<circle cx="109.2" cy="346.3" r="1.95"/>
<circle cx="111.8" cy="346.3" r="1.95"/>
<circle cx="114.2" cy="346.3" r="1.95"/>
<circle cx="116.8" cy="346.3" r="1.95"/>
<circle cx="119.2" cy="346.3" r="1.95"/>
<circle cx="121.8" cy="346.3" r="1.95"/>
<circle cx="124.2" cy="346.3" r="1.95"/>
<circle cx="126.8" cy="346.3" r="1.95"/>
<circle cx="129.2" cy="346.3" r="1.95"/>
<circle cx="131.8" cy="346.3" r="1.95"/>
<circle cx="134.2" cy="346.3" r="1.95"/>
<circle cx="136.8" cy="346.3" r="1.95"/>
<circle cx="139.2" cy="346.3" r="1.95"/>
<circle cx="141.8" cy="346.3" r="1.95"/>
<circle cx="144.2" cy="346.3" r="1.95"/>
<circle cx="146.8" cy="346.3" r="1.95"/>
<circle cx="149.2" cy="346.3" r="1.95"/>
<circle cx="151.8" cy="346.3" r="1.95"/>
<circle cx="153.2" cy="346.3" r="1.95"/>
<circle cx="95.8" cy="348.8" r="1.95"/>
<circle cx="98.0" cy="348.8" r="1.95"/>
<circle cx="100.5" cy="348.8" r="1.95"/>
<circle cx="103.0" cy="348.8" r="1.95"/>
<circle cx="105.5" cy="348.8" r="1.95"/>
<circle cx="108.0" cy="348.8" r="1.95"/>
<circle cx="110.5" cy="348.8" r="1.95"/>
<circle cx="113.0" cy="348.8" r="1.95"/>
<circle cx="115.5" cy="348.8" r="1.95"/>
<circle cx="118.0" cy="348.8" r="1.95"/>
<circle cx="120.5" cy="348.8" r="1.95"/>
<circle cx="123.0" cy="348.8" r="1.95"/>
<circle cx="125.5" cy="348.8" r="1.95"/>
<circle cx="128.0" cy="348.8" r="1.95"/>
<circle cx="130.5" cy="348.8" r="1.95"/>
<circle cx="133.0" cy="348.8" r="1.95"/>
<circle cx="135.5" cy="348.8" r="1.95"/>
<circle cx="138.0" cy="348.8" r="1.95"/>
<circle cx="140.5" cy="348.8" r="1.95"/>
<circle cx="143.0" cy="348.8" r="1.95"/>
<circle cx="145.5" cy="348.8" r="1.95"/>
<circle cx="148.0" cy="348.8" r="1.95"/>
<circle cx="150.5" cy="348.8" r="1.95"/>
<circle cx="153.0" cy="348.8" r="1.95"/>
<circle cx="155.5" cy="348.8" r="1.95"/>
<circle cx="158.0" cy="348.8" r="1.95"/>
<circle cx="159.7" cy="348.8" r="1.95"/>
<circle cx="95.8" cy="351.2" r="1.95"/>
<circle cx="99.2" cy="351.2" r="1.95"/>
<circle cx="101.8" cy="351.2" r="1.95"/>
<circle cx="104.2" cy="351.2" r="1.95"/>
<circle cx="106.8" cy="351.2" r="1.95"/>
<circle cx="109.2" cy="351.2" r="1.95"/>
<circle cx="111.8" cy="351.2" r="1.95"/>
<circle cx="114.2" cy="351.2" r="1.95"/>
<circle cx="116.8" cy="351.2" r="1.95"/>
<circle cx="119.2" cy="351.2" r="1.95"/>
<circle cx="121.8" cy="351.2" r="1.95"/>
<circle cx="124.2" cy="351.2" r="1.95"/>
<circle cx="126.8" cy="351.2" r="1.95"/>
<circle cx="129.2" cy="351.2" r="1.95"/>
<circle cx="131.8" cy="351.2" r="1.95"/>
<circle cx="134.2" cy="351.2" r="1.95"/>
<circle cx="136.8" cy="351.2" r="1.95"/>
<circle cx="139.2" cy="351.2" r="1.95"/>
<circle cx="141.8" cy="351.2" r="1.95"/>
<circle cx="144.2" cy="351.2" r="1.95"/>
<circle cx="146.8" cy="351.2" r="1.95"/>
<circle cx="149.2" cy="351.2" r="1.95"/>
<circle cx="151.8" cy="351.2" r="1.95"/>
<circle cx="154.2" cy="351.2" r="1.95"/>
<circle cx="156.8" cy="351.2" r="1.95"/>
<circle cx="159.2" cy="351.2" r="1.95"/>
<circle cx="95.8" cy="353.6" r="1.95"/>
<circle cx="98.0" cy="353.6" r="1.95"/>
<circle cx="100.5" cy="353.6" r="1.95"/>
<circle cx="103.0" cy="353.6" r="1.95"/>
<circle cx="105.5" cy="353.6" r="1.95"/>
<circle cx="108.0" cy="353.6" r="1.95"/>
<circle cx="110.5" cy="353.6" r="1.95"/>
<circle cx="113.0" cy="353.6" r="1.95"/>
<circle cx="115.5" cy="353.6" r="1.95"/>
<circle cx="118.0" cy="353.6" r="1.95"/>
<circle cx="120.5" cy="353.6" r="1.95"/>
<circle cx="123.0" cy="353.6" r="1.95"/>
<circle cx="125.5" cy="353.6" r="1.95"/>
<circle cx="128.0" cy="353.6" r="1.95"/>
<circle cx="130.5" cy="353.6" r="1.95"/>
<circle cx="133.0" cy="353.6" r="1.95"/>
<circle cx="135.5" cy="353.6" r="1.95"/>
<circle cx="138.0" cy="353.6" r="1.95"/>
<circle cx="140.5" cy="353.6" r="1.95"/>
<circle cx="143.0" cy="353.6" r="1.95"/>
<circle cx="145.5" cy="353.6" r="1.95"/>
<circle cx="148.0" cy="353.6" r="1.95"/>
<circle cx="150.5" cy="353.6" r="1.95"/>
<circle cx="153.0" cy="353.6" r="1.95"/>
<circle cx="155.5" cy="353.6" r="1.95"/>
<circle cx="158.0" cy="353.6" r="1.95"/>
<circle cx="159.7" cy="353.6" r="1.95"/>
<circle cx="106.8" cy="356.0" r="1.95"/>
<circle cx="109.2" cy="356.0" r="1.95"/>
<circle cx="111.8" cy="356.0" r="1.95"/>
<circle cx="114.2" cy="356.0" r="1.95"/>
<circle cx="116.8" cy="356.0" r="1.95"/>
<circle cx="119.2" cy="356.0" r="1.95"/>
<circle cx="121.8" cy="356.0" r="1.95"/>
<circle cx="124.2" cy="356.0" r="1.95"/>
<circle cx="126.8" cy="356.0" r="1.95"/>
<circle cx="129.2" cy="356.0" r="1.95"/>
<circle cx="131.8" cy="356.0" r="1.95"/>
<circle cx="134.2" cy="356.0" r="1.95"/>
<circle cx="136.8" cy="356.0" r="1.95"/>
<circle cx="139.2" cy="356.0" r="1.95"/>
<circle cx="141.8" cy="356.0" r="1.95"/>
<circle cx="144.2" cy="356.0" r="1.95"/>
<circle cx="146.8" cy="356.0" r="1.95"/>
<circle cx="148.7" cy="356.0" r="1.95"/>
<circle cx="106.7" cy="358.4" r="1.95"/>
<circle cx="110.5" cy="358.4" r="1.95"/>
<circle cx="113.0" cy="358.4" r="1.95"/>
<circle cx="115.5" cy="358.4" r="1.95"/>
<circle cx="118.0" cy="358.4" r="1.95"/>
<circle cx="120.5" cy="358.4" r="1.95"/>
<circle cx="123.0" cy="358.4" r="1.95"/>
<circle cx="125.5" cy="358.4" r="1.95"/>
<circle cx="128.0" cy="358.4" r="1.95"/>
<circle cx="130.5" cy="358.4" r="1.95"/>
<circle cx="133.0" cy="358.4" r="1.95"/>
<circle cx="135.5" cy="358.4" r="1.95"/>
<circle cx="138.0" cy="358.4" r="1.95"/>
<circle cx="140.5" cy="358.4" r="1.95"/>
<circle cx="143.0" cy="358.4" r="1.95"/>
<circle cx="145.5" cy="358.4" r="1.95"/>
<circle cx="148.0" cy="358.4" r="1.95"/>
<circle cx="106.8" cy="360.8" r="1.95"/>
<circle cx="109.2" cy="360.8" r="1.95"/>
<circle cx="111.8" cy="360.8" r="1.95"/>
<circle cx="114.2" cy="360.8" r="1.95"/>
<circle cx="116.8" cy="360.8" r="1.95"/>
<circle cx="119.2" cy="360.8" r="1.95"/>
<circle cx="121.8" cy="360.8" r="1.95"/>
<circle cx="124.2" cy="360.8" r="1.95"/>
<circle cx="126.8" cy="360.8" r="1.95"/>
<circle cx="129.2" cy="360.8" r="1.95"/>
<circle cx="131.8" cy="360.8" r="1.95"/>
<circle cx="134.2" cy="360.8" r="1.95"/>
<circle cx="136.8" cy="360.8" r="1.95"/>
<circle cx="139.2" cy="360.8" r="1.95"/>
<circle cx="141.8" cy="360.8" r="1.95"/>
<circle cx="144.2" cy="360.8" r="1.95"/>
<circle cx="146.8" cy="360.8" r="1.95"/>
<circle cx="148.7" cy="360.8" r="1.95"/>
<circle cx="106.7" cy="363.2" r="1.95"/>
<circle cx="110.5" cy="363.2" r="1.95"/>
<circle cx="113.0" cy="363.2" r="1.95"/>
<circle cx="115.5" cy="363.2" r="1.95"/>
<circle cx="118.0" cy="363.2" r="1.95"/>
<circle cx="120.5" cy="363.2" r="1.95"/>
<circle cx="123.0" cy="363.2" r="1.95"/>
<circle cx="125.5" cy="363.2" r="1.95"/>
<circle cx="128.0" cy="363.2" r="1.95"/>
<circle cx="130.5" cy="363.2" r="1.95"/>
<circle cx="133.0" cy="363.2" r="1.95"/>
<circle cx="135.5" cy="363.2" r="1.95"/>
<circle cx="138.0" cy="363.2" r="1.95"/>
<circle cx="140.5" cy="363.2" r="1.95"/>
<circle cx="143.0" cy="363.2" r="1.95"/>
<circle cx="145.5" cy="363.2" r="1.95"/>
<circle cx="148.0" cy="363.2" r="1.95"/>
<circle cx="116.8" cy="365.7" r="1.95"/>
<circle cx="119.2" cy="365.7" r="1.95"/>
<circle cx="121.8" cy="365.7" r="1.95"/>
<circle cx="124.2" cy="365.7" r="1.95"/>
<circle cx="126.8" cy="365.7" r="1.95"/>
<circle cx="129.2" cy="365.7" r="1.95"/>
<circle cx="131.8" cy="365.7" r="1.95"/>
<circle cx="134.2" cy="365.7" r="1.95"/>
<circle cx="136.8" cy="365.7" r="1.95"/>
<circle cx="138.8" cy="365.7" r="1.95"/>
<circle cx="116.7" cy="368.1" r="1.95"/>
<circle cx="120.5" cy="368.1" r="1.95"/>
<circle cx="123.0" cy="368.1" r="1.95"/>
<circle cx="125.5" cy="368.1" r="1.95"/>
<circle cx="128.0" cy="368.1" r="1.95"/>
<circle cx="130.5" cy="368.1" r="1.95"/>
<circle cx="133.0" cy="368.1" r="1.95"/>
<circle cx="135.5" cy="368.1" r="1.95"/>
<circle cx="138.0" cy="368.1" r="1.95"/>
<circle cx="116.8" cy="370.5" r="1.95"/>
<circle cx="119.2" cy="370.5" r="1.95"/>
<circle cx="121.8" cy="370.5" r="1.95"/>
<circle cx="124.2" cy="370.5" r="1.95"/>
<circle cx="126.8" cy="370.5" r="1.95"/>
<circle cx="129.2" cy="370.5" r="1.95"/>
<circle cx="131.8" cy="370.5" r="1.95"/>
<circle cx="134.2" cy="370.5" r="1.95"/>
<circle cx="136.8" cy="370.5" r="1.95"/>
<circle cx="138.8" cy="370.5" r="1.95"/>
<circle cx="116.7" cy="372.9" r="1.95"/>
<circle cx="120.5" cy="372.9" r="1.95"/>
<circle cx="123.0" cy="372.9" r="1.95"/>
<circle cx="125.5" cy="372.9" r="1.95"/>
<circle cx="128.0" cy="372.9" r="1.95"/>
<circle cx="130.5" cy="372.9" r="1.95"/>
<circle cx="133.0" cy="372.9" r="1.95"/>
<circle cx="135.5" cy="372.9" r="1.95"/>
<circle cx="138.0" cy="372.9" r="1.95"/>
<circle cx="114.2" cy="375.3" r="1.95"/>
<circle cx="116.8" cy="375.3" r="1.95"/>
<circle cx="119.2" cy="375.3" r="1.95"/>
<circle cx="121.8" cy="375.3" r="1.95"/>
<circle cx="124.2" cy="375.3" r="1.95"/>
<circle cx="126.8" cy="375.3" r="1.95"/>
<circle cx="129.2" cy="375.3" r="1.95"/>
<circle cx="131.8" cy="375.3" r="1.95"/>
<circle cx="134.2" cy="375.3" r="1.95"/>
<circle cx="136.8" cy="375.3" r="1.95"/>
<circle cx="139.2" cy="375.3" r="1.95"/>
<circle cx="141.8" cy="375.3" r="1.95"/>
<circle cx="144.1" cy="375.3" r="1.95"/>
<circle cx="119.2" cy="377.8" r="1.95"/>
<circle cx="123.0" cy="377.8" r="1.95"/>
<circle cx="125.5" cy="377.8" r="1.95"/>
<circle cx="128.0" cy="377.8" r="1.95"/>
<circle cx="130.5" cy="377.8" r="1.95"/>
<circle cx="133.0" cy="377.8" r="1.95"/>
<circle cx="135.5" cy="377.8" r="1.95"/>
<circle cx="138.0" cy="377.8" r="1.95"/>
<circle cx="119.2" cy="380.2" r="1.95"/>
<circle cx="121.8" cy="380.2" r="1.95"/>
<circle cx="124.2" cy="380.2" r="1.95"/>
<circle cx="126.8" cy="380.2" r="1.95"/>
<circle cx="129.2" cy="380.2" r="1.95"/>
<circle cx="131.8" cy="380.2" r="1.95"/>
<circle cx="134.2" cy="380.2" r="1.95"/>
<circle cx="136.8" cy="380.2" r="1.95"/>
<circle cx="138.8" cy="380.2" r="1.95"/>
<circle cx="123.3" cy="382.6" r="1.95"/>
<circle cx="125.5" cy="382.6" r="1.95"/>
<circle cx="128.0" cy="382.6" r="1.95"/>
<circle cx="130.5" cy="382.6" r="1.95"/>
<circle cx="133.0" cy="382.6" r="1.95"/>
<circle cx="123.3" cy="385.0" r="1.95"/>
<circle cx="126.8" cy="385.0" r="1.95"/>
<circle cx="129.2" cy="385.0" r="1.95"/>
<circle cx="131.8" cy="385.0" r="1.95"/>
<circle cx="133.2" cy="385.0" r="1.95"/>
<circle cx="128.0" cy="387.4" r="1.95"/>
<circle cx="130.5" cy="387.4" r="1.95"/>
<circle cx="127.3" cy="389.8" r="1.95"/>
<circle cx="129.2" cy="389.8" r="1.95"/>
<circle cx="130.7" cy="389.8" r="1.95"/>
<circle cx="128.0" cy="392.2" r="1.95"/>
<circle cx="130.5" cy="392.2" r="1.95"/>
<circle cx="128.0" cy="327.6" r="1.95"/>
<circle cx="127.3" cy="403.0" r="1.95"/>
<circle cx="127.3" cy="407.8" r="1.95"/>
</g>
<g stroke-width="1.6" fill="#fbd050" stroke="#f5b900">
<circle cx="210.1" cy="336.4" r="1.95"/>
<circle cx="212.6" cy="336.4" r="1.95"/>
<circle cx="215.1" cy="336.4" r="1.95"/>
<circle cx="217.6" cy="336.4" r="1.95"/>
<circle cx="220.1" cy="336.4" r="1.95"/>
<circle cx="222.6" cy="336.4" r="1.95"/>
<circle cx="225.1" cy="336.4" r="1.95"/>
<circle cx="226.7" cy="336.4" r="1.95"/>
<circle cx="209.9" cy="338.7" r="1.95"/>
<circle cx="211.3" cy="338.7" r="1.95"/>
<circle cx="213.8" cy="338.7" r="1.95"/>
<circle cx="216.3" cy="338.7" r="1.95"/>
<circle cx="218.8" cy="338.7" r="1.95"/>
<circle cx="221.3" cy="338.7" r="1.95"/>
<circle cx="223.8" cy="338.7" r="1.95"/>
<circle cx="226.3" cy="338.7" r="1.95"/>
<circle cx="210.1" cy="341.1" r="1.95"/>
<circle cx="212.6" cy="341.1" r="1.95"/>
<circle cx="215.1" cy="341.1" r="1.95"/>
<circle cx="217.6" cy="341.1" r="1.95"/>
<circle cx="220.1" cy="341.1" r="1.95"/>
<circle cx="222.6" cy="341.1" r="1.95"/>
<circle cx="225.1" cy="341.1" r="1.95"/>
<circle cx="226.7" cy="341.1" r="1.95"/>
<circle cx="207.9" cy="343.5" r="1.95"/>
<circle cx="211.3" cy="343.5" r="1.95"/>
<circle cx="213.8" cy="343.5" r="1.95"/>
<circle cx="216.3" cy="343.5" r="1.95"/>
<circle cx="218.8" cy="343.5" r="1.95"/>
<circle cx="221.3" cy="343.5" r="1.95"/>
<circle cx="223.8" cy="343.5" r="1.95"/>
<circle cx="226.3" cy="343.5" r="1.95"/>
<circle cx="228.2" cy="343.5" r="1.95"/>
<circle cx="207.6" cy="345.9" r="1.95"/>
<circle cx="210.1" cy="345.9" r="1.95"/>
<circle cx="212.6" cy="345.9" r="1.95"/>
<circle cx="215.1" cy="345.9" r="1.95"/>
<circle cx="217.6" cy="345.9" r="1.95"/>
<circle cx="220.1" cy="345.9" r="1.95"/>
<circle cx="222.6" cy="345.9" r="1.95"/>
<circle cx="225.1" cy="345.9" r="1.95"/>
<circle cx="228.8" cy="345.9" r="1.95"/>
<circle cx="207.2" cy="348.2" r="1.95"/>
<circle cx="208.8" cy="348.2" r="1.95"/>
<circle cx="211.3" cy="348.2" r="1.95"/>
<circle cx="213.8" cy="348.2" r="1.95"/>
<circle cx="216.3" cy="348.2" r="1.95"/>
<circle cx="218.8" cy="348.2" r="1.95"/>
<circle cx="221.3" cy="348.2" r="1.95"/>
<circle cx="223.8" cy="348.2" r="1.95"/>
<circle cx="226.3" cy="348.2" r="1.95"/>
<circle cx="228.8" cy="348.2" r="1.95"/>
<circle cx="205.6" cy="350.6" r="1.95"/>
<circle cx="207.6" cy="350.6" r="1.95"/>
<circle cx="210.1" cy="350.6" r="1.95"/>
<circle cx="212.6" cy="350.6" r="1.95"/>
<circle cx="215.1" cy="350.6" r="1.95"/>
<circle cx="217.6" cy="350.6" r="1.95"/>
<circle cx="220.1" cy="350.6" r="1.95"/>
<circle cx="222.6" cy="350.6" r="1.95"/>
<circle cx="225.1" cy="350.6" r="1.95"/>
<circle cx="227.6" cy="350.6" r="1.95"/>
<circle cx="230.1" cy="350.6" r="1.95"/>
<circle cx="202.6" cy="353.0" r="1.95"/>
<circle cx="206.3" cy="353.0" r="1.95"/>
<circle cx="208.8" cy="353.0" r="1.95"/>
<circle cx="211.3" cy="353.0" r="1.95"/>
<circle cx="213.8" cy="353.0" r="1.95"/>
<circle cx="216.3" cy="353.0" r="1.95"/>
<circle cx="218.8" cy="353.0" r="1.95"/>
<circle cx="221.3" cy="353.0" r="1.95"/>
<circle cx="223.8" cy="353.0" r="1.95"/>
<circle cx="226.3" cy="353.0" r="1.95"/>
<circle cx="228.8" cy="353.0" r="1.95"/>
<circle cx="231.3" cy="353.0" r="1.95"/>
<circle cx="233.4" cy="353.0" r="1.95"/>
<circle cx="193.8" cy="355.4" r="1.95"/>
<circle cx="197.6" cy="355.4" r="1.95"/>
<circle cx="200.1" cy="355.4" r="1.95"/>
<circle cx="202.6" cy="355.4" r="1.95"/>
<circle cx="205.1" cy="355.4" r="1.95"/>
<circle cx="207.6" cy="355.4" r="1.95"/>
<circle cx="210.1" cy="355.4" r="1.95"/>
<circle cx="212.6" cy="355.4" r="1.95"/>
<circle cx="215.1" cy="355.4" r="1.95"/>
<circle cx="217.6" cy="355.4" r="1.95"/>
<circle cx="220.1" cy="355.4" r="1.95"/>
<circle cx="222.6" cy="355.4" r="1.95"/>
<circle cx="225.1" cy="355.4" r="1.95"/>
<circle cx="227.6" cy="355.4" r="1.95"/>
<circle cx="230.1" cy="355.4" r="1.95"/>
<circle cx="232.6" cy="355.4" r="1.95"/>
<circle cx="235.1" cy="355.4" r="1.95"/>
<circle cx="237.6" cy="355.4" r="1.95"/>
<circle cx="240.1" cy="355.4" r="1.95"/>
<circle cx="197.2" cy="357.7" r="1.95"/>
<circle cx="198.8" cy="357.7" r="1.95"/>
<circle cx="201.3" cy="357.7" r="1.95"/>
<circle cx="203.8" cy="357.7" r="1.95"/>
<circle cx="206.3" cy="357.7" r="1.95"/>
<circle cx="208.8" cy="357.7" r="1.95"/>
<circle cx="211.3" cy="357.7" r="1.95"/>
<circle cx="213.8" cy="357.7" r="1.95"/>
<circle cx="216.3" cy="357.7" r="1.95"/>
<circle cx="218.8" cy="357.7" r="1.95"/>
<circle cx="221.3" cy="357.7" r="1.95"/>
<circle cx="223.8" cy="357.7" r="1.95"/>
<circle cx="226.3" cy="357.7" r="1.95"/>
<circle cx="228.8" cy="357.7" r="1.95"/>
<circle cx="231.3" cy="357.7" r="1.95"/>
<circle cx="233.8" cy="357.7" r="1.95"/>
<circle cx="236.3" cy="357.7" r="1.95"/>
<circle cx="197.6" cy="360.1" r="1.95"/>
<circle cx="200.1" cy="360.1" r="1.95"/>
<circle cx="202.6" cy="360.1" r="1.95"/>
<circle cx="205.1" cy="360.1" r="1.95"/>
<circle cx="207.6" cy="360.1" r="1.95"/>
<circle cx="210.1" cy="360.1" r="1.95"/>
<circle cx="212.6" cy="360.1" r="1.95"/>
<circle cx="215.1" cy="360.1" r="1.95"/>
<circle cx="217.6" cy="360.1" r="1.95"/>
<circle cx="220.1" cy="360.1" r="1.95"/>
<circle cx="222.6" cy="360.1" r="1.95"/>
<circle cx="225.1" cy="360.1" r="1.95"/>
<circle cx="227.6" cy="360.1" r="1.95"/>
<circle cx="230.1" cy="360.1" r="1.95"/>
<circle cx="232.6" cy="360.1" r="1.95"/>
<circle cx="235.1" cy="360.1" r="1.95"/>
<circle cx="236.8" cy="360.1" r="1.95"/>
<circle cx="197.2" cy="362.5" r="1.95"/>
<circle cx="198.8" cy="362.5" r="1.95"/>
<circle cx="201.3" cy="362.5" r="1.95"/>
<circle cx="203.8" cy="362.5" r="1.95"/>
<circle cx="206.3" cy="362.5" r="1.95"/>
<circle cx="208.8" cy="362.5" r="1.95"/>
<circle cx="211.3" cy="362.5" r="1.95"/>
<circle cx="213.8" cy="362.5" r="1.95"/>
<circle cx="216.3" cy="362.5" r="1.95"/>
<circle cx="218.8" cy="362.5" r="1.95"/>
<circle cx="221.3" cy="362.5" r="1.95"/>
<circle cx="223.8" cy="362.5" r="1.95"/>
<circle cx="226.3" cy="362.5" r="1.95"/>
<circle cx="228.8" cy="362.5" r="1.95"/>
<circle cx="231.3" cy="362.5" r="1.95"/>
<circle cx="233.8" cy="362.5" r="1.95"/>
<circle cx="236.3" cy="362.5" r="1.95"/>
<circle cx="197.6" cy="364.9" r="1.95"/>
<circle cx="200.1" cy="364.9" r="1.95"/>
<circle cx="202.6" cy="364.9" r="1.95"/>
<circle cx="205.1" cy="364.9" r="1.95"/>
<circle cx="207.6" cy="364.9" r="1.95"/>
<circle cx="210.1" cy="364.9" r="1.95"/>
<circle cx="212.6" cy="364.9" r="1.95"/>
<circle cx="215.1" cy="364.9" r="1.95"/>
<circle cx="217.6" cy="364.9" r="1.95"/>
<circle cx="220.1" cy="364.9" r="1.95"/>
<circle cx="222.6" cy="364.9" r="1.95"/>
<circle cx="225.1" cy="364.9" r="1.95"/>
<circle cx="227.6" cy="364.9" r="1.95"/>
<circle cx="230.1" cy="364.9" r="1.95"/>
<circle cx="232.6" cy="364.9" r="1.95"/>
<circle cx="235.1" cy="364.9" r="1.95"/>
<circle cx="236.8" cy="364.9" r="1.95"/>
<circle cx="201.3" cy="367.2" r="1.95"/>
<circle cx="203.8" cy="367.2" r="1.95"/>
<circle cx="206.3" cy="367.2" r="1.95"/>
<circle cx="208.8" cy="367.2" r="1.95"/>
<circle cx="211.3" cy="367.2" r="1.95"/>
<circle cx="213.8" cy="367.2" r="1.95"/>
<circle cx="216.3" cy="367.2" r="1.95"/>
<circle cx="218.8" cy="367.2" r="1.95"/>
<circle cx="221.3" cy="367.2" r="1.95"/>
<circle cx="223.8" cy="367.2" r="1.95"/>
<circle cx="226.3" cy="367.2" r="1.95"/>
<circle cx="228.8" cy="367.2" r="1.95"/>
<circle cx="231.3" cy="367.2" r="1.95"/>
<circle cx="233.8" cy="367.2" r="1.95"/>
<circle cx="202.6" cy="369.6" r="1.95"/>
<circle cx="205.1" cy="369.6" r="1.95"/>
<circle cx="207.6" cy="369.6" r="1.95"/>
<circle cx="210.1" cy="369.6" r="1.95"/>
<circle cx="212.6" cy="369.6" r="1.95"/>
<circle cx="215.1" cy="369.6" r="1.95"/>
<circle cx="217.6" cy="369.6" r="1.95"/>
<circle cx="220.1" cy="369.6" r="1.95"/>
<circle cx="222.6" cy="369.6" r="1.95"/>
<circle cx="225.1" cy="369.6" r="1.95"/>
<circle cx="227.6" cy="369.6" r="1.95"/>
<circle cx="230.1" cy="369.6" r="1.95"/>
<circle cx="233.4" cy="369.6" r="1.95"/>
<circle cx="202.6" cy="372.0" r="1.95"/>
<circle cx="206.3" cy="372.0" r="1.95"/>
<circle cx="208.8" cy="372.0" r="1.95"/>
<circle cx="211.3" cy="372.0" r="1.95"/>
<circle cx="213.8" cy="372.0" r="1.95"/>
<circle cx="216.3" cy="372.0" r="1.95"/>
<circle cx="218.8" cy="372.0" r="1.95"/>
<circle cx="221.3" cy="372.0" r="1.95"/>
<circle cx="223.8" cy="372.0" r="1.95"/>
<circle cx="226.3" cy="372.0" r="1.95"/>
<circle cx="228.8" cy="372.0" r="1.95"/>
<circle cx="231.3" cy="372.0" r="1.95"/>
<circle cx="233.4" cy="372.0" r="1.95"/>
<circle cx="202.6" cy="374.4" r="1.95"/>
<circle cx="205.1" cy="374.4" r="1.95"/>
<circle cx="207.6" cy="374.4" r="1.95"/>
<circle cx="210.1" cy="374.4" r="1.95"/>
<circle cx="212.6" cy="374.4" r="1.95"/>
<circle cx="215.1" cy="374.4" r="1.95"/>
<circle cx="217.6" cy="374.4" r="1.95"/>
<circle cx="220.1" cy="374.4" r="1.95"/>
<circle cx="222.6" cy="374.4" r="1.95"/>
<circle cx="225.1" cy="374.4" r="1.95"/>
<circle cx="227.6" cy="374.4" r="1.95"/>
<circle cx="230.1" cy="374.4" r="1.95"/>
<circle cx="233.4" cy="374.4" r="1.95"/>
<circle cx="202.6" cy="376.7" r="1.95"/>
<circle cx="206.3" cy="376.7" r="1.95"/>
<circle cx="208.8" cy="376.7" r="1.95"/>
<circle cx="211.3" cy="376.7" r="1.95"/>
<circle cx="213.8" cy="376.7" r="1.95"/>
<circle cx="216.3" cy="376.7" r="1.95"/>
<circle cx="218.8" cy="376.7" r="1.95"/>
<circle cx="221.3" cy="376.7" r="1.95"/>
<circle cx="223.8" cy="376.7" r="1.95"/>
<circle cx="226.3" cy="376.7" r="1.95"/>
<circle cx="228.8" cy="376.7" r="1.95"/>
<circle cx="231.3" cy="376.7" r="1.95"/>
<circle cx="233.4" cy="376.7" r="1.95"/>
<circle cx="205.2" cy="379.1" r="1.95"/>
<circle cx="207.6" cy="379.1" r="1.95"/>
<circle cx="210.1" cy="379.1" r="1.95"/>
<circle cx="212.6" cy="379.1" r="1.95"/>
<circle cx="215.1" cy="379.1" r="1.95"/>
<circle cx="217.6" cy="379.1" r="1.95"/>
<circle cx="220.1" cy="379.1" r="1.95"/>
<circle cx="222.6" cy="379.1" r="1.95"/>
<circle cx="225.1" cy="379.1" r="1.95"/>
<circle cx="227.6" cy="379.1" r="1.95"/>
<circle cx="230.1" cy="379.1" r="1.95"/>
<circle cx="205.2" cy="381.5" r="1.95"/>
<circle cx="208.8" cy="381.5" r="1.95"/>
<circle cx="211.3" cy="381.5" r="1.95"/>
<circle cx="213.8" cy="381.5" r="1.95"/>
<circle cx="216.3" cy="381.5" r="1.95"/>
<circle cx="218.8" cy="381.5" r="1.95"/>
<circle cx="221.3" cy="381.5" r="1.95"/>
<circle cx="223.8" cy="381.5" r="1.95"/>
<circle cx="226.3" cy="381.5" r="1.95"/>
<circle cx="228.8" cy="381.5" r="1.95"/>
<circle cx="230.8" cy="381.5" r="1.95"/>
<circle cx="205.2" cy="383.9" r="1.95"/>
<circle cx="207.6" cy="383.9" r="1.95"/>
<circle cx="210.1" cy="383.9" r="1.95"/>
<circle cx="212.6" cy="383.9" r="1.95"/>
<circle cx="215.1" cy="383.9" r="1.95"/>
<circle cx="217.6" cy="383.9" r="1.95"/>
<circle cx="220.1" cy="383.9" r="1.95"/>
<circle cx="222.6" cy="383.9" r="1.95"/>
<circle cx="225.1" cy="383.9" r="1.95"/>
<circle cx="227.6" cy="383.9" r="1.95"/>
<circle cx="230.1" cy="383.9" r="1.95"/>
<circle cx="206.3" cy="386.2" r="1.95"/>
<circle cx="208.8" cy="386.2" r="1.95"/>
<circle cx="211.3" cy="386.2" r="1.95"/>
<circle cx="213.8" cy="386.2" r="1.95"/>
<circle cx="216.3" cy="386.2" r="1.95"/>
<circle cx="218.8" cy="386.2" r="1.95"/>
<circle cx="221.3" cy="386.2" r="1.95"/>
<circle cx="223.8" cy="386.2" r="1.95"/>
<circle cx="227.3" cy="386.2" r="1.95"/>
<circle cx="205.9" cy="388.6" r="1.95"/>
<circle cx="207.6" cy="388.6" r="1.95"/>
<circle cx="210.1" cy="388.6" r="1.95"/>
<circle cx="212.6" cy="388.6" r="1.95"/>
<circle cx="215.1" cy="388.6" r="1.95"/>
<circle cx="217.6" cy="388.6" r="1.95"/>
<circle cx="220.1" cy="388.6" r="1.95"/>
<circle cx="222.6" cy="388.6" r="1.95"/>
<circle cx="225.1" cy="388.6" r="1.95"/>
<circle cx="227.3" cy="388.6" r="1.95"/>
<circle cx="206.3" cy="391.0" r="1.95"/>
<circle cx="208.8" cy="391.0" r="1.95"/>
<circle cx="211.3" cy="391.0" r="1.95"/>
<circle cx="213.8" cy="391.0" r="1.95"/>
<circle cx="216.3" cy="391.0" r="1.95"/>
<circle cx="218.8" cy="391.0" r="1.95"/>
<circle cx="221.3" cy="391.0" r="1.95"/>
<circle cx="223.8" cy="391.0" r="1.95"/>
<circle cx="227.3" cy="391.0" r="1.95"/>
<circle cx="205.9" cy="393.4" r="1.95"/>
<circle cx="207.6" cy="393.4" r="1.95"/>
<circle cx="210.1" cy="393.4" r="1.95"/>
<circle cx="212.6" cy="393.4" r="1.95"/>
<circle cx="215.1" cy="393.4" r="1.95"/>
<circle cx="217.6" cy="393.4" r="1.95"/>
<circle cx="220.1" cy="393.4" r="1.95"/>
<circle cx="222.6" cy="393.4" r="1.95"/>
<circle cx="225.1" cy="393.4" r="1.95"/>
<circle cx="227.3" cy="393.4" r="1.95"/>
<circle cx="209.3" cy="395.7" r="1.95"/>
<circle cx="211.3" cy="395.7" r="1.95"/>
<circle cx="213.8" cy="395.7" r="1.95"/>
<circle cx="216.3" cy="395.7" r="1.95"/>
<circle cx="218.8" cy="395.7" r="1.95"/>
<circle cx="221.3" cy="395.7" r="1.95"/>
<circle cx="223.3" cy="395.7" r="1.95"/>
<circle cx="210.1" cy="398.1" r="1.95"/>
<circle cx="212.6" cy="398.1" r="1.95"/>
<circle cx="215.1" cy="398.1" r="1.95"/>
<circle cx="217.6" cy="398.1" r="1.95"/>
<circle cx="220.1" cy="398.1" r="1.95"/>
<circle cx="222.6" cy="398.1" r="1.95"/>
<circle cx="216.3" cy="400.5" r="1.95"/>
<circle cx="218.8" cy="400.5" r="1.95"/>
<circle cx="216.2" cy="402.9" r="1.95"/>
<circle cx="217.6" cy="402.9" r="1.95"/>
<circle cx="219.1" cy="402.9" r="1.95"/>
<circle cx="216.3" cy="405.2" r="1.95"/>
<circle cx="218.8" cy="405.2" r="1.95"/>
<circle cx="217.6" cy="407.6" r="1.95"/>
<circle cx="219.0" cy="407.6" r="1.95"/>
<circle cx="216.5" cy="410.0" r="1.95"/>
<circle cx="218.8" cy="410.0" r="1.95"/>
<circle cx="217.6" cy="412.4" r="1.95"/>
<circle cx="217.7" cy="414.8" r="1.95"/>
<circle cx="217.7" cy="323.5" r="1.95"/>
<circle cx="217.7" cy="328.2" r="1.95"/>
<circle cx="218.2" cy="431.6" r="1.95"/>
<circle cx="218.2" cy="472.3" r="1.95"/>
</g>
<line x1="83.0" y1="347.5" x2="83.0" y2="375.6" stroke="#151515" stroke-width="1.4" stroke-dasharray="4 3.5"/>
<line x1="73.4" y1="347.5" x2="92.6" y2="347.5" stroke="#151515" stroke-width="1.4"/>
<line x1="83.0" y1="400.2" x2="83.0" y2="450.6" stroke="#151515" stroke-width="1.4" stroke-dasharray="4 3.5"/>
<line x1="73.4" y1="450.6" x2="92.6" y2="450.6" stroke="#151515" stroke-width="1.4"/>
<rect x="64.8" y="375.6" width="36.4" height="24.6" fill="#fff" stroke="#151515" stroke-width="1.5"/>
<line x1="64.8" y1="387.0" x2="101.2" y2="387.0" stroke="#151515" stroke-width="3"/>
<circle cx="83" cy="327.6" r="1.95" fill="none" stroke="#151515" stroke-width="1.4"/>
<circle cx="82.8" cy="467.9" r="1.95" fill="none" stroke="#151515" stroke-width="1.4"/>
<circle cx="82.8" cy="472.5" r="1.95" fill="none" stroke="#151515" stroke-width="1.4"/>
<rect x="81.1" y="335" width="3.8" height="12.3" rx="1.9" fill="#151515"/>
<line x1="128.0" y1="331.1" x2="128.0" y2="349.4" stroke="#151515" stroke-width="1.4" stroke-dasharray="4 3.5"/>
<line x1="118.4" y1="331.1" x2="137.6" y2="331.1" stroke="#151515" stroke-width="1.4"/>
<line x1="128.0" y1="366.6" x2="128.0" y2="399.5" stroke="#151515" stroke-width="1.4" stroke-dasharray="4 3.5"/>
<line x1="118.4" y1="399.5" x2="137.6" y2="399.5" stroke="#151515" stroke-width="1.4"/>
<rect x="109.8" y="349.4" width="36.4" height="17.2" fill="#fff" stroke="#151515" stroke-width="1.5"/>
<line x1="109.8" y1="356.5" x2="146.2" y2="356.5" stroke="#151515" stroke-width="3"/>
<circle cx="128" cy="327.6" r="1.95" fill="none" stroke="#151515" stroke-width="1.4"/>
<circle cx="127.3" cy="403" r="1.95" fill="none" stroke="#151515" stroke-width="1.4"/>
<circle cx="127.3" cy="407.8" r="1.95" fill="none" stroke="#151515" stroke-width="1.4"/>
<line x1="217.6" y1="331.3" x2="217.6" y2="356.4" stroke="#151515" stroke-width="1.4" stroke-dasharray="4 3.5"/>
<line x1="208.0" y1="331.3" x2="227.2" y2="331.3" stroke="#151515" stroke-width="1.4"/>
<line x1="217.6" y1="378.2" x2="217.6" y2="419.3" stroke="#151515" stroke-width="1.4" stroke-dasharray="4 3.5"/>
<line x1="208.0" y1="419.3" x2="227.2" y2="419.3" stroke="#151515" stroke-width="1.4"/>
<rect x="199.4" y="356.4" width="36.4" height="21.8" fill="#fff" stroke="#151515" stroke-width="1.5"/>
<line x1="199.4" y1="366.0" x2="235.8" y2="366.0" stroke="#151515" stroke-width="3"/>
<circle cx="217.7" cy="323.5" r="1.95" fill="none" stroke="#151515" stroke-width="1.4"/>
<circle cx="217.7" cy="328.2" r="1.95" fill="none" stroke="#151515" stroke-width="1.4"/>
<circle cx="218.2" cy="431.6" r="1.95" fill="none" stroke="#151515" stroke-width="1.4"/>
<circle cx="218.2" cy="472.3" r="1.95" fill="none" stroke="#151515" stroke-width="1.4"/>
<path d="M316.0,310.2 V486.3 H509.4" fill="none" stroke="#151515" stroke-width="1.4"/>
<line x1="311.5" y1="327.30" x2="316.0" y2="327.30" stroke="#151515" stroke-width="1.3"/>
<text x="306.7" y="331.62" font-size="12.0" text-anchor="end" fill="#222">1000</text>
<line x1="311.5" y1="348.13" x2="316.0" y2="348.13" stroke="#151515" stroke-width="1.3"/>
<text x="306.7" y="352.45" font-size="12.0" text-anchor="end" fill="#222">500</text>
<line x1="311.5" y1="375.67" x2="316.0" y2="375.67" stroke="#151515" stroke-width="1.3"/>
<text x="306.7" y="379.99" font-size="12.0" text-anchor="end" fill="#222">200</text>
<line x1="311.5" y1="396.50" x2="316.0" y2="396.50" stroke="#151515" stroke-width="1.3"/>
<text x="306.7" y="400.82" font-size="12.0" text-anchor="end" fill="#222">100</text>
<line x1="311.5" y1="417.33" x2="316.0" y2="417.33" stroke="#151515" stroke-width="1.3"/>
<text x="306.7" y="421.65" font-size="12.0" text-anchor="end" fill="#222">50</text>
<line x1="311.5" y1="444.87" x2="316.0" y2="444.87" stroke="#151515" stroke-width="1.3"/>
<text x="306.7" y="449.19" font-size="12.0" text-anchor="end" fill="#222">20</text>
<line x1="311.5" y1="465.70" x2="316.0" y2="465.70" stroke="#151515" stroke-width="1.3"/>
<text x="306.7" y="470.02" font-size="12.0" text-anchor="end" fill="#222">10</text>
<line x1="311.5" y1="486.53" x2="316.0" y2="486.53" stroke="#151515" stroke-width="1.3"/>
<text x="306.7" y="490.85" font-size="12.0" text-anchor="end" fill="#222">5</text>
<line x1="345.3" y1="486.3" x2="345.3" y2="490.3" stroke="#151515" stroke-width="1.3"/>
<text x="350.30" y="500.10" font-size="12.6" text-anchor="end" fill="#222" transform="rotate(-45 350.30 500.10)">FHL</text>
<line x1="390.1" y1="486.3" x2="390.1" y2="490.3" stroke="#151515" stroke-width="1.3"/>
<text x="395.10" y="500.10" font-size="12.6" text-anchor="end" fill="#222" transform="rotate(-45 395.10 500.10)">Infection-1</text>
<line x1="434.6" y1="486.3" x2="434.6" y2="490.3" stroke="#151515" stroke-width="1.3"/>
<text x="439.60" y="500.10" font-size="12.6" text-anchor="end" fill="#222" transform="rotate(-45 439.60 500.10)">Infection-2</text>
<line x1="479.4" y1="486.3" x2="479.4" y2="490.3" stroke="#151515" stroke-width="1.3"/>
<text x="484.40" y="500.10" font-size="12.6" text-anchor="end" fill="#222" transform="rotate(-45 484.40 500.10)">Rheuma</text>
<text x="336.1" y="301.8" font-size="14.5" fill="#222" textLength="153.4" lengthAdjust="spacingAndGlyphs">Creatinine (micromol/L)</text>
<g stroke-width="1.6" fill="#dc3e5c" stroke="#c2002a">
<circle cx="341.4" cy="395.1" r="1.95"/>
<circle cx="342.8" cy="395.1" r="1.95"/>
<circle cx="345.3" cy="395.1" r="1.95"/>
<circle cx="347.8" cy="395.1" r="1.95"/>
<circle cx="341.6" cy="397.5" r="1.95"/>
<circle cx="344.1" cy="397.5" r="1.95"/>
<circle cx="346.6" cy="397.5" r="1.95"/>
<circle cx="348.6" cy="397.5" r="1.95"/>
<circle cx="341.4" cy="399.9" r="1.95"/>
<circle cx="342.8" cy="399.9" r="1.95"/>
<circle cx="345.3" cy="399.9" r="1.95"/>
<circle cx="347.8" cy="399.9" r="1.95"/>
<circle cx="341.6" cy="402.3" r="1.95"/>
<circle cx="344.1" cy="402.3" r="1.95"/>
<circle cx="346.6" cy="402.3" r="1.95"/>
<circle cx="348.6" cy="402.3" r="1.95"/>
<circle cx="337.8" cy="404.6" r="1.95"/>
<circle cx="340.3" cy="404.6" r="1.95"/>
<circle cx="342.8" cy="404.6" r="1.95"/>
<circle cx="345.3" cy="404.6" r="1.95"/>
<circle cx="347.8" cy="404.6" r="1.95"/>
<circle cx="350.3" cy="404.6" r="1.95"/>
<circle cx="351.9" cy="404.6" r="1.95"/>
<circle cx="332.8" cy="407.0" r="1.95"/>
<circle cx="336.6" cy="407.0" r="1.95"/>
<circle cx="339.1" cy="407.0" r="1.95"/>
<circle cx="341.6" cy="407.0" r="1.95"/>
<circle cx="344.1" cy="407.0" r="1.95"/>
<circle cx="346.6" cy="407.0" r="1.95"/>
<circle cx="349.1" cy="407.0" r="1.95"/>
<circle cx="351.6" cy="407.0" r="1.95"/>
<circle cx="355.2" cy="407.0" r="1.95"/>
<circle cx="332.8" cy="409.4" r="1.95"/>
<circle cx="335.3" cy="409.4" r="1.95"/>
<circle cx="337.8" cy="409.4" r="1.95"/>
<circle cx="340.3" cy="409.4" r="1.95"/>
<circle cx="342.8" cy="409.4" r="1.95"/>
<circle cx="345.3" cy="409.4" r="1.95"/>
<circle cx="347.8" cy="409.4" r="1.95"/>
<circle cx="350.3" cy="409.4" r="1.95"/>
<circle cx="352.8" cy="409.4" r="1.95"/>
<circle cx="355.2" cy="409.4" r="1.95"/>
<circle cx="332.8" cy="411.8" r="1.95"/>
<circle cx="336.6" cy="411.8" r="1.95"/>
<circle cx="339.1" cy="411.8" r="1.95"/>
<circle cx="341.6" cy="411.8" r="1.95"/>
<circle cx="344.1" cy="411.8" r="1.95"/>
<circle cx="346.6" cy="411.8" r="1.95"/>
<circle cx="349.1" cy="411.8" r="1.95"/>
<circle cx="351.6" cy="411.8" r="1.95"/>
<circle cx="355.2" cy="411.8" r="1.95"/>
<circle cx="331.2" cy="414.1" r="1.95"/>
<circle cx="332.8" cy="414.1" r="1.95"/>
<circle cx="335.3" cy="414.1" r="1.95"/>
<circle cx="337.8" cy="414.1" r="1.95"/>
<circle cx="340.3" cy="414.1" r="1.95"/>
<circle cx="342.8" cy="414.1" r="1.95"/>
<circle cx="345.3" cy="414.1" r="1.95"/>
<circle cx="347.8" cy="414.1" r="1.95"/>
<circle cx="350.3" cy="414.1" r="1.95"/>
<circle cx="352.8" cy="414.1" r="1.95"/>
<circle cx="355.3" cy="414.1" r="1.95"/>
<circle cx="357.2" cy="414.1" r="1.95"/>
<circle cx="331.6" cy="416.5" r="1.95"/>
<circle cx="334.1" cy="416.5" r="1.95"/>
<circle cx="336.6" cy="416.5" r="1.95"/>
<circle cx="339.1" cy="416.5" r="1.95"/>
<circle cx="341.6" cy="416.5" r="1.95"/>
<circle cx="344.1" cy="416.5" r="1.95"/>
<circle cx="346.6" cy="416.5" r="1.95"/>
<circle cx="349.1" cy="416.5" r="1.95"/>
<circle cx="351.6" cy="416.5" r="1.95"/>
<circle cx="354.1" cy="416.5" r="1.95"/>
<circle cx="356.6" cy="416.5" r="1.95"/>
<circle cx="326.4" cy="418.9" r="1.95"/>
<circle cx="330.3" cy="418.9" r="1.95"/>
<circle cx="332.8" cy="418.9" r="1.95"/>
<circle cx="335.3" cy="418.9" r="1.95"/>
<circle cx="337.8" cy="418.9" r="1.95"/>
<circle cx="340.3" cy="418.9" r="1.95"/>
<circle cx="342.8" cy="418.9" r="1.95"/>
<circle cx="345.3" cy="418.9" r="1.95"/>
<circle cx="347.8" cy="418.9" r="1.95"/>
<circle cx="350.3" cy="418.9" r="1.95"/>
<circle cx="352.8" cy="418.9" r="1.95"/>
<circle cx="355.3" cy="418.9" r="1.95"/>
<circle cx="357.8" cy="418.9" r="1.95"/>
<circle cx="360.3" cy="418.9" r="1.95"/>
<circle cx="362.8" cy="418.9" r="1.95"/>
<circle cx="329.8" cy="421.3" r="1.95"/>
<circle cx="331.6" cy="421.3" r="1.95"/>
<circle cx="334.1" cy="421.3" r="1.95"/>
<circle cx="336.6" cy="421.3" r="1.95"/>
<circle cx="339.1" cy="421.3" r="1.95"/>
<circle cx="341.6" cy="421.3" r="1.95"/>
<circle cx="344.1" cy="421.3" r="1.95"/>
<circle cx="346.6" cy="421.3" r="1.95"/>
<circle cx="349.1" cy="421.3" r="1.95"/>
<circle cx="351.6" cy="421.3" r="1.95"/>
<circle cx="354.1" cy="421.3" r="1.95"/>
<circle cx="356.6" cy="421.3" r="1.95"/>
<circle cx="359.1" cy="421.3" r="1.95"/>
<circle cx="360.8" cy="421.3" r="1.95"/>
<circle cx="330.3" cy="423.6" r="1.95"/>
<circle cx="332.8" cy="423.6" r="1.95"/>
<circle cx="335.3" cy="423.6" r="1.95"/>
<circle cx="337.8" cy="423.6" r="1.95"/>
<circle cx="340.3" cy="423.6" r="1.95"/>
<circle cx="342.8" cy="423.6" r="1.95"/>
<circle cx="345.3" cy="423.6" r="1.95"/>
<circle cx="347.8" cy="423.6" r="1.95"/>
<circle cx="350.3" cy="423.6" r="1.95"/>
<circle cx="352.8" cy="423.6" r="1.95"/>
<circle cx="355.3" cy="423.6" r="1.95"/>
<circle cx="357.8" cy="423.6" r="1.95"/>
<circle cx="360.3" cy="423.6" r="1.95"/>
<circle cx="329.8" cy="426.0" r="1.95"/>
<circle cx="331.6" cy="426.0" r="1.95"/>
<circle cx="334.1" cy="426.0" r="1.95"/>
<circle cx="336.6" cy="426.0" r="1.95"/>
<circle cx="339.1" cy="426.0" r="1.95"/>
<circle cx="341.6" cy="426.0" r="1.95"/>
<circle cx="344.1" cy="426.0" r="1.95"/>
<circle cx="346.6" cy="426.0" r="1.95"/>
<circle cx="349.1" cy="426.0" r="1.95"/>
<circle cx="351.6" cy="426.0" r="1.95"/>
<circle cx="354.1" cy="426.0" r="1.95"/>
<circle cx="356.6" cy="426.0" r="1.95"/>
<circle cx="359.1" cy="426.0" r="1.95"/>
<circle cx="360.8" cy="426.0" r="1.95"/>
<circle cx="330.3" cy="428.4" r="1.95"/>
<circle cx="332.8" cy="428.4" r="1.95"/>
<circle cx="335.3" cy="428.4" r="1.95"/>
<circle cx="337.8" cy="428.4" r="1.95"/>
<circle cx="340.3" cy="428.4" r="1.95"/>
<circle cx="342.8" cy="428.4" r="1.95"/>
<circle cx="345.3" cy="428.4" r="1.95"/>
<circle cx="347.8" cy="428.4" r="1.95"/>
<circle cx="350.3" cy="428.4" r="1.95"/>
<circle cx="352.8" cy="428.4" r="1.95"/>
<circle cx="355.3" cy="428.4" r="1.95"/>
<circle cx="357.8" cy="428.4" r="1.95"/>
<circle cx="360.3" cy="428.4" r="1.95"/>
<circle cx="329.8" cy="430.8" r="1.95"/>
<circle cx="331.6" cy="430.8" r="1.95"/>
<circle cx="334.1" cy="430.8" r="1.95"/>
<circle cx="336.6" cy="430.8" r="1.95"/>
<circle cx="339.1" cy="430.8" r="1.95"/>
<circle cx="341.6" cy="430.8" r="1.95"/>
<circle cx="344.1" cy="430.8" r="1.95"/>
<circle cx="346.6" cy="430.8" r="1.95"/>
<circle cx="349.1" cy="430.8" r="1.95"/>
<circle cx="351.6" cy="430.8" r="1.95"/>
<circle cx="354.1" cy="430.8" r="1.95"/>
<circle cx="356.6" cy="430.8" r="1.95"/>
<circle cx="359.1" cy="430.8" r="1.95"/>
<circle cx="360.8" cy="430.8" r="1.95"/>
<circle cx="330.3" cy="433.1" r="1.95"/>
<circle cx="332.8" cy="433.1" r="1.95"/>
<circle cx="335.3" cy="433.1" r="1.95"/>
<circle cx="337.8" cy="433.1" r="1.95"/>
<circle cx="340.3" cy="433.1" r="1.95"/>
<circle cx="342.8" cy="433.1" r="1.95"/>
<circle cx="345.3" cy="433.1" r="1.95"/>
<circle cx="347.8" cy="433.1" r="1.95"/>
<circle cx="350.3" cy="433.1" r="1.95"/>
<circle cx="352.8" cy="433.1" r="1.95"/>
<circle cx="355.3" cy="433.1" r="1.95"/>
<circle cx="357.8" cy="433.1" r="1.95"/>
<circle cx="360.3" cy="433.1" r="1.95"/>
<circle cx="329.8" cy="435.5" r="1.95"/>
<circle cx="331.6" cy="435.5" r="1.95"/>
<circle cx="334.1" cy="435.5" r="1.95"/>
<circle cx="336.6" cy="435.5" r="1.95"/>
<circle cx="339.1" cy="435.5" r="1.95"/>
<circle cx="341.6" cy="435.5" r="1.95"/>
<circle cx="344.1" cy="435.5" r="1.95"/>
<circle cx="346.6" cy="435.5" r="1.95"/>
<circle cx="349.1" cy="435.5" r="1.95"/>
<circle cx="351.6" cy="435.5" r="1.95"/>
<circle cx="354.1" cy="435.5" r="1.95"/>
<circle cx="356.6" cy="435.5" r="1.95"/>
<circle cx="359.1" cy="435.5" r="1.95"/>
<circle cx="360.8" cy="435.5" r="1.95"/>
<circle cx="330.3" cy="437.9" r="1.95"/>
<circle cx="332.8" cy="437.9" r="1.95"/>
<circle cx="335.3" cy="437.9" r="1.95"/>
<circle cx="337.8" cy="437.9" r="1.95"/>
<circle cx="340.3" cy="437.9" r="1.95"/>
<circle cx="342.8" cy="437.9" r="1.95"/>
<circle cx="345.3" cy="437.9" r="1.95"/>
<circle cx="347.8" cy="437.9" r="1.95"/>
<circle cx="350.3" cy="437.9" r="1.95"/>
<circle cx="352.8" cy="437.9" r="1.95"/>
<circle cx="355.3" cy="437.9" r="1.95"/>
<circle cx="357.8" cy="437.9" r="1.95"/>
<circle cx="360.3" cy="437.9" r="1.95"/>
<circle cx="329.8" cy="440.3" r="1.95"/>
<circle cx="331.6" cy="440.3" r="1.95"/>
<circle cx="334.1" cy="440.3" r="1.95"/>
<circle cx="336.6" cy="440.3" r="1.95"/>
<circle cx="339.1" cy="440.3" r="1.95"/>
<circle cx="341.6" cy="440.3" r="1.95"/>
<circle cx="344.1" cy="440.3" r="1.95"/>
<circle cx="346.6" cy="440.3" r="1.95"/>
<circle cx="349.1" cy="440.3" r="1.95"/>
<circle cx="351.6" cy="440.3" r="1.95"/>
<circle cx="354.1" cy="440.3" r="1.95"/>
<circle cx="356.6" cy="440.3" r="1.95"/>
<circle cx="359.1" cy="440.3" r="1.95"/>
<circle cx="360.8" cy="440.3" r="1.95"/>
<circle cx="330.3" cy="442.6" r="1.95"/>
<circle cx="332.8" cy="442.6" r="1.95"/>
<circle cx="335.3" cy="442.6" r="1.95"/>
<circle cx="337.8" cy="442.6" r="1.95"/>
<circle cx="340.3" cy="442.6" r="1.95"/>
<circle cx="342.8" cy="442.6" r="1.95"/>
<circle cx="345.3" cy="442.6" r="1.95"/>
<circle cx="347.8" cy="442.6" r="1.95"/>
<circle cx="350.3" cy="442.6" r="1.95"/>
<circle cx="352.8" cy="442.6" r="1.95"/>
<circle cx="355.3" cy="442.6" r="1.95"/>
<circle cx="357.8" cy="442.6" r="1.95"/>
<circle cx="360.3" cy="442.6" r="1.95"/>
<circle cx="332.6" cy="445.0" r="1.95"/>
<circle cx="334.1" cy="445.0" r="1.95"/>
<circle cx="336.6" cy="445.0" r="1.95"/>
<circle cx="339.1" cy="445.0" r="1.95"/>
<circle cx="341.6" cy="445.0" r="1.95"/>
<circle cx="344.1" cy="445.0" r="1.95"/>
<circle cx="346.6" cy="445.0" r="1.95"/>
<circle cx="349.1" cy="445.0" r="1.95"/>
<circle cx="351.6" cy="445.0" r="1.95"/>
<circle cx="354.1" cy="445.0" r="1.95"/>
<circle cx="355.9" cy="445.0" r="1.95"/>
<circle cx="332.8" cy="447.4" r="1.95"/>
<circle cx="335.3" cy="447.4" r="1.95"/>
<circle cx="337.8" cy="447.4" r="1.95"/>
<circle cx="340.3" cy="447.4" r="1.95"/>
<circle cx="342.8" cy="447.4" r="1.95"/>
<circle cx="345.3" cy="447.4" r="1.95"/>
<circle cx="347.8" cy="447.4" r="1.95"/>
<circle cx="350.3" cy="447.4" r="1.95"/>
<circle cx="352.8" cy="447.4" r="1.95"/>
<circle cx="355.3" cy="447.4" r="1.95"/>
<circle cx="332.6" cy="449.8" r="1.95"/>
<circle cx="334.1" cy="449.8" r="1.95"/>
<circle cx="336.6" cy="449.8" r="1.95"/>
<circle cx="339.1" cy="449.8" r="1.95"/>
<circle cx="341.6" cy="449.8" r="1.95"/>
<circle cx="344.1" cy="449.8" r="1.95"/>
<circle cx="346.6" cy="449.8" r="1.95"/>
<circle cx="349.1" cy="449.8" r="1.95"/>
<circle cx="351.6" cy="449.8" r="1.95"/>
<circle cx="354.1" cy="449.8" r="1.95"/>
<circle cx="355.9" cy="449.8" r="1.95"/>
<circle cx="332.8" cy="452.1" r="1.95"/>
<circle cx="335.3" cy="452.1" r="1.95"/>
<circle cx="337.8" cy="452.1" r="1.95"/>
<circle cx="340.3" cy="452.1" r="1.95"/>
<circle cx="342.8" cy="452.1" r="1.95"/>
<circle cx="345.3" cy="452.1" r="1.95"/>
<circle cx="347.8" cy="452.1" r="1.95"/>
<circle cx="350.3" cy="452.1" r="1.95"/>
<circle cx="352.8" cy="452.1" r="1.95"/>
<circle cx="355.3" cy="452.1" r="1.95"/>
<circle cx="332.8" cy="454.5" r="1.95"/>
<circle cx="336.6" cy="454.5" r="1.95"/>
<circle cx="339.1" cy="454.5" r="1.95"/>
<circle cx="341.6" cy="454.5" r="1.95"/>
<circle cx="344.1" cy="454.5" r="1.95"/>
<circle cx="346.6" cy="454.5" r="1.95"/>
<circle cx="349.1" cy="454.5" r="1.95"/>
<circle cx="351.6" cy="454.5" r="1.95"/>
<circle cx="354.1" cy="454.5" r="1.95"/>
<circle cx="355.7" cy="454.5" r="1.95"/>
<circle cx="342.8" cy="456.9" r="1.95"/>
<circle cx="345.3" cy="456.9" r="1.95"/>
<circle cx="347.2" cy="456.9" r="1.95"/>
<circle cx="342.6" cy="459.3" r="1.95"/>
<circle cx="344.1" cy="459.3" r="1.95"/>
<circle cx="346.6" cy="459.3" r="1.95"/>
<circle cx="342.8" cy="461.6" r="1.95"/>
<circle cx="345.3" cy="461.6" r="1.95"/>
<circle cx="347.2" cy="461.6" r="1.95"/>
<circle cx="344.1" cy="464.0" r="1.95"/>
<circle cx="346.6" cy="464.0" r="1.95"/>
<circle cx="343.8" cy="466.4" r="1.95"/>
<circle cx="345.3" cy="466.4" r="1.95"/>
<circle cx="347.8" cy="466.4" r="1.95"/>
<circle cx="349.9" cy="466.4" r="1.95"/>
<circle cx="344.1" cy="468.8" r="1.95"/>
<circle cx="346.6" cy="468.8" r="1.95"/>
<circle cx="349.9" cy="468.8" r="1.95"/>
<circle cx="319.1" cy="426.7" r="1.95"/>
<circle cx="321.6" cy="426.7" r="1.95"/>
<circle cx="324.1" cy="426.7" r="1.95"/>
<circle cx="326.6" cy="426.7" r="1.95"/>
<circle cx="329.1" cy="426.7" r="1.95"/>
<circle cx="331.6" cy="426.7" r="1.95"/>
<circle cx="334.1" cy="426.7" r="1.95"/>
<circle cx="336.6" cy="426.7" r="1.95"/>
<circle cx="339.1" cy="426.7" r="1.95"/>
<circle cx="341.6" cy="426.7" r="1.95"/>
<circle cx="344.1" cy="426.7" r="1.95"/>
<circle cx="346.5" cy="426.7" r="1.95"/>
<circle cx="349.0" cy="426.7" r="1.95"/>
<circle cx="351.5" cy="426.7" r="1.95"/>
<circle cx="354.0" cy="426.7" r="1.95"/>
<circle cx="356.5" cy="426.7" r="1.95"/>
<circle cx="359.0" cy="426.7" r="1.95"/>
<circle cx="361.5" cy="426.7" r="1.95"/>
<circle cx="364.0" cy="426.7" r="1.95"/>
<circle cx="366.5" cy="426.7" r="1.95"/>
<circle cx="369.0" cy="426.7" r="1.95"/>
<circle cx="371.4" cy="426.7" r="1.95"/>
<circle cx="319.1" cy="436.4" r="1.95"/>
<circle cx="321.6" cy="436.4" r="1.95"/>
<circle cx="324.1" cy="436.4" r="1.95"/>
<circle cx="326.6" cy="436.4" r="1.95"/>
<circle cx="329.1" cy="436.4" r="1.95"/>
<circle cx="331.6" cy="436.4" r="1.95"/>
<circle cx="334.1" cy="436.4" r="1.95"/>
<circle cx="336.6" cy="436.4" r="1.95"/>
<circle cx="339.1" cy="436.4" r="1.95"/>
<circle cx="341.6" cy="436.4" r="1.95"/>
<circle cx="344.1" cy="436.4" r="1.95"/>
<circle cx="346.5" cy="436.4" r="1.95"/>
<circle cx="349.0" cy="436.4" r="1.95"/>
<circle cx="351.5" cy="436.4" r="1.95"/>
<circle cx="354.0" cy="436.4" r="1.95"/>
<circle cx="356.5" cy="436.4" r="1.95"/>
<circle cx="359.0" cy="436.4" r="1.95"/>
<circle cx="361.5" cy="436.4" r="1.95"/>
<circle cx="364.0" cy="436.4" r="1.95"/>
<circle cx="366.5" cy="436.4" r="1.95"/>
<circle cx="369.0" cy="436.4" r="1.95"/>
<circle cx="371.4" cy="436.4" r="1.95"/>
<circle cx="319.1" cy="448.3" r="1.95"/>
<circle cx="321.6" cy="448.3" r="1.95"/>
<circle cx="324.1" cy="448.3" r="1.95"/>
<circle cx="326.6" cy="448.3" r="1.95"/>
<circle cx="329.1" cy="448.3" r="1.95"/>
<circle cx="331.6" cy="448.3" r="1.95"/>
<circle cx="334.1" cy="448.3" r="1.95"/>
<circle cx="336.6" cy="448.3" r="1.95"/>
<circle cx="339.1" cy="448.3" r="1.95"/>
<circle cx="341.6" cy="448.3" r="1.95"/>
<circle cx="344.1" cy="448.3" r="1.95"/>
<circle cx="346.5" cy="448.3" r="1.95"/>
<circle cx="349.0" cy="448.3" r="1.95"/>
<circle cx="351.5" cy="448.3" r="1.95"/>
<circle cx="354.0" cy="448.3" r="1.95"/>
<circle cx="356.5" cy="448.3" r="1.95"/>
<circle cx="359.0" cy="448.3" r="1.95"/>
<circle cx="361.5" cy="448.3" r="1.95"/>
<circle cx="364.0" cy="448.3" r="1.95"/>
<circle cx="366.5" cy="448.3" r="1.95"/>
<circle cx="369.0" cy="448.3" r="1.95"/>
<circle cx="371.4" cy="448.3" r="1.95"/>
<circle cx="345.3" cy="364.5" r="1.95"/>
<circle cx="345.3" cy="367.5" r="1.95"/>
<circle cx="345.7" cy="374.9" r="1.95"/>
<circle cx="348.3" cy="374.9" r="1.95"/>
<circle cx="344.9" cy="383.0" r="1.95"/>
</g>
<g stroke-width="1.6" fill="#8ccc86" stroke="#38a334">
<circle cx="374.2" cy="396.6" r="1.95"/>
<circle cx="377.6" cy="396.6" r="1.95"/>
<circle cx="380.1" cy="396.6" r="1.95"/>
<circle cx="382.6" cy="396.6" r="1.95"/>
<circle cx="385.1" cy="396.6" r="1.95"/>
<circle cx="387.6" cy="396.6" r="1.95"/>
<circle cx="390.1" cy="396.6" r="1.95"/>
<circle cx="392.6" cy="396.6" r="1.95"/>
<circle cx="395.1" cy="396.6" r="1.95"/>
<circle cx="397.6" cy="396.6" r="1.95"/>
<circle cx="400.1" cy="396.6" r="1.95"/>
<circle cx="402.6" cy="396.6" r="1.95"/>
<circle cx="404.6" cy="396.6" r="1.95"/>
<circle cx="374.2" cy="399.0" r="1.95"/>
<circle cx="376.4" cy="399.0" r="1.95"/>
<circle cx="378.9" cy="399.0" r="1.95"/>
<circle cx="381.4" cy="399.0" r="1.95"/>
<circle cx="383.9" cy="399.0" r="1.95"/>
<circle cx="386.4" cy="399.0" r="1.95"/>
<circle cx="388.9" cy="399.0" r="1.95"/>
<circle cx="391.4" cy="399.0" r="1.95"/>
<circle cx="393.9" cy="399.0" r="1.95"/>
<circle cx="396.4" cy="399.0" r="1.95"/>
<circle cx="398.9" cy="399.0" r="1.95"/>
<circle cx="401.4" cy="399.0" r="1.95"/>
<circle cx="403.9" cy="399.0" r="1.95"/>
<circle cx="374.2" cy="401.4" r="1.95"/>
<circle cx="377.6" cy="401.4" r="1.95"/>
<circle cx="380.1" cy="401.4" r="1.95"/>
<circle cx="382.6" cy="401.4" r="1.95"/>
<circle cx="385.1" cy="401.4" r="1.95"/>
<circle cx="387.6" cy="401.4" r="1.95"/>
<circle cx="390.1" cy="401.4" r="1.95"/>
<circle cx="392.6" cy="401.4" r="1.95"/>
<circle cx="395.1" cy="401.4" r="1.95"/>
<circle cx="397.6" cy="401.4" r="1.95"/>
<circle cx="400.1" cy="401.4" r="1.95"/>
<circle cx="402.6" cy="401.4" r="1.95"/>
<circle cx="404.6" cy="401.4" r="1.95"/>
<circle cx="377.8" cy="403.9" r="1.95"/>
<circle cx="381.4" cy="403.9" r="1.95"/>
<circle cx="383.9" cy="403.9" r="1.95"/>
<circle cx="386.4" cy="403.9" r="1.95"/>
<circle cx="388.9" cy="403.9" r="1.95"/>
<circle cx="391.4" cy="403.9" r="1.95"/>
<circle cx="393.9" cy="403.9" r="1.95"/>
<circle cx="396.4" cy="403.9" r="1.95"/>
<circle cx="398.9" cy="403.9" r="1.95"/>
<circle cx="401.4" cy="403.9" r="1.95"/>
<circle cx="403.4" cy="403.9" r="1.95"/>
<circle cx="377.8" cy="406.3" r="1.95"/>
<circle cx="380.1" cy="406.3" r="1.95"/>
<circle cx="382.6" cy="406.3" r="1.95"/>
<circle cx="385.1" cy="406.3" r="1.95"/>
<circle cx="387.6" cy="406.3" r="1.95"/>
<circle cx="390.1" cy="406.3" r="1.95"/>
<circle cx="392.6" cy="406.3" r="1.95"/>
<circle cx="395.1" cy="406.3" r="1.95"/>
<circle cx="397.6" cy="406.3" r="1.95"/>
<circle cx="400.1" cy="406.3" r="1.95"/>
<circle cx="402.6" cy="406.3" r="1.95"/>
<circle cx="377.8" cy="408.7" r="1.95"/>
<circle cx="381.4" cy="408.7" r="1.95"/>
<circle cx="383.9" cy="408.7" r="1.95"/>
<circle cx="386.4" cy="408.7" r="1.95"/>
<circle cx="388.9" cy="408.7" r="1.95"/>
<circle cx="391.4" cy="408.7" r="1.95"/>
<circle cx="393.9" cy="408.7" r="1.95"/>
<circle cx="396.4" cy="408.7" r="1.95"/>
<circle cx="398.9" cy="408.7" r="1.95"/>
<circle cx="401.4" cy="408.7" r="1.95"/>
<circle cx="403.4" cy="408.7" r="1.95"/>
<circle cx="377.8" cy="411.1" r="1.95"/>
<circle cx="380.1" cy="411.1" r="1.95"/>
<circle cx="382.6" cy="411.1" r="1.95"/>
<circle cx="385.1" cy="411.1" r="1.95"/>
<circle cx="387.6" cy="411.1" r="1.95"/>
<circle cx="390.1" cy="411.1" r="1.95"/>
<circle cx="392.6" cy="411.1" r="1.95"/>
<circle cx="395.1" cy="411.1" r="1.95"/>
<circle cx="397.6" cy="411.1" r="1.95"/>
<circle cx="400.1" cy="411.1" r="1.95"/>
<circle cx="402.6" cy="411.1" r="1.95"/>
<circle cx="377.8" cy="413.6" r="1.95"/>
<circle cx="381.4" cy="413.6" r="1.95"/>
<circle cx="383.9" cy="413.6" r="1.95"/>
<circle cx="386.4" cy="413.6" r="1.95"/>
<circle cx="388.9" cy="413.6" r="1.95"/>
<circle cx="391.4" cy="413.6" r="1.95"/>
<circle cx="393.9" cy="413.6" r="1.95"/>
<circle cx="396.4" cy="413.6" r="1.95"/>
<circle cx="398.9" cy="413.6" r="1.95"/>
<circle cx="401.4" cy="413.6" r="1.95"/>
<circle cx="403.4" cy="413.6" r="1.95"/>
<circle cx="368.6" cy="416.0" r="1.95"/>
<circle cx="370.1" cy="416.0" r="1.95"/>
<circle cx="372.6" cy="416.0" r="1.95"/>
<circle cx="375.1" cy="416.0" r="1.95"/>
<circle cx="377.6" cy="416.0" r="1.95"/>
<circle cx="380.1" cy="416.0" r="1.95"/>
<circle cx="382.6" cy="416.0" r="1.95"/>
<circle cx="385.1" cy="416.0" r="1.95"/>
<circle cx="387.6" cy="416.0" r="1.95"/>
<circle cx="390.1" cy="416.0" r="1.95"/>
<circle cx="392.6" cy="416.0" r="1.95"/>
<circle cx="395.1" cy="416.0" r="1.95"/>
<circle cx="397.6" cy="416.0" r="1.95"/>
<circle cx="400.1" cy="416.0" r="1.95"/>
<circle cx="402.6" cy="416.0" r="1.95"/>
<circle cx="405.1" cy="416.0" r="1.95"/>
<circle cx="407.6" cy="416.0" r="1.95"/>
<circle cx="410.1" cy="416.0" r="1.95"/>
<circle cx="412.2" cy="416.0" r="1.95"/>
<circle cx="368.9" cy="418.4" r="1.95"/>
<circle cx="371.4" cy="418.4" r="1.95"/>
<circle cx="373.9" cy="418.4" r="1.95"/>
<circle cx="376.4" cy="418.4" r="1.95"/>
<circle cx="378.9" cy="418.4" r="1.95"/>
<circle cx="381.4" cy="418.4" r="1.95"/>
<circle cx="383.9" cy="418.4" r="1.95"/>
<circle cx="386.4" cy="418.4" r="1.95"/>
<circle cx="388.9" cy="418.4" r="1.95"/>
<circle cx="391.4" cy="418.4" r="1.95"/>
<circle cx="393.9" cy="418.4" r="1.95"/>
<circle cx="396.4" cy="418.4" r="1.95"/>
<circle cx="398.9" cy="418.4" r="1.95"/>
<circle cx="401.4" cy="418.4" r="1.95"/>
<circle cx="403.9" cy="418.4" r="1.95"/>
<circle cx="406.4" cy="418.4" r="1.95"/>
<circle cx="408.9" cy="418.4" r="1.95"/>
<circle cx="412.2" cy="418.4" r="1.95"/>
<circle cx="367.9" cy="420.9" r="1.95"/>
<circle cx="370.1" cy="420.9" r="1.95"/>
<circle cx="372.6" cy="420.9" r="1.95"/>
<circle cx="375.1" cy="420.9" r="1.95"/>
<circle cx="377.6" cy="420.9" r="1.95"/>
<circle cx="380.1" cy="420.9" r="1.95"/>
<circle cx="382.6" cy="420.9" r="1.95"/>
<circle cx="385.1" cy="420.9" r="1.95"/>
<circle cx="387.6" cy="420.9" r="1.95"/>
<circle cx="390.1" cy="420.9" r="1.95"/>
<circle cx="392.6" cy="420.9" r="1.95"/>
<circle cx="395.1" cy="420.9" r="1.95"/>
<circle cx="397.6" cy="420.9" r="1.95"/>
<circle cx="400.1" cy="420.9" r="1.95"/>
<circle cx="402.6" cy="420.9" r="1.95"/>
<circle cx="405.1" cy="420.9" r="1.95"/>
<circle cx="407.6" cy="420.9" r="1.95"/>
<circle cx="410.1" cy="420.9" r="1.95"/>
<circle cx="412.2" cy="420.9" r="1.95"/>
<circle cx="367.9" cy="423.3" r="1.95"/>
<circle cx="371.4" cy="423.3" r="1.95"/>
<circle cx="373.9" cy="423.3" r="1.95"/>
<circle cx="376.4" cy="423.3" r="1.95"/>
<circle cx="378.9" cy="423.3" r="1.95"/>
<circle cx="381.4" cy="423.3" r="1.95"/>
<circle cx="383.9" cy="423.3" r="1.95"/>
<circle cx="386.4" cy="423.3" r="1.95"/>
<circle cx="388.9" cy="423.3" r="1.95"/>
<circle cx="391.4" cy="423.3" r="1.95"/>
<circle cx="393.9" cy="423.3" r="1.95"/>
<circle cx="396.4" cy="423.3" r="1.95"/>
<circle cx="398.9" cy="423.3" r="1.95"/>
<circle cx="401.4" cy="423.3" r="1.95"/>
<circle cx="403.9" cy="423.3" r="1.95"/>
<circle cx="406.4" cy="423.3" r="1.95"/>
<circle cx="408.9" cy="423.3" r="1.95"/>
<circle cx="412.2" cy="423.3" r="1.95"/>
<circle cx="367.9" cy="425.8" r="1.95"/>
<circle cx="370.1" cy="425.8" r="1.95"/>
<circle cx="372.6" cy="425.8" r="1.95"/>
<circle cx="375.1" cy="425.8" r="1.95"/>
<circle cx="377.6" cy="425.8" r="1.95"/>
<circle cx="380.1" cy="425.8" r="1.95"/>
<circle cx="382.6" cy="425.8" r="1.95"/>
<circle cx="385.1" cy="425.8" r="1.95"/>
<circle cx="387.6" cy="425.8" r="1.95"/>
<circle cx="390.1" cy="425.8" r="1.95"/>
<circle cx="392.6" cy="425.8" r="1.95"/>
<circle cx="395.1" cy="425.8" r="1.95"/>
<circle cx="397.6" cy="425.8" r="1.95"/>
<circle cx="400.1" cy="425.8" r="1.95"/>
<circle cx="402.6" cy="425.8" r="1.95"/>
<circle cx="405.1" cy="425.8" r="1.95"/>
<circle cx="407.6" cy="425.8" r="1.95"/>
<circle cx="410.1" cy="425.8" r="1.95"/>
<circle cx="412.2" cy="425.8" r="1.95"/>
<circle cx="367.9" cy="428.2" r="1.95"/>
<circle cx="371.4" cy="428.2" r="1.95"/>
<circle cx="373.9" cy="428.2" r="1.95"/>
<circle cx="376.4" cy="428.2" r="1.95"/>
<circle cx="378.9" cy="428.2" r="1.95"/>
<circle cx="381.4" cy="428.2" r="1.95"/>
<circle cx="383.9" cy="428.2" r="1.95"/>
<circle cx="386.4" cy="428.2" r="1.95"/>
<circle cx="388.9" cy="428.2" r="1.95"/>
<circle cx="391.4" cy="428.2" r="1.95"/>
<circle cx="393.9" cy="428.2" r="1.95"/>
<circle cx="396.4" cy="428.2" r="1.95"/>
<circle cx="398.9" cy="428.2" r="1.95"/>
<circle cx="401.4" cy="428.2" r="1.95"/>
<circle cx="403.9" cy="428.2" r="1.95"/>
<circle cx="406.4" cy="428.2" r="1.95"/>
<circle cx="408.9" cy="428.2" r="1.95"/>
<circle cx="412.2" cy="428.2" r="1.95"/>
<circle cx="367.9" cy="430.6" r="1.95"/>
<circle cx="370.1" cy="430.6" r="1.95"/>
<circle cx="372.6" cy="430.6" r="1.95"/>
<circle cx="375.1" cy="430.6" r="1.95"/>
<circle cx="377.6" cy="430.6" r="1.95"/>
<circle cx="380.1" cy="430.6" r="1.95"/>
<circle cx="382.6" cy="430.6" r="1.95"/>
<circle cx="385.1" cy="430.6" r="1.95"/>
<circle cx="387.6" cy="430.6" r="1.95"/>
<circle cx="390.1" cy="430.6" r="1.95"/>
<circle cx="392.6" cy="430.6" r="1.95"/>
<circle cx="395.1" cy="430.6" r="1.95"/>
<circle cx="397.6" cy="430.6" r="1.95"/>
<circle cx="400.1" cy="430.6" r="1.95"/>
<circle cx="402.6" cy="430.6" r="1.95"/>
<circle cx="405.1" cy="430.6" r="1.95"/>
<circle cx="407.6" cy="430.6" r="1.95"/>
<circle cx="410.1" cy="430.6" r="1.95"/>
<circle cx="412.2" cy="430.6" r="1.95"/>
<circle cx="367.9" cy="433.1" r="1.95"/>
<circle cx="371.4" cy="433.1" r="1.95"/>
<circle cx="373.9" cy="433.1" r="1.95"/>
<circle cx="376.4" cy="433.1" r="1.95"/>
<circle cx="378.9" cy="433.1" r="1.95"/>
<circle cx="381.4" cy="433.1" r="1.95"/>
<circle cx="383.9" cy="433.1" r="1.95"/>
<circle cx="386.4" cy="433.1" r="1.95"/>
<circle cx="388.9" cy="433.1" r="1.95"/>
<circle cx="391.4" cy="433.1" r="1.95"/>
<circle cx="393.9" cy="433.1" r="1.95"/>
<circle cx="396.4" cy="433.1" r="1.95"/>
<circle cx="398.9" cy="433.1" r="1.95"/>
<circle cx="401.4" cy="433.1" r="1.95"/>
<circle cx="403.9" cy="433.1" r="1.95"/>
<circle cx="406.4" cy="433.1" r="1.95"/>
<circle cx="408.9" cy="433.1" r="1.95"/>
<circle cx="412.2" cy="433.1" r="1.95"/>
<circle cx="367.9" cy="435.5" r="1.95"/>
<circle cx="370.1" cy="435.5" r="1.95"/>
<circle cx="372.6" cy="435.5" r="1.95"/>
<circle cx="375.1" cy="435.5" r="1.95"/>
<circle cx="377.6" cy="435.5" r="1.95"/>
<circle cx="380.1" cy="435.5" r="1.95"/>
<circle cx="382.6" cy="435.5" r="1.95"/>
<circle cx="385.1" cy="435.5" r="1.95"/>
<circle cx="387.6" cy="435.5" r="1.95"/>
<circle cx="390.1" cy="435.5" r="1.95"/>
<circle cx="392.6" cy="435.5" r="1.95"/>
<circle cx="395.1" cy="435.5" r="1.95"/>
<circle cx="397.6" cy="435.5" r="1.95"/>
<circle cx="400.1" cy="435.5" r="1.95"/>
<circle cx="402.6" cy="435.5" r="1.95"/>
<circle cx="405.1" cy="435.5" r="1.95"/>
<circle cx="407.6" cy="435.5" r="1.95"/>
<circle cx="410.1" cy="435.5" r="1.95"/>
<circle cx="412.2" cy="435.5" r="1.95"/>
<circle cx="371.4" cy="437.9" r="1.95"/>
<circle cx="373.9" cy="437.9" r="1.95"/>
<circle cx="376.4" cy="437.9" r="1.95"/>
<circle cx="378.9" cy="437.9" r="1.95"/>
<circle cx="381.4" cy="437.9" r="1.95"/>
<circle cx="383.9" cy="437.9" r="1.95"/>
<circle cx="386.4" cy="437.9" r="1.95"/>
<circle cx="388.9" cy="437.9" r="1.95"/>
<circle cx="391.4" cy="437.9" r="1.95"/>
<circle cx="393.9" cy="437.9" r="1.95"/>
<circle cx="396.4" cy="437.9" r="1.95"/>
<circle cx="398.9" cy="437.9" r="1.95"/>
<circle cx="401.4" cy="437.9" r="1.95"/>
<circle cx="403.9" cy="437.9" r="1.95"/>
<circle cx="406.4" cy="437.9" r="1.95"/>
<circle cx="408.9" cy="437.9" r="1.95"/>
<circle cx="370.8" cy="440.4" r="1.95"/>
<circle cx="372.6" cy="440.4" r="1.95"/>
<circle cx="375.1" cy="440.4" r="1.95"/>
<circle cx="377.6" cy="440.4" r="1.95"/>
<circle cx="380.1" cy="440.4" r="1.95"/>
<circle cx="382.6" cy="440.4" r="1.95"/>
<circle cx="385.1" cy="440.4" r="1.95"/>
<circle cx="387.6" cy="440.4" r="1.95"/>
<circle cx="390.1" cy="440.4" r="1.95"/>
<circle cx="392.6" cy="440.4" r="1.95"/>
<circle cx="395.1" cy="440.4" r="1.95"/>
<circle cx="397.6" cy="440.4" r="1.95"/>
<circle cx="400.1" cy="440.4" r="1.95"/>
<circle cx="402.6" cy="440.4" r="1.95"/>
<circle cx="405.1" cy="440.4" r="1.95"/>
<circle cx="407.6" cy="440.4" r="1.95"/>
<circle cx="409.2" cy="440.4" r="1.95"/>
<circle cx="371.4" cy="442.8" r="1.95"/>
<circle cx="373.9" cy="442.8" r="1.95"/>
<circle cx="376.4" cy="442.8" r="1.95"/>
<circle cx="378.9" cy="442.8" r="1.95"/>
<circle cx="381.4" cy="442.8" r="1.95"/>
<circle cx="383.9" cy="442.8" r="1.95"/>
<circle cx="386.4" cy="442.8" r="1.95"/>
<circle cx="388.9" cy="442.8" r="1.95"/>
<circle cx="391.4" cy="442.8" r="1.95"/>
<circle cx="393.9" cy="442.8" r="1.95"/>
<circle cx="396.4" cy="442.8" r="1.95"/>
<circle cx="398.9" cy="442.8" r="1.95"/>
<circle cx="401.4" cy="442.8" r="1.95"/>
<circle cx="403.9" cy="442.8" r="1.95"/>
<circle cx="406.4" cy="442.8" r="1.95"/>
<circle cx="408.9" cy="442.8" r="1.95"/>
<circle cx="372.9" cy="445.2" r="1.95"/>
<circle cx="375.1" cy="445.2" r="1.95"/>
<circle cx="377.6" cy="445.2" r="1.95"/>
<circle cx="380.1" cy="445.2" r="1.95"/>
<circle cx="382.6" cy="445.2" r="1.95"/>
<circle cx="385.1" cy="445.2" r="1.95"/>
<circle cx="387.6" cy="445.2" r="1.95"/>
<circle cx="390.1" cy="445.2" r="1.95"/>
<circle cx="392.6" cy="445.2" r="1.95"/>
<circle cx="395.1" cy="445.2" r="1.95"/>
<circle cx="397.6" cy="445.2" r="1.95"/>
<circle cx="400.1" cy="445.2" r="1.95"/>
<circle cx="402.6" cy="445.2" r="1.95"/>
<circle cx="405.1" cy="445.2" r="1.95"/>
<circle cx="407.1" cy="445.2" r="1.95"/>
<circle cx="380.3" cy="447.6" r="1.95"/>
<circle cx="383.9" cy="447.6" r="1.95"/>
<circle cx="386.4" cy="447.6" r="1.95"/>
<circle cx="388.9" cy="447.6" r="1.95"/>
<circle cx="391.4" cy="447.6" r="1.95"/>
<circle cx="393.9" cy="447.6" r="1.95"/>
<circle cx="396.4" cy="447.6" r="1.95"/>
<circle cx="399.7" cy="447.6" r="1.95"/>
<circle cx="387.6" cy="450.1" r="1.95"/>
<circle cx="390.1" cy="450.1" r="1.95"/>
<circle cx="392.6" cy="450.1" r="1.95"/>
<circle cx="387.6" cy="452.5" r="1.95"/>
<circle cx="392.4" cy="452.5" r="1.95"/>
<circle cx="388.4" cy="454.9" r="1.95"/>
<circle cx="390.1" cy="454.9" r="1.95"/>
<circle cx="391.6" cy="454.9" r="1.95"/>
<circle cx="368.6" cy="441.0" r="1.95"/>
<circle cx="371.1" cy="441.0" r="1.95"/>
<circle cx="373.6" cy="441.0" r="1.95"/>
<circle cx="376.1" cy="441.0" r="1.95"/>
<circle cx="378.6" cy="441.0" r="1.95"/>
<circle cx="381.2" cy="441.0" r="1.95"/>
<circle cx="383.7" cy="441.0" r="1.95"/>
<circle cx="386.2" cy="441.0" r="1.95"/>
<circle cx="388.7" cy="441.0" r="1.95"/>
<circle cx="391.3" cy="441.0" r="1.95"/>
<circle cx="393.8" cy="441.0" r="1.95"/>
<circle cx="396.3" cy="441.0" r="1.95"/>
<circle cx="398.8" cy="441.0" r="1.95"/>
<circle cx="401.4" cy="441.0" r="1.95"/>
<circle cx="403.9" cy="441.0" r="1.95"/>
<circle cx="406.4" cy="441.0" r="1.95"/>
<circle cx="408.9" cy="441.0" r="1.95"/>
<circle cx="411.4" cy="441.0" r="1.95"/>
<circle cx="389.8" cy="387.2" r="1.95"/>
<circle cx="390.0" cy="456.0" r="1.95"/>
</g>
<g stroke-width="1.6" fill="#5a86bc" stroke="#114888">
<circle cx="427.4" cy="381.6" r="1.95"/>
<circle cx="429.6" cy="381.6" r="1.95"/>
<circle cx="432.1" cy="381.6" r="1.95"/>
<circle cx="434.6" cy="381.6" r="1.95"/>
<circle cx="437.1" cy="381.6" r="1.95"/>
<circle cx="440.9" cy="381.6" r="1.95"/>
<circle cx="427.4" cy="384.0" r="1.95"/>
<circle cx="430.9" cy="384.0" r="1.95"/>
<circle cx="433.4" cy="384.0" r="1.95"/>
<circle cx="435.9" cy="384.0" r="1.95"/>
<circle cx="438.4" cy="384.0" r="1.95"/>
<circle cx="440.9" cy="384.0" r="1.95"/>
<circle cx="427.4" cy="386.4" r="1.95"/>
<circle cx="429.6" cy="386.4" r="1.95"/>
<circle cx="432.1" cy="386.4" r="1.95"/>
<circle cx="434.6" cy="386.4" r="1.95"/>
<circle cx="437.1" cy="386.4" r="1.95"/>
<circle cx="440.9" cy="386.4" r="1.95"/>
<circle cx="427.4" cy="388.8" r="1.95"/>
<circle cx="430.9" cy="388.8" r="1.95"/>
<circle cx="433.4" cy="388.8" r="1.95"/>
<circle cx="435.9" cy="388.8" r="1.95"/>
<circle cx="438.4" cy="388.8" r="1.95"/>
<circle cx="440.9" cy="388.8" r="1.95"/>
<circle cx="427.4" cy="391.2" r="1.95"/>
<circle cx="429.6" cy="391.2" r="1.95"/>
<circle cx="432.1" cy="391.2" r="1.95"/>
<circle cx="434.6" cy="391.2" r="1.95"/>
<circle cx="437.1" cy="391.2" r="1.95"/>
<circle cx="440.9" cy="391.2" r="1.95"/>
<circle cx="427.4" cy="393.6" r="1.95"/>
<circle cx="430.9" cy="393.6" r="1.95"/>
<circle cx="433.4" cy="393.6" r="1.95"/>
<circle cx="435.9" cy="393.6" r="1.95"/>
<circle cx="438.4" cy="393.6" r="1.95"/>
<circle cx="440.9" cy="393.6" r="1.95"/>
<circle cx="427.4" cy="396.0" r="1.95"/>
<circle cx="429.6" cy="396.0" r="1.95"/>
<circle cx="432.1" cy="396.0" r="1.95"/>
<circle cx="434.6" cy="396.0" r="1.95"/>
<circle cx="437.1" cy="396.0" r="1.95"/>
<circle cx="440.9" cy="396.0" r="1.95"/>
<circle cx="424.3" cy="398.4" r="1.95"/>
<circle cx="425.9" cy="398.4" r="1.95"/>
<circle cx="428.4" cy="398.4" r="1.95"/>
<circle cx="430.9" cy="398.4" r="1.95"/>
<circle cx="433.4" cy="398.4" r="1.95"/>
<circle cx="435.9" cy="398.4" r="1.95"/>
<circle cx="438.4" cy="398.4" r="1.95"/>
<circle cx="440.9" cy="398.4" r="1.95"/>
<circle cx="443.4" cy="398.4" r="1.95"/>
<circle cx="445.3" cy="398.4" r="1.95"/>
<circle cx="423.6" cy="400.8" r="1.95"/>
<circle cx="427.1" cy="400.8" r="1.95"/>
<circle cx="429.6" cy="400.8" r="1.95"/>
<circle cx="432.1" cy="400.8" r="1.95"/>
<circle cx="434.6" cy="400.8" r="1.95"/>
<circle cx="437.1" cy="400.8" r="1.95"/>
<circle cx="439.6" cy="400.8" r="1.95"/>
<circle cx="442.1" cy="400.8" r="1.95"/>
<circle cx="444.6" cy="400.8" r="1.95"/>
<circle cx="446.4" cy="400.8" r="1.95"/>
<circle cx="423.6" cy="403.2" r="1.95"/>
<circle cx="425.9" cy="403.2" r="1.95"/>
<circle cx="428.4" cy="403.2" r="1.95"/>
<circle cx="430.9" cy="403.2" r="1.95"/>
<circle cx="433.4" cy="403.2" r="1.95"/>
<circle cx="435.9" cy="403.2" r="1.95"/>
<circle cx="438.4" cy="403.2" r="1.95"/>
<circle cx="440.9" cy="403.2" r="1.95"/>
<circle cx="443.4" cy="403.2" r="1.95"/>
<circle cx="445.9" cy="403.2" r="1.95"/>
<circle cx="423.6" cy="405.6" r="1.95"/>
<circle cx="427.1" cy="405.6" r="1.95"/>
<circle cx="429.6" cy="405.6" r="1.95"/>
<circle cx="432.1" cy="405.6" r="1.95"/>
<circle cx="434.6" cy="405.6" r="1.95"/>
<circle cx="437.1" cy="405.6" r="1.95"/>
<circle cx="439.6" cy="405.6" r="1.95"/>
<circle cx="442.1" cy="405.6" r="1.95"/>
<circle cx="444.6" cy="405.6" r="1.95"/>
<circle cx="446.4" cy="405.6" r="1.95"/>
<circle cx="423.6" cy="408.0" r="1.95"/>
<circle cx="425.9" cy="408.0" r="1.95"/>
<circle cx="428.4" cy="408.0" r="1.95"/>
<circle cx="430.9" cy="408.0" r="1.95"/>
<circle cx="433.4" cy="408.0" r="1.95"/>
<circle cx="435.9" cy="408.0" r="1.95"/>
<circle cx="438.4" cy="408.0" r="1.95"/>
<circle cx="440.9" cy="408.0" r="1.95"/>
<circle cx="443.4" cy="408.0" r="1.95"/>
<circle cx="445.9" cy="408.0" r="1.95"/>
<circle cx="423.6" cy="410.4" r="1.95"/>
<circle cx="427.1" cy="410.4" r="1.95"/>
<circle cx="429.6" cy="410.4" r="1.95"/>
<circle cx="432.1" cy="410.4" r="1.95"/>
<circle cx="434.6" cy="410.4" r="1.95"/>
<circle cx="437.1" cy="410.4" r="1.95"/>
<circle cx="439.6" cy="410.4" r="1.95"/>
<circle cx="442.1" cy="410.4" r="1.95"/>
<circle cx="444.6" cy="410.4" r="1.95"/>
<circle cx="446.4" cy="410.4" r="1.95"/>
<circle cx="412.1" cy="412.9" r="1.95"/>
<circle cx="415.9" cy="412.9" r="1.95"/>
<circle cx="418.4" cy="412.9" r="1.95"/>
<circle cx="420.9" cy="412.9" r="1.95"/>
<circle cx="423.4" cy="412.9" r="1.95"/>
<circle cx="425.9" cy="412.9" r="1.95"/>
<circle cx="428.4" cy="412.9" r="1.95"/>
<circle cx="430.9" cy="412.9" r="1.95"/>
<circle cx="433.4" cy="412.9" r="1.95"/>
<circle cx="435.9" cy="412.9" r="1.95"/>
<circle cx="438.4" cy="412.9" r="1.95"/>
<circle cx="440.9" cy="412.9" r="1.95"/>
<circle cx="443.4" cy="412.9" r="1.95"/>
<circle cx="445.9" cy="412.9" r="1.95"/>
<circle cx="448.4" cy="412.9" r="1.95"/>
<circle cx="450.9" cy="412.9" r="1.95"/>
<circle cx="412.1" cy="415.3" r="1.95"/>
<circle cx="414.6" cy="415.3" r="1.95"/>
<circle cx="417.1" cy="415.3" r="1.95"/>
<circle cx="419.6" cy="415.3" r="1.95"/>
<circle cx="422.1" cy="415.3" r="1.95"/>
<circle cx="424.6" cy="415.3" r="1.95"/>
<circle cx="427.1" cy="415.3" r="1.95"/>
<circle cx="429.6" cy="415.3" r="1.95"/>
<circle cx="432.1" cy="415.3" r="1.95"/>
<circle cx="434.6" cy="415.3" r="1.95"/>
<circle cx="437.1" cy="415.3" r="1.95"/>
<circle cx="439.6" cy="415.3" r="1.95"/>
<circle cx="442.1" cy="415.3" r="1.95"/>
<circle cx="444.6" cy="415.3" r="1.95"/>
<circle cx="447.1" cy="415.3" r="1.95"/>
<circle cx="449.6" cy="415.3" r="1.95"/>
<circle cx="451.1" cy="415.3" r="1.95"/>
<circle cx="412.1" cy="417.7" r="1.95"/>
<circle cx="415.9" cy="417.7" r="1.95"/>
<circle cx="418.4" cy="417.7" r="1.95"/>
<circle cx="420.9" cy="417.7" r="1.95"/>
<circle cx="423.4" cy="417.7" r="1.95"/>
<circle cx="425.9" cy="417.7" r="1.95"/>
<circle cx="428.4" cy="417.7" r="1.95"/>
<circle cx="430.9" cy="417.7" r="1.95"/>
<circle cx="433.4" cy="417.7" r="1.95"/>
<circle cx="435.9" cy="417.7" r="1.95"/>
<circle cx="438.4" cy="417.7" r="1.95"/>
<circle cx="440.9" cy="417.7" r="1.95"/>
<circle cx="443.4" cy="417.7" r="1.95"/>
<circle cx="445.9" cy="417.7" r="1.95"/>
<circle cx="448.4" cy="417.7" r="1.95"/>
<circle cx="450.9" cy="417.7" r="1.95"/>
<circle cx="453.4" cy="417.7" r="1.95"/>
<circle cx="455.9" cy="417.7" r="1.95"/>
<circle cx="457.2" cy="417.7" r="1.95"/>
<circle cx="412.1" cy="420.1" r="1.95"/>
<circle cx="414.6" cy="420.1" r="1.95"/>
<circle cx="417.1" cy="420.1" r="1.95"/>
<circle cx="419.6" cy="420.1" r="1.95"/>
<circle cx="422.1" cy="420.1" r="1.95"/>
<circle cx="424.6" cy="420.1" r="1.95"/>
<circle cx="427.1" cy="420.1" r="1.95"/>
<circle cx="429.6" cy="420.1" r="1.95"/>
<circle cx="432.1" cy="420.1" r="1.95"/>
<circle cx="434.6" cy="420.1" r="1.95"/>
<circle cx="437.1" cy="420.1" r="1.95"/>
<circle cx="439.6" cy="420.1" r="1.95"/>
<circle cx="442.1" cy="420.1" r="1.95"/>
<circle cx="444.6" cy="420.1" r="1.95"/>
<circle cx="447.1" cy="420.1" r="1.95"/>
<circle cx="449.6" cy="420.1" r="1.95"/>
<circle cx="452.1" cy="420.1" r="1.95"/>
<circle cx="454.6" cy="420.1" r="1.95"/>
<circle cx="457.1" cy="420.1" r="1.95"/>
<circle cx="412.1" cy="422.5" r="1.95"/>
<circle cx="415.9" cy="422.5" r="1.95"/>
<circle cx="418.4" cy="422.5" r="1.95"/>
<circle cx="420.9" cy="422.5" r="1.95"/>
<circle cx="423.4" cy="422.5" r="1.95"/>
<circle cx="425.9" cy="422.5" r="1.95"/>
<circle cx="428.4" cy="422.5" r="1.95"/>
<circle cx="430.9" cy="422.5" r="1.95"/>
<circle cx="433.4" cy="422.5" r="1.95"/>
<circle cx="435.9" cy="422.5" r="1.95"/>
<circle cx="438.4" cy="422.5" r="1.95"/>
<circle cx="440.9" cy="422.5" r="1.95"/>
<circle cx="443.4" cy="422.5" r="1.95"/>
<circle cx="445.9" cy="422.5" r="1.95"/>
<circle cx="448.4" cy="422.5" r="1.95"/>
<circle cx="450.9" cy="422.5" r="1.95"/>
<circle cx="453.4" cy="422.5" r="1.95"/>
<circle cx="455.9" cy="422.5" r="1.95"/>
<circle cx="457.2" cy="422.5" r="1.95"/>
<circle cx="412.1" cy="424.9" r="1.95"/>
<circle cx="414.6" cy="424.9" r="1.95"/>
<circle cx="417.1" cy="424.9" r="1.95"/>
<circle cx="419.6" cy="424.9" r="1.95"/>
<circle cx="422.1" cy="424.9" r="1.95"/>
<circle cx="424.6" cy="424.9" r="1.95"/>
<circle cx="427.1" cy="424.9" r="1.95"/>
<circle cx="429.6" cy="424.9" r="1.95"/>
<circle cx="432.1" cy="424.9" r="1.95"/>
<circle cx="434.6" cy="424.9" r="1.95"/>
<circle cx="437.1" cy="424.9" r="1.95"/>
<circle cx="439.6" cy="424.9" r="1.95"/>
<circle cx="442.1" cy="424.9" r="1.95"/>
<circle cx="444.6" cy="424.9" r="1.95"/>
<circle cx="447.1" cy="424.9" r="1.95"/>
<circle cx="449.6" cy="424.9" r="1.95"/>
<circle cx="452.1" cy="424.9" r="1.95"/>
<circle cx="454.6" cy="424.9" r="1.95"/>
<circle cx="457.1" cy="424.9" r="1.95"/>
<circle cx="412.1" cy="427.3" r="1.95"/>
<circle cx="415.9" cy="427.3" r="1.95"/>
<circle cx="418.4" cy="427.3" r="1.95"/>
<circle cx="420.9" cy="427.3" r="1.95"/>
<circle cx="423.4" cy="427.3" r="1.95"/>
<circle cx="425.9" cy="427.3" r="1.95"/>
<circle cx="428.4" cy="427.3" r="1.95"/>
<circle cx="430.9" cy="427.3" r="1.95"/>
<circle cx="433.4" cy="427.3" r="1.95"/>
<circle cx="435.9" cy="427.3" r="1.95"/>
<circle cx="438.4" cy="427.3" r="1.95"/>
<circle cx="440.9" cy="427.3" r="1.95"/>
<circle cx="443.4" cy="427.3" r="1.95"/>
<circle cx="445.9" cy="427.3" r="1.95"/>
<circle cx="448.4" cy="427.3" r="1.95"/>
<circle cx="450.9" cy="427.3" r="1.95"/>
<circle cx="453.4" cy="427.3" r="1.95"/>
<circle cx="455.9" cy="427.3" r="1.95"/>
<circle cx="457.2" cy="427.3" r="1.95"/>
<circle cx="412.1" cy="429.7" r="1.95"/>
<circle cx="414.6" cy="429.7" r="1.95"/>
<circle cx="417.1" cy="429.7" r="1.95"/>
<circle cx="419.6" cy="429.7" r="1.95"/>
<circle cx="422.1" cy="429.7" r="1.95"/>
<circle cx="424.6" cy="429.7" r="1.95"/>
<circle cx="427.1" cy="429.7" r="1.95"/>
<circle cx="429.6" cy="429.7" r="1.95"/>
<circle cx="432.1" cy="429.7" r="1.95"/>
<circle cx="434.6" cy="429.7" r="1.95"/>
<circle cx="437.1" cy="429.7" r="1.95"/>
<circle cx="439.6" cy="429.7" r="1.95"/>
<circle cx="442.1" cy="429.7" r="1.95"/>
<circle cx="444.6" cy="429.7" r="1.95"/>
<circle cx="447.1" cy="429.7" r="1.95"/>
<circle cx="449.6" cy="429.7" r="1.95"/>
<circle cx="452.1" cy="429.7" r="1.95"/>
<circle cx="454.6" cy="429.7" r="1.95"/>
<circle cx="457.1" cy="429.7" r="1.95"/>
<circle cx="412.1" cy="432.1" r="1.95"/>
<circle cx="415.9" cy="432.1" r="1.95"/>
<circle cx="418.4" cy="432.1" r="1.95"/>
<circle cx="420.9" cy="432.1" r="1.95"/>
<circle cx="423.4" cy="432.1" r="1.95"/>
<circle cx="425.9" cy="432.1" r="1.95"/>
<circle cx="428.4" cy="432.1" r="1.95"/>
<circle cx="430.9" cy="432.1" r="1.95"/>
<circle cx="433.4" cy="432.1" r="1.95"/>
<circle cx="435.9" cy="432.1" r="1.95"/>
<circle cx="438.4" cy="432.1" r="1.95"/>
<circle cx="440.9" cy="432.1" r="1.95"/>
<circle cx="443.4" cy="432.1" r="1.95"/>
<circle cx="445.9" cy="432.1" r="1.95"/>
<circle cx="448.4" cy="432.1" r="1.95"/>
<circle cx="450.9" cy="432.1" r="1.95"/>
<circle cx="453.4" cy="432.1" r="1.95"/>
<circle cx="455.9" cy="432.1" r="1.95"/>
<circle cx="457.2" cy="432.1" r="1.95"/>
<circle cx="412.1" cy="434.5" r="1.95"/>
<circle cx="414.6" cy="434.5" r="1.95"/>
<circle cx="417.1" cy="434.5" r="1.95"/>
<circle cx="419.6" cy="434.5" r="1.95"/>
<circle cx="422.1" cy="434.5" r="1.95"/>
<circle cx="424.6" cy="434.5" r="1.95"/>
<circle cx="427.1" cy="434.5" r="1.95"/>
<circle cx="429.6" cy="434.5" r="1.95"/>
<circle cx="432.1" cy="434.5" r="1.95"/>
<circle cx="434.6" cy="434.5" r="1.95"/>
<circle cx="437.1" cy="434.5" r="1.95"/>
<circle cx="439.6" cy="434.5" r="1.95"/>
<circle cx="442.1" cy="434.5" r="1.95"/>
<circle cx="444.6" cy="434.5" r="1.95"/>
<circle cx="447.1" cy="434.5" r="1.95"/>
<circle cx="449.6" cy="434.5" r="1.95"/>
<circle cx="452.1" cy="434.5" r="1.95"/>
<circle cx="454.6" cy="434.5" r="1.95"/>
<circle cx="457.1" cy="434.5" r="1.95"/>
<circle cx="412.1" cy="436.9" r="1.95"/>
<circle cx="415.9" cy="436.9" r="1.95"/>
<circle cx="418.4" cy="436.9" r="1.95"/>
<circle cx="420.9" cy="436.9" r="1.95"/>
<circle cx="423.4" cy="436.9" r="1.95"/>
<circle cx="425.9" cy="436.9" r="1.95"/>
<circle cx="428.4" cy="436.9" r="1.95"/>
<circle cx="430.9" cy="436.9" r="1.95"/>
<circle cx="433.4" cy="436.9" r="1.95"/>
<circle cx="435.9" cy="436.9" r="1.95"/>
<circle cx="438.4" cy="436.9" r="1.95"/>
<circle cx="440.9" cy="436.9" r="1.95"/>
<circle cx="443.4" cy="436.9" r="1.95"/>
<circle cx="445.9" cy="436.9" r="1.95"/>
<circle cx="448.4" cy="436.9" r="1.95"/>
<circle cx="450.9" cy="436.9" r="1.95"/>
<circle cx="453.4" cy="436.9" r="1.95"/>
<circle cx="455.9" cy="436.9" r="1.95"/>
<circle cx="457.2" cy="436.9" r="1.95"/>
<circle cx="412.1" cy="439.4" r="1.95"/>
<circle cx="414.6" cy="439.4" r="1.95"/>
<circle cx="417.1" cy="439.4" r="1.95"/>
<circle cx="419.6" cy="439.4" r="1.95"/>
<circle cx="422.1" cy="439.4" r="1.95"/>
<circle cx="424.6" cy="439.4" r="1.95"/>
<circle cx="427.1" cy="439.4" r="1.95"/>
<circle cx="429.6" cy="439.4" r="1.95"/>
<circle cx="432.1" cy="439.4" r="1.95"/>
<circle cx="434.6" cy="439.4" r="1.95"/>
<circle cx="437.1" cy="439.4" r="1.95"/>
<circle cx="439.6" cy="439.4" r="1.95"/>
<circle cx="442.1" cy="439.4" r="1.95"/>
<circle cx="444.6" cy="439.4" r="1.95"/>
<circle cx="447.1" cy="439.4" r="1.95"/>
<circle cx="449.6" cy="439.4" r="1.95"/>
<circle cx="452.1" cy="439.4" r="1.95"/>
<circle cx="454.6" cy="439.4" r="1.95"/>
<circle cx="457.1" cy="439.4" r="1.95"/>
<circle cx="428.8" cy="441.8" r="1.95"/>
<circle cx="430.9" cy="441.8" r="1.95"/>
<circle cx="433.4" cy="441.8" r="1.95"/>
<circle cx="435.9" cy="441.8" r="1.95"/>
<circle cx="438.4" cy="441.8" r="1.95"/>
<circle cx="440.9" cy="441.8" r="1.95"/>
<circle cx="443.2" cy="441.8" r="1.95"/>
<circle cx="428.8" cy="444.2" r="1.95"/>
<circle cx="432.1" cy="444.2" r="1.95"/>
<circle cx="434.6" cy="444.2" r="1.95"/>
<circle cx="437.1" cy="444.2" r="1.95"/>
<circle cx="439.6" cy="444.2" r="1.95"/>
<circle cx="443.2" cy="444.2" r="1.95"/>
<circle cx="428.8" cy="446.6" r="1.95"/>
<circle cx="430.9" cy="446.6" r="1.95"/>
<circle cx="433.4" cy="446.6" r="1.95"/>
<circle cx="435.9" cy="446.6" r="1.95"/>
<circle cx="438.4" cy="446.6" r="1.95"/>
<circle cx="440.9" cy="446.6" r="1.95"/>
<circle cx="443.2" cy="446.6" r="1.95"/>
<circle cx="432.1" cy="449.0" r="1.95"/>
<circle cx="434.6" cy="449.0" r="1.95"/>
<circle cx="437.1" cy="449.0" r="1.95"/>
<circle cx="439.6" cy="449.0" r="1.95"/>
<circle cx="433.4" cy="451.4" r="1.95"/>
<circle cx="435.9" cy="451.4" r="1.95"/>
<circle cx="437.6" cy="451.4" r="1.95"/>
<circle cx="433.1" cy="453.8" r="1.95"/>
<circle cx="434.6" cy="453.8" r="1.95"/>
<circle cx="437.1" cy="453.8" r="1.95"/>
<circle cx="433.4" cy="456.2" r="1.95"/>
<circle cx="435.9" cy="456.2" r="1.95"/>
<circle cx="437.6" cy="456.2" r="1.95"/>
<circle cx="433.1" cy="458.6" r="1.95"/>
<circle cx="434.6" cy="458.6" r="1.95"/>
<circle cx="437.1" cy="458.6" r="1.95"/>
<circle cx="433.4" cy="461.0" r="1.95"/>
<circle cx="435.9" cy="461.0" r="1.95"/>
<circle cx="437.6" cy="461.0" r="1.95"/>
<circle cx="433.1" cy="463.4" r="1.95"/>
<circle cx="434.6" cy="463.4" r="1.95"/>
<circle cx="437.1" cy="463.4" r="1.95"/>
<circle cx="433.4" cy="465.8" r="1.95"/>
<circle cx="435.9" cy="465.8" r="1.95"/>
<circle cx="437.6" cy="465.8" r="1.95"/>
<circle cx="430.4" cy="468.2" r="1.95"/>
<circle cx="432.1" cy="468.2" r="1.95"/>
<circle cx="434.6" cy="468.2" r="1.95"/>
<circle cx="437.1" cy="468.2" r="1.95"/>
<circle cx="439.6" cy="468.2" r="1.95"/>
<circle cx="426.4" cy="444.2" r="1.95"/>
<circle cx="428.8" cy="444.2" r="1.95"/>
<circle cx="431.2" cy="444.2" r="1.95"/>
<circle cx="433.6" cy="444.2" r="1.95"/>
<circle cx="436.1" cy="444.2" r="1.95"/>
<circle cx="438.5" cy="444.2" r="1.95"/>
<circle cx="440.9" cy="444.2" r="1.95"/>
<circle cx="443.3" cy="444.2" r="1.95"/>
<circle cx="445.8" cy="444.2" r="1.95"/>
<circle cx="369.8" cy="448.3" r="1.95"/>
<circle cx="372.2" cy="448.3" r="1.95"/>
<circle cx="374.8" cy="448.3" r="1.95"/>
<circle cx="377.2" cy="448.3" r="1.95"/>
<circle cx="379.8" cy="448.3" r="1.95"/>
<circle cx="382.2" cy="448.3" r="1.95"/>
<circle cx="384.8" cy="448.3" r="1.95"/>
<circle cx="387.2" cy="448.3" r="1.95"/>
<circle cx="389.8" cy="448.3" r="1.95"/>
<circle cx="392.2" cy="448.3" r="1.95"/>
<circle cx="394.8" cy="448.3" r="1.95"/>
<circle cx="397.2" cy="448.3" r="1.95"/>
<circle cx="399.8" cy="448.3" r="1.95"/>
<circle cx="402.2" cy="448.3" r="1.95"/>
<circle cx="404.8" cy="448.3" r="1.95"/>
<circle cx="407.2" cy="448.3" r="1.95"/>
<circle cx="409.8" cy="448.3" r="1.95"/>
<circle cx="412.2" cy="448.3" r="1.95"/>
<circle cx="414.8" cy="448.3" r="1.95"/>
<circle cx="417.2" cy="448.3" r="1.95"/>
<circle cx="419.8" cy="448.3" r="1.95"/>
<circle cx="422.2" cy="448.3" r="1.95"/>
<circle cx="424.8" cy="448.3" r="1.95"/>
<circle cx="427.2" cy="448.3" r="1.95"/>
<circle cx="429.8" cy="448.3" r="1.95"/>
<circle cx="432.2" cy="448.3" r="1.95"/>
<circle cx="434.8" cy="448.3" r="1.95"/>
<circle cx="437.2" cy="448.3" r="1.95"/>
<circle cx="439.8" cy="448.3" r="1.95"/>
<circle cx="442.2" cy="448.3" r="1.95"/>
<circle cx="444.8" cy="448.3" r="1.95"/>
<circle cx="447.2" cy="448.3" r="1.95"/>
<circle cx="449.8" cy="448.3" r="1.95"/>
<circle cx="452.2" cy="448.3" r="1.95"/>
<circle cx="454.8" cy="448.3" r="1.95"/>
<circle cx="457.2" cy="448.3" r="1.95"/>
<circle cx="459.8" cy="448.3" r="1.95"/>
<circle cx="462.2" cy="448.3" r="1.95"/>
<circle cx="464.8" cy="448.3" r="1.95"/>
<circle cx="467.2" cy="448.3" r="1.95"/>
<circle cx="469.8" cy="448.3" r="1.95"/>
<circle cx="472.2" cy="448.3" r="1.95"/>
<circle cx="474.8" cy="448.3" r="1.95"/>
<circle cx="477.2" cy="448.3" r="1.95"/>
<circle cx="479.8" cy="448.3" r="1.95"/>
<circle cx="482.2" cy="448.3" r="1.95"/>
<circle cx="484.8" cy="448.3" r="1.95"/>
<circle cx="487.2" cy="448.3" r="1.95"/>
<circle cx="489.8" cy="448.3" r="1.95"/>
<circle cx="492.2" cy="448.3" r="1.95"/>
<circle cx="494.8" cy="448.3" r="1.95"/>
<circle cx="497.2" cy="448.3" r="1.95"/>
<circle cx="499.8" cy="448.3" r="1.95"/>
<circle cx="502.2" cy="448.3" r="1.95"/>
<circle cx="434.9" cy="323.8" r="1.95"/>
<circle cx="434.9" cy="329.8" r="1.95"/>
<circle cx="434.8" cy="473.3" r="1.95"/>
<circle cx="435.5" cy="349.7" r="1.95"/>
<circle cx="432.3" cy="353.2" r="1.95"/>
<circle cx="438.2" cy="353.2" r="1.95"/>
<circle cx="432.3" cy="356.7" r="1.95"/>
<circle cx="438.2" cy="356.7" r="1.95"/>
<circle cx="432.3" cy="362.1" r="1.95"/>
<circle cx="438.2" cy="362.1" r="1.95"/>
<circle cx="435.2" cy="359.4" r="1.95"/>
<circle cx="435.0" cy="369.1" r="1.95"/>
<circle cx="432.3" cy="372.5" r="1.95"/>
<circle cx="438.8" cy="372.5" r="1.95"/>
<circle cx="432.3" cy="374.3" r="1.95"/>
<circle cx="439.3" cy="374.3" r="1.95"/>
</g>
<g stroke-width="1.6" fill="#fbd050" stroke="#f5b900">
<circle cx="465.9" cy="396.6" r="1.95"/>
<circle cx="469.4" cy="396.6" r="1.95"/>
<circle cx="471.9" cy="396.6" r="1.95"/>
<circle cx="474.4" cy="396.6" r="1.95"/>
<circle cx="476.9" cy="396.6" r="1.95"/>
<circle cx="479.4" cy="396.6" r="1.95"/>
<circle cx="481.9" cy="396.6" r="1.95"/>
<circle cx="484.4" cy="396.6" r="1.95"/>
<circle cx="486.9" cy="396.6" r="1.95"/>
<circle cx="489.4" cy="396.6" r="1.95"/>
<circle cx="491.9" cy="396.6" r="1.95"/>
<circle cx="493.8" cy="396.6" r="1.95"/>
<circle cx="465.9" cy="399.1" r="1.95"/>
<circle cx="468.1" cy="399.1" r="1.95"/>
<circle cx="470.6" cy="399.1" r="1.95"/>
<circle cx="473.1" cy="399.1" r="1.95"/>
<circle cx="475.6" cy="399.1" r="1.95"/>
<circle cx="478.1" cy="399.1" r="1.95"/>
<circle cx="480.6" cy="399.1" r="1.95"/>
<circle cx="483.1" cy="399.1" r="1.95"/>
<circle cx="485.6" cy="399.1" r="1.95"/>
<circle cx="488.1" cy="399.1" r="1.95"/>
<circle cx="490.6" cy="399.1" r="1.95"/>
<circle cx="493.1" cy="399.1" r="1.95"/>
<circle cx="465.9" cy="401.5" r="1.95"/>
<circle cx="469.4" cy="401.5" r="1.95"/>
<circle cx="471.9" cy="401.5" r="1.95"/>
<circle cx="474.4" cy="401.5" r="1.95"/>
<circle cx="476.9" cy="401.5" r="1.95"/>
<circle cx="479.4" cy="401.5" r="1.95"/>
<circle cx="481.9" cy="401.5" r="1.95"/>
<circle cx="484.4" cy="401.5" r="1.95"/>
<circle cx="486.9" cy="401.5" r="1.95"/>
<circle cx="489.4" cy="401.5" r="1.95"/>
<circle cx="491.9" cy="401.5" r="1.95"/>
<circle cx="493.8" cy="401.5" r="1.95"/>
<circle cx="464.2" cy="403.9" r="1.95"/>
<circle cx="465.6" cy="403.9" r="1.95"/>
<circle cx="468.1" cy="403.9" r="1.95"/>
<circle cx="470.6" cy="403.9" r="1.95"/>
<circle cx="473.1" cy="403.9" r="1.95"/>
<circle cx="475.6" cy="403.9" r="1.95"/>
<circle cx="478.1" cy="403.9" r="1.95"/>
<circle cx="480.6" cy="403.9" r="1.95"/>
<circle cx="483.1" cy="403.9" r="1.95"/>
<circle cx="485.6" cy="403.9" r="1.95"/>
<circle cx="488.1" cy="403.9" r="1.95"/>
<circle cx="490.6" cy="403.9" r="1.95"/>
<circle cx="493.1" cy="403.9" r="1.95"/>
<circle cx="494.8" cy="403.9" r="1.95"/>
<circle cx="461.1" cy="406.3" r="1.95"/>
<circle cx="464.4" cy="406.3" r="1.95"/>
<circle cx="466.9" cy="406.3" r="1.95"/>
<circle cx="469.4" cy="406.3" r="1.95"/>
<circle cx="471.9" cy="406.3" r="1.95"/>
<circle cx="474.4" cy="406.3" r="1.95"/>
<circle cx="476.9" cy="406.3" r="1.95"/>
<circle cx="479.4" cy="406.3" r="1.95"/>
<circle cx="481.9" cy="406.3" r="1.95"/>
<circle cx="484.4" cy="406.3" r="1.95"/>
<circle cx="486.9" cy="406.3" r="1.95"/>
<circle cx="489.4" cy="406.3" r="1.95"/>
<circle cx="491.9" cy="406.3" r="1.95"/>
<circle cx="494.4" cy="406.3" r="1.95"/>
<circle cx="496.8" cy="406.3" r="1.95"/>
<circle cx="461.1" cy="408.8" r="1.95"/>
<circle cx="463.1" cy="408.8" r="1.95"/>
<circle cx="465.6" cy="408.8" r="1.95"/>
<circle cx="468.1" cy="408.8" r="1.95"/>
<circle cx="470.6" cy="408.8" r="1.95"/>
<circle cx="473.1" cy="408.8" r="1.95"/>
<circle cx="475.6" cy="408.8" r="1.95"/>
<circle cx="478.1" cy="408.8" r="1.95"/>
<circle cx="480.6" cy="408.8" r="1.95"/>
<circle cx="483.1" cy="408.8" r="1.95"/>
<circle cx="485.6" cy="408.8" r="1.95"/>
<circle cx="488.1" cy="408.8" r="1.95"/>
<circle cx="490.6" cy="408.8" r="1.95"/>
<circle cx="493.1" cy="408.8" r="1.95"/>
<circle cx="496.8" cy="408.8" r="1.95"/>
<circle cx="449.4" cy="411.2" r="1.95"/>
<circle cx="451.9" cy="411.2" r="1.95"/>
<circle cx="454.4" cy="411.2" r="1.95"/>
<circle cx="456.9" cy="411.2" r="1.95"/>
<circle cx="459.4" cy="411.2" r="1.95"/>
<circle cx="461.9" cy="411.2" r="1.95"/>
<circle cx="464.4" cy="411.2" r="1.95"/>
<circle cx="466.9" cy="411.2" r="1.95"/>
<circle cx="469.4" cy="411.2" r="1.95"/>
<circle cx="471.9" cy="411.2" r="1.95"/>
<circle cx="474.4" cy="411.2" r="1.95"/>
<circle cx="476.9" cy="411.2" r="1.95"/>
<circle cx="479.4" cy="411.2" r="1.95"/>
<circle cx="481.9" cy="411.2" r="1.95"/>
<circle cx="484.4" cy="411.2" r="1.95"/>
<circle cx="486.9" cy="411.2" r="1.95"/>
<circle cx="489.4" cy="411.2" r="1.95"/>
<circle cx="491.9" cy="411.2" r="1.95"/>
<circle cx="494.4" cy="411.2" r="1.95"/>
<circle cx="496.9" cy="411.2" r="1.95"/>
<circle cx="499.4" cy="411.2" r="1.95"/>
<circle cx="501.9" cy="411.2" r="1.95"/>
<circle cx="504.4" cy="411.2" r="1.95"/>
<circle cx="506.2" cy="411.2" r="1.95"/>
<circle cx="448.8" cy="413.6" r="1.95"/>
<circle cx="450.6" cy="413.6" r="1.95"/>
<circle cx="453.1" cy="413.6" r="1.95"/>
<circle cx="455.6" cy="413.6" r="1.95"/>
<circle cx="458.1" cy="413.6" r="1.95"/>
<circle cx="460.6" cy="413.6" r="1.95"/>
<circle cx="463.1" cy="413.6" r="1.95"/>
<circle cx="465.6" cy="413.6" r="1.95"/>
<circle cx="468.1" cy="413.6" r="1.95"/>
<circle cx="470.6" cy="413.6" r="1.95"/>
<circle cx="473.1" cy="413.6" r="1.95"/>
<circle cx="475.6" cy="413.6" r="1.95"/>
<circle cx="478.1" cy="413.6" r="1.95"/>
<circle cx="480.6" cy="413.6" r="1.95"/>
<circle cx="483.1" cy="413.6" r="1.95"/>
<circle cx="485.6" cy="413.6" r="1.95"/>
<circle cx="488.1" cy="413.6" r="1.95"/>
<circle cx="490.6" cy="413.6" r="1.95"/>
<circle cx="493.1" cy="413.6" r="1.95"/>
<circle cx="495.6" cy="413.6" r="1.95"/>
<circle cx="498.1" cy="413.6" r="1.95"/>
<circle cx="500.6" cy="413.6" r="1.95"/>
<circle cx="503.1" cy="413.6" r="1.95"/>
<circle cx="505.6" cy="413.6" r="1.95"/>
<circle cx="449.4" cy="416.0" r="1.95"/>
<circle cx="451.9" cy="416.0" r="1.95"/>
<circle cx="454.4" cy="416.0" r="1.95"/>
<circle cx="456.9" cy="416.0" r="1.95"/>
<circle cx="459.4" cy="416.0" r="1.95"/>
<circle cx="461.9" cy="416.0" r="1.95"/>
<circle cx="464.4" cy="416.0" r="1.95"/>
<circle cx="466.9" cy="416.0" r="1.95"/>
<circle cx="469.4" cy="416.0" r="1.95"/>
<circle cx="471.9" cy="416.0" r="1.95"/>
<circle cx="474.4" cy="416.0" r="1.95"/>
<circle cx="476.9" cy="416.0" r="1.95"/>
<circle cx="479.4" cy="416.0" r="1.95"/>
<circle cx="481.9" cy="416.0" r="1.95"/>
<circle cx="484.4" cy="416.0" r="1.95"/>
<circle cx="486.9" cy="416.0" r="1.95"/>
<circle cx="489.4" cy="416.0" r="1.95"/>
<circle cx="491.9" cy="416.0" r="1.95"/>
<circle cx="494.4" cy="416.0" r="1.95"/>
<circle cx="496.9" cy="416.0" r="1.95"/>
<circle cx="499.4" cy="416.0" r="1.95"/>
<circle cx="501.9" cy="416.0" r="1.95"/>
<circle cx="504.4" cy="416.0" r="1.95"/>
<circle cx="506.2" cy="416.0" r="1.95"/>
<circle cx="448.8" cy="418.4" r="1.95"/>
<circle cx="450.6" cy="418.4" r="1.95"/>
<circle cx="453.1" cy="418.4" r="1.95"/>
<circle cx="455.6" cy="418.4" r="1.95"/>
<circle cx="458.1" cy="418.4" r="1.95"/>
<circle cx="460.6" cy="418.4" r="1.95"/>
<circle cx="463.1" cy="418.4" r="1.95"/>
<circle cx="465.6" cy="418.4" r="1.95"/>
<circle cx="468.1" cy="418.4" r="1.95"/>
<circle cx="470.6" cy="418.4" r="1.95"/>
<circle cx="473.1" cy="418.4" r="1.95"/>
<circle cx="475.6" cy="418.4" r="1.95"/>
<circle cx="478.1" cy="418.4" r="1.95"/>
<circle cx="480.6" cy="418.4" r="1.95"/>
<circle cx="483.1" cy="418.4" r="1.95"/>
<circle cx="485.6" cy="418.4" r="1.95"/>
<circle cx="488.1" cy="418.4" r="1.95"/>
<circle cx="490.6" cy="418.4" r="1.95"/>
<circle cx="493.1" cy="418.4" r="1.95"/>
<circle cx="495.6" cy="418.4" r="1.95"/>
<circle cx="498.1" cy="418.4" r="1.95"/>
<circle cx="500.6" cy="418.4" r="1.95"/>
<circle cx="503.1" cy="418.4" r="1.95"/>
<circle cx="505.6" cy="418.4" r="1.95"/>
<circle cx="449.4" cy="420.9" r="1.95"/>
<circle cx="451.9" cy="420.9" r="1.95"/>
<circle cx="454.4" cy="420.9" r="1.95"/>
<circle cx="456.9" cy="420.9" r="1.95"/>
<circle cx="459.4" cy="420.9" r="1.95"/>
<circle cx="461.9" cy="420.9" r="1.95"/>
<circle cx="464.4" cy="420.9" r="1.95"/>
<circle cx="466.9" cy="420.9" r="1.95"/>
<circle cx="469.4" cy="420.9" r="1.95"/>
<circle cx="471.9" cy="420.9" r="1.95"/>
<circle cx="474.4" cy="420.9" r="1.95"/>
<circle cx="476.9" cy="420.9" r="1.95"/>
<circle cx="479.4" cy="420.9" r="1.95"/>
<circle cx="481.9" cy="420.9" r="1.95"/>
<circle cx="484.4" cy="420.9" r="1.95"/>
<circle cx="486.9" cy="420.9" r="1.95"/>
<circle cx="489.4" cy="420.9" r="1.95"/>
<circle cx="491.9" cy="420.9" r="1.95"/>
<circle cx="494.4" cy="420.9" r="1.95"/>
<circle cx="496.9" cy="420.9" r="1.95"/>
<circle cx="499.4" cy="420.9" r="1.95"/>
<circle cx="501.9" cy="420.9" r="1.95"/>
<circle cx="504.4" cy="420.9" r="1.95"/>
<circle cx="506.2" cy="420.9" r="1.95"/>
<circle cx="448.8" cy="423.3" r="1.95"/>
<circle cx="450.6" cy="423.3" r="1.95"/>
<circle cx="453.1" cy="423.3" r="1.95"/>
<circle cx="455.6" cy="423.3" r="1.95"/>
<circle cx="458.1" cy="423.3" r="1.95"/>
<circle cx="460.6" cy="423.3" r="1.95"/>
<circle cx="463.1" cy="423.3" r="1.95"/>
<circle cx="465.6" cy="423.3" r="1.95"/>
<circle cx="468.1" cy="423.3" r="1.95"/>
<circle cx="470.6" cy="423.3" r="1.95"/>
<circle cx="473.1" cy="423.3" r="1.95"/>
<circle cx="475.6" cy="423.3" r="1.95"/>
<circle cx="478.1" cy="423.3" r="1.95"/>
<circle cx="480.6" cy="423.3" r="1.95"/>
<circle cx="483.1" cy="423.3" r="1.95"/>
<circle cx="485.6" cy="423.3" r="1.95"/>
<circle cx="488.1" cy="423.3" r="1.95"/>
<circle cx="490.6" cy="423.3" r="1.95"/>
<circle cx="493.1" cy="423.3" r="1.95"/>
<circle cx="495.6" cy="423.3" r="1.95"/>
<circle cx="498.1" cy="423.3" r="1.95"/>
<circle cx="500.6" cy="423.3" r="1.95"/>
<circle cx="503.1" cy="423.3" r="1.95"/>
<circle cx="505.6" cy="423.3" r="1.95"/>
<circle cx="449.4" cy="425.7" r="1.95"/>
<circle cx="451.9" cy="425.7" r="1.95"/>
<circle cx="454.4" cy="425.7" r="1.95"/>
<circle cx="456.9" cy="425.7" r="1.95"/>
<circle cx="459.4" cy="425.7" r="1.95"/>
<circle cx="461.9" cy="425.7" r="1.95"/>
<circle cx="464.4" cy="425.7" r="1.95"/>
<circle cx="466.9" cy="425.7" r="1.95"/>
<circle cx="469.4" cy="425.7" r="1.95"/>
<circle cx="471.9" cy="425.7" r="1.95"/>
<circle cx="474.4" cy="425.7" r="1.95"/>
<circle cx="476.9" cy="425.7" r="1.95"/>
<circle cx="479.4" cy="425.7" r="1.95"/>
<circle cx="481.9" cy="425.7" r="1.95"/>
<circle cx="484.4" cy="425.7" r="1.95"/>
<circle cx="486.9" cy="425.7" r="1.95"/>
<circle cx="489.4" cy="425.7" r="1.95"/>
<circle cx="491.9" cy="425.7" r="1.95"/>
<circle cx="494.4" cy="425.7" r="1.95"/>
<circle cx="496.9" cy="425.7" r="1.95"/>
<circle cx="499.4" cy="425.7" r="1.95"/>
<circle cx="501.9" cy="425.7" r="1.95"/>
<circle cx="504.4" cy="425.7" r="1.95"/>
<circle cx="506.2" cy="425.7" r="1.95"/>
<circle cx="448.8" cy="428.1" r="1.95"/>
<circle cx="450.6" cy="428.1" r="1.95"/>
<circle cx="453.1" cy="428.1" r="1.95"/>
<circle cx="455.6" cy="428.1" r="1.95"/>
<circle cx="458.1" cy="428.1" r="1.95"/>
<circle cx="460.6" cy="428.1" r="1.95"/>
<circle cx="463.1" cy="428.1" r="1.95"/>
<circle cx="465.6" cy="428.1" r="1.95"/>
<circle cx="468.1" cy="428.1" r="1.95"/>
<circle cx="470.6" cy="428.1" r="1.95"/>
<circle cx="473.1" cy="428.1" r="1.95"/>
<circle cx="475.6" cy="428.1" r="1.95"/>
<circle cx="478.1" cy="428.1" r="1.95"/>
<circle cx="480.6" cy="428.1" r="1.95"/>
<circle cx="483.1" cy="428.1" r="1.95"/>
<circle cx="485.6" cy="428.1" r="1.95"/>
<circle cx="488.1" cy="428.1" r="1.95"/>
<circle cx="490.6" cy="428.1" r="1.95"/>
<circle cx="493.1" cy="428.1" r="1.95"/>
<circle cx="495.6" cy="428.1" r="1.95"/>
<circle cx="498.1" cy="428.1" r="1.95"/>
<circle cx="500.6" cy="428.1" r="1.95"/>
<circle cx="503.1" cy="428.1" r="1.95"/>
<circle cx="505.6" cy="428.1" r="1.95"/>
<circle cx="454.8" cy="430.5" r="1.95"/>
<circle cx="456.9" cy="430.5" r="1.95"/>
<circle cx="459.4" cy="430.5" r="1.95"/>
<circle cx="461.9" cy="430.5" r="1.95"/>
<circle cx="464.4" cy="430.5" r="1.95"/>
<circle cx="466.9" cy="430.5" r="1.95"/>
<circle cx="469.4" cy="430.5" r="1.95"/>
<circle cx="471.9" cy="430.5" r="1.95"/>
<circle cx="474.4" cy="430.5" r="1.95"/>
<circle cx="476.9" cy="430.5" r="1.95"/>
<circle cx="479.4" cy="430.5" r="1.95"/>
<circle cx="481.9" cy="430.5" r="1.95"/>
<circle cx="484.4" cy="430.5" r="1.95"/>
<circle cx="486.9" cy="430.5" r="1.95"/>
<circle cx="489.4" cy="430.5" r="1.95"/>
<circle cx="491.9" cy="430.5" r="1.95"/>
<circle cx="494.4" cy="430.5" r="1.95"/>
<circle cx="496.9" cy="430.5" r="1.95"/>
<circle cx="499.4" cy="430.5" r="1.95"/>
<circle cx="501.9" cy="430.5" r="1.95"/>
<circle cx="504.4" cy="430.5" r="1.95"/>
<circle cx="506.2" cy="430.5" r="1.95"/>
<circle cx="469.0" cy="433.0" r="1.95"/>
<circle cx="470.6" cy="433.0" r="1.95"/>
<circle cx="473.1" cy="433.0" r="1.95"/>
<circle cx="475.6" cy="433.0" r="1.95"/>
<circle cx="478.1" cy="433.0" r="1.95"/>
<circle cx="480.6" cy="433.0" r="1.95"/>
<circle cx="483.1" cy="433.0" r="1.95"/>
<circle cx="485.6" cy="433.0" r="1.95"/>
<circle cx="488.1" cy="433.0" r="1.95"/>
<circle cx="491.5" cy="433.0" r="1.95"/>
<circle cx="469.4" cy="435.4" r="1.95"/>
<circle cx="471.9" cy="435.4" r="1.95"/>
<circle cx="474.4" cy="435.4" r="1.95"/>
<circle cx="476.9" cy="435.4" r="1.95"/>
<circle cx="479.4" cy="435.4" r="1.95"/>
<circle cx="481.9" cy="435.4" r="1.95"/>
<circle cx="484.4" cy="435.4" r="1.95"/>
<circle cx="486.9" cy="435.4" r="1.95"/>
<circle cx="489.4" cy="435.4" r="1.95"/>
<circle cx="491.4" cy="435.4" r="1.95"/>
<circle cx="469.8" cy="437.8" r="1.95"/>
<circle cx="473.1" cy="437.8" r="1.95"/>
<circle cx="475.6" cy="437.8" r="1.95"/>
<circle cx="478.1" cy="437.8" r="1.95"/>
<circle cx="480.6" cy="437.8" r="1.95"/>
<circle cx="483.1" cy="437.8" r="1.95"/>
<circle cx="485.6" cy="437.8" r="1.95"/>
<circle cx="488.1" cy="437.8" r="1.95"/>
<circle cx="491.8" cy="437.8" r="1.95"/>
<circle cx="470.6" cy="440.2" r="1.95"/>
<circle cx="474.4" cy="440.2" r="1.95"/>
<circle cx="476.9" cy="440.2" r="1.95"/>
<circle cx="479.4" cy="440.2" r="1.95"/>
<circle cx="481.9" cy="440.2" r="1.95"/>
<circle cx="484.4" cy="440.2" r="1.95"/>
<circle cx="486.9" cy="440.2" r="1.95"/>
<circle cx="490.6" cy="440.2" r="1.95"/>
<circle cx="471.5" cy="442.6" r="1.95"/>
<circle cx="473.1" cy="442.6" r="1.95"/>
<circle cx="475.6" cy="442.6" r="1.95"/>
<circle cx="478.1" cy="442.6" r="1.95"/>
<circle cx="480.6" cy="442.6" r="1.95"/>
<circle cx="483.1" cy="442.6" r="1.95"/>
<circle cx="485.6" cy="442.6" r="1.95"/>
<circle cx="489.0" cy="442.6" r="1.95"/>
<circle cx="472.4" cy="445.1" r="1.95"/>
<circle cx="474.4" cy="445.1" r="1.95"/>
<circle cx="476.9" cy="445.1" r="1.95"/>
<circle cx="479.4" cy="445.1" r="1.95"/>
<circle cx="481.9" cy="445.1" r="1.95"/>
<circle cx="484.4" cy="445.1" r="1.95"/>
<circle cx="486.9" cy="445.1" r="1.95"/>
<circle cx="473.5" cy="447.5" r="1.95"/>
<circle cx="475.6" cy="447.5" r="1.95"/>
<circle cx="478.1" cy="447.5" r="1.95"/>
<circle cx="480.6" cy="447.5" r="1.95"/>
<circle cx="483.1" cy="447.5" r="1.95"/>
<circle cx="486.5" cy="447.5" r="1.95"/>
<circle cx="474.5" cy="449.9" r="1.95"/>
<circle cx="476.9" cy="449.9" r="1.95"/>
<circle cx="479.4" cy="449.9" r="1.95"/>
<circle cx="481.9" cy="449.9" r="1.95"/>
<circle cx="485.3" cy="449.9" r="1.95"/>
<circle cx="475.9" cy="452.3" r="1.95"/>
<circle cx="478.1" cy="452.3" r="1.95"/>
<circle cx="480.6" cy="452.3" r="1.95"/>
<circle cx="484.0" cy="452.3" r="1.95"/>
<circle cx="477.5" cy="454.8" r="1.95"/>
<circle cx="479.4" cy="454.8" r="1.95"/>
<circle cx="481.9" cy="454.8" r="1.95"/>
<circle cx="457.9" cy="436.1" r="1.95"/>
<circle cx="460.5" cy="436.1" r="1.95"/>
<circle cx="463.0" cy="436.1" r="1.95"/>
<circle cx="465.5" cy="436.1" r="1.95"/>
<circle cx="468.0" cy="436.1" r="1.95"/>
<circle cx="470.6" cy="436.1" r="1.95"/>
<circle cx="473.1" cy="436.1" r="1.95"/>
<circle cx="475.6" cy="436.1" r="1.95"/>
<circle cx="478.1" cy="436.1" r="1.95"/>
<circle cx="480.6" cy="436.1" r="1.95"/>
<circle cx="483.2" cy="436.1" r="1.95"/>
<circle cx="485.7" cy="436.1" r="1.95"/>
<circle cx="488.2" cy="436.1" r="1.95"/>
<circle cx="490.7" cy="436.1" r="1.95"/>
<circle cx="493.2" cy="436.1" r="1.95"/>
<circle cx="495.8" cy="436.1" r="1.95"/>
<circle cx="498.3" cy="436.1" r="1.95"/>
<circle cx="500.8" cy="436.1" r="1.95"/>
<circle cx="503.3" cy="436.1" r="1.95"/>
<circle cx="505.9" cy="436.1" r="1.95"/>
<circle cx="479.8" cy="366.3" r="1.95"/>
<circle cx="479.8" cy="373.8" r="1.95"/>
<circle cx="479.6" cy="469.5" r="1.95"/>
</g>
<line x1="345.3" y1="402.5" x2="345.3" y2="421.8" stroke="#151515" stroke-width="1.4" stroke-dasharray="4 3.5"/>
<line x1="335.7" y1="402.5" x2="354.90000000000003" y2="402.5" stroke="#151515" stroke-width="1.4"/>
<line x1="345.3" y1="446.0" x2="345.3" y2="469.3" stroke="#151515" stroke-width="1.4" stroke-dasharray="4 3.5"/>
<line x1="335.7" y1="469.3" x2="354.90000000000003" y2="469.3" stroke="#151515" stroke-width="1.4"/>
<rect x="327.1" y="421.8" width="36.4" height="24.2" fill="#fff" stroke="#151515" stroke-width="1.5"/>
<line x1="327.1" y1="436.0" x2="363.5" y2="436.0" stroke="#151515" stroke-width="3"/>
<circle cx="345.3" cy="364.5" r="1.95" fill="none" stroke="#151515" stroke-width="1.4"/>
<circle cx="345.3" cy="367.5" r="1.95" fill="none" stroke="#151515" stroke-width="1.4"/>
<circle cx="345.7" cy="374.9" r="1.95" fill="none" stroke="#151515" stroke-width="1.4"/>
<circle cx="344.9" cy="383" r="1.95" fill="none" stroke="#151515" stroke-width="1.4"/>
<rect x="343.4" y="392.5" width="3.8" height="10.0" rx="1.9" fill="#151515"/>
<line x1="390.1" y1="399.6" x2="390.1" y2="416.9" stroke="#151515" stroke-width="1.4" stroke-dasharray="4 3.5"/>
<line x1="380.5" y1="399.6" x2="399.70000000000005" y2="399.6" stroke="#151515" stroke-width="1.4"/>
<line x1="390.1" y1="437.1" x2="390.1" y2="455.4" stroke="#151515" stroke-width="1.4" stroke-dasharray="4 3.5"/>
<line x1="380.5" y1="455.4" x2="399.70000000000005" y2="455.4" stroke="#151515" stroke-width="1.4"/>
<rect x="371.9" y="416.9" width="36.4" height="20.2" fill="#fff" stroke="#151515" stroke-width="1.5"/>
<line x1="371.9" y1="427.5" x2="408.3" y2="427.5" stroke="#151515" stroke-width="3"/>
<circle cx="389.8" cy="387.2" r="1.95" fill="none" stroke="#151515" stroke-width="1.4"/>
<rect x="388.2" y="395.2" width="3.8" height="4.4" rx="1.9" fill="#151515"/>
<line x1="434.6" y1="396.2" x2="434.6" y2="413.8" stroke="#151515" stroke-width="1.4" stroke-dasharray="4 3.5"/>
<line x1="425.0" y1="396.2" x2="444.20000000000005" y2="396.2" stroke="#151515" stroke-width="1.4"/>
<line x1="434.6" y1="441.5" x2="434.6" y2="472.3" stroke="#151515" stroke-width="1.4" stroke-dasharray="4 3.5"/>
<line x1="425.0" y1="472.3" x2="444.20000000000005" y2="472.3" stroke="#151515" stroke-width="1.4"/>
<rect x="416.4" y="413.8" width="36.4" height="27.7" fill="#fff" stroke="#151515" stroke-width="1.5"/>
<line x1="416.4" y1="427.6" x2="452.8" y2="427.6" stroke="#151515" stroke-width="3"/>
<circle cx="434.9" cy="323.8" r="1.95" fill="none" stroke="#151515" stroke-width="1.4"/>
<circle cx="434.9" cy="329.8" r="1.95" fill="none" stroke="#151515" stroke-width="1.4"/>
<circle cx="435.5" cy="349.7" r="1.95" fill="none" stroke="#151515" stroke-width="1.4"/>
<circle cx="435" cy="369.1" r="1.95" fill="none" stroke="#151515" stroke-width="1.4"/>
<rect x="433.0" y="351" width="3.8" height="7.0" rx="1.9" fill="#151515"/>
<rect x="433.0" y="378.8" width="3.8" height="17.4" rx="1.9" fill="#151515"/>
<line x1="479.4" y1="396.7" x2="479.4" y2="411.3" stroke="#151515" stroke-width="1.4" stroke-dasharray="4 3.5"/>
<line x1="469.79999999999995" y1="396.7" x2="489.0" y2="396.7" stroke="#151515" stroke-width="1.4"/>
<line x1="479.4" y1="429.7" x2="479.4" y2="469.3" stroke="#151515" stroke-width="1.4" stroke-dasharray="4 3.5"/>
<line x1="469.79999999999995" y1="469.3" x2="489.0" y2="469.3" stroke="#151515" stroke-width="1.4"/>
<rect x="461.2" y="411.3" width="36.4" height="18.4" fill="#fff" stroke="#151515" stroke-width="1.5"/>
<line x1="461.2" y1="421.1" x2="497.6" y2="421.1" stroke="#151515" stroke-width="3"/>
<circle cx="479.8" cy="366.3" r="1.95" fill="none" stroke="#151515" stroke-width="1.4"/>
<circle cx="479.8" cy="373.8" r="1.95" fill="none" stroke="#151515" stroke-width="1.4"/>
<rect x="0.5" y="0.5" width="519" height="555" fill="none" stroke="#000" stroke-width="1"/>
</svg></body></html>
